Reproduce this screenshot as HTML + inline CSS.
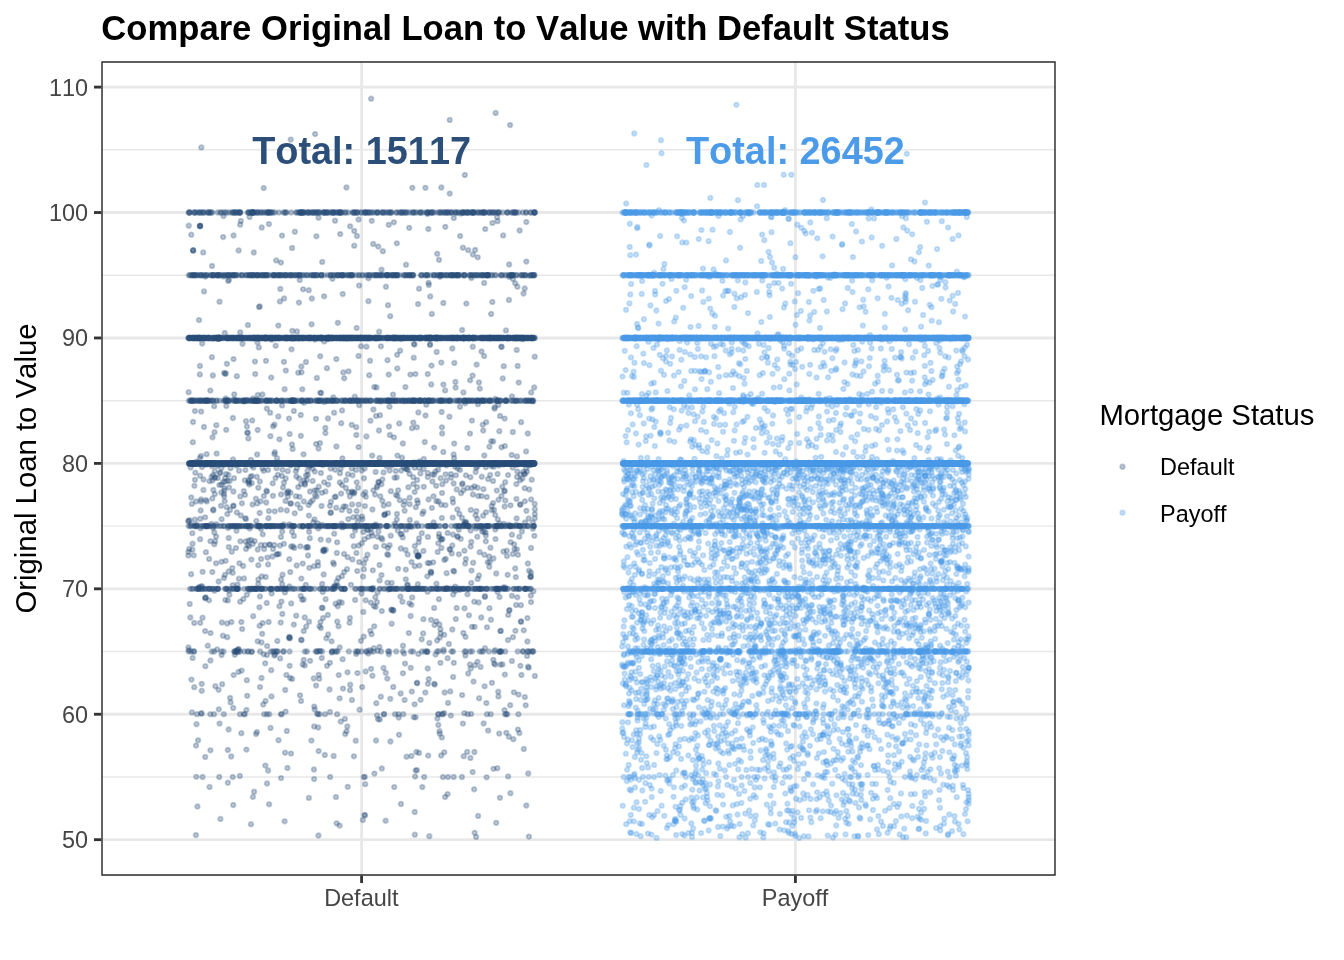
<!DOCTYPE html>
<html><head><meta charset="utf-8"><title>Compare Original Loan to Value with Default Status</title>
<style>
html,body{margin:0;padding:0;background:#fff}
body{width:1344px;height:960px;overflow:hidden}
svg{display:block;will-change:transform}
svg text{font-family:"Liberation Sans",sans-serif;font-kerning:none}
.mD{marker-start:url(#kD);marker-mid:url(#kD);marker-end:url(#kD)}
.mP{marker-start:url(#kP);marker-mid:url(#kP);marker-end:url(#kP)}
</style></head><body>
<svg width="1344" height="960" viewBox="0 0 1344 960">
<defs>
<marker id="kD" markerWidth="10" markerHeight="10" refX="5" refY="5" markerUnits="userSpaceOnUse"><circle cx="5" cy="5" r="2.25" fill="#2B4F79" fill-opacity=".3" stroke="#2B4F79" stroke-opacity=".3" stroke-width="1.8"/></marker>
<marker id="kP" markerWidth="10" markerHeight="10" refX="5" refY="5" markerUnits="userSpaceOnUse"><circle cx="5" cy="5" r="2.25" fill="#4C9BE8" fill-opacity=".3" stroke="#4C9BE8" stroke-opacity=".3" stroke-width="1.8"/></marker>
<clipPath id="cp"><rect x="101.3" y="61.3" width="954.4000000000001" height="814.4000000000001"/></clipPath>
</defs>
<rect width="1344" height="960" fill="#fff"/>
<g clip-path="url(#cp)">
<g stroke="#E8E8E8" stroke-width="1.42">
<line x1="101.3" x2="1055.7" y1="776.97" y2="776.97"/>
<line x1="101.3" x2="1055.7" y1="651.53" y2="651.53"/>
<line x1="101.3" x2="1055.7" y1="526.11" y2="526.11"/>
<line x1="101.3" x2="1055.7" y1="400.67" y2="400.67"/>
<line x1="101.3" x2="1055.7" y1="275.25" y2="275.25"/>
<line x1="101.3" x2="1055.7" y1="149.81" y2="149.81"/>
</g><g stroke="#E8E8E8" stroke-width="2.84">
<line x1="101.3" x2="1055.7" y1="839.68" y2="839.68"/>
<line x1="101.3" x2="1055.7" y1="714.25" y2="714.25"/>
<line x1="101.3" x2="1055.7" y1="588.82" y2="588.82"/>
<line x1="101.3" x2="1055.7" y1="463.39" y2="463.39"/>
<line x1="101.3" x2="1055.7" y1="337.96" y2="337.96"/>
<line x1="101.3" x2="1055.7" y1="212.53" y2="212.53"/>
<line x1="101.3" x2="1055.7" y1="87.10" y2="87.10"/>
<line x1="361.6" x2="361.6" y1="61.3" y2="875.7"/>
<line x1="795.4" x2="795.4" y1="61.3" y2="875.7"/>
</g>
<g fill="none" stroke="none">
<path class="mD" d="M446.6,573.2 347.9,474.2 465.1,403.3 517.6,366 519.6,230.5 382.8,251.2 253.2,616.2 413.8,717.2 243.4,599 200.2,518.7 460.6,213.6 508.1,475.1 393.2,686.9 227.3,514.1 341.6,523.7 517.4,286.7 365.6,671.4 249.3,484.6 388.5,504.2 327,665.8 380.7,401.4 329.5,477.7 359.1,285.6 252.5,504.5 304.7,665.4 201.7,690.7 480.5,666.9 453,502.5 342.4,458.3 325.5,491.4 472.9,494.5 280.9,262.6 396.8,519.5 292.3,330.8 221,505.8 224.7,501.3 397.5,495.8 350,690.2 204,291.4 224.9,373.8 210.5,633.1 427.7,668.5 300.3,546.3 271.6,593.6 195.9,835.1 234,478.2 349.5,622.7 516.4,498.9 226.2,429.8 280.7,622.6 285.7,478.4 346.4,187.5 265.3,765.6 361.8,543.3 441.6,412 336.3,359.1 388.2,589.5 205.3,276.6 356.6,511 380,415.2 427.7,472.9 271.2,377.6 323,618 379.6,580.4 304.7,483.2 252.9,398.4 494.5,408.7 357.9,487.7 270.5,727.9 225.6,398.4 512.8,554 414.1,344.1 362.1,516.6 253.8,252.5 226.6,507.2 434.2,474.5 351.9,699.9 298.8,464.4 335.5,586.3 531,602.1 464.7,524 478.6,602.5 381.5,575.1 265.9,360.8 474.6,832.8 401.2,470.5 511.7,455 444.3,752.3 287.8,496.6 427.3,576.3 472.6,772.1 318.1,565.7 314.7,709.5 408.8,633.1 442.4,539 270.1,412.7 364.9,815.3 486.6,777.3 427.5,214 256.3,520.9 205.9,552.2 389.6,545.2 294.3,547.9 343.3,372.4 414.5,467.7 309,621.7 441.1,504.7 442,492.9 304.9,484.7 530.9,572.3 463.4,490.3 301.5,640.2 341.2,423.2 399.2,423.4 352.5,492.6 365.8,496.7 340.5,468.8 479.8,388.6 434.7,684.6 216.2,524.2 335.9,797.1 338.3,577.9 312.6,468.6 453.8,218.1 282.3,614 229.6,480.9 203.2,252.4 202.1,343.5 440.6,478.2 279.9,545.6 334.1,412.7 232.9,418 219.5,301.7 409.8,519.9 449.7,119.9 339.9,473.2 515.4,630.8 285.5,500.9 319.2,678.7 346.6,338.6 285.8,370.6 233,459.4 406.5,468.9 263.2,704.5 326.3,638.3 219.5,723.6 288,492.3 223.1,481.9 501.4,447.3 248.6,540.5 246.3,463.8 306.8,480 434.1,607.9 524.9,522.5 501.3,346.6 419.4,565.6 390.2,316.2 318.7,674.8 444.2,634.8 423.4,551 236.8,512.5 449.7,193.6 353.9,756.3 251.4,559.6 409.6,504.2 270.5,589.4 510.4,793.2 528.2,773.5 278.5,740.2 213.2,509.5 331.6,641.3 191.8,503.9 323.9,549.4 282.2,584.2 197.4,806.5 194.9,411.1 289.2,638.2 414.7,566.2 246.9,426.6 305.9,547.5 245,494.8 354.7,396.7 265.5,700.9 419.1,555.2 253.4,467.6 296.2,615.7 357.2,571.1 465.1,563.5 447,587.9 196,745.6 414.7,812 472.9,254.6 233.2,805 410.7,667.8 205.8,500.1 200.9,501.4 356.4,552.9 221.5,561.8 266.4,490.7 211.9,357.2 268.9,224.1 493.3,659.8 240.8,515.5 230.1,698 188.4,521.3 439.8,637.5 341.1,493.6 195.3,472.7 228.7,590.5 350.2,684.7 534.8,675.9 223.9,464.7 289.8,638.2 396.9,514 225.3,599.9 356.6,327.9 445.1,390.4 205.3,666.2 291.2,603.4 233.4,506.1 449.4,416.7 379.8,719.4 309.3,567.8 378.2,246.6 454.1,458.2 442.1,433.5 376.5,387.4 262.2,633.8 338.5,626.3 205.1,631.1 420.4,473.4 484.9,596.2 216.3,425.2 515.2,568.5 471.1,713.9 220.4,472.6 516.2,524.8 191.2,497.5 363.9,569.3 188.8,650.2 342,410.4 417.9,555.4 457.6,537 510.5,505.3 262.7,534.3 439,533.9 200.6,510.5 231.4,622.1 468.2,673.5 530.7,577 457.4,536.2 440.3,464.8 246.6,463.2 198.9,587 224.7,333 201.8,586.5 529,570.7 431.1,619.8 249.5,217 214.3,532.5 498.4,696.4 496.8,490.6 386.5,466.3 335,220.7 369.4,650.2 450.9,474.1 478,404.2 530.8,595.5 524.3,473.8 291.9,444.5 471.3,541.8 282,405.4 330.5,512.9 444.9,588.9 322.2,261.9 394.5,477.7 301.3,366.5 292.9,546.4 300.8,435.8 471.4,277.9 436.4,583.7 488,479.1 445.7,558.8 369.2,375.2 314.1,726.5 305.9,361.9 200.2,622.8 406.9,337.9 460,470 290.5,492.7 397.3,368.4 246.4,749.6 385,513.9 408.4,487.2 534.2,212.5 470.8,509.9 218.5,689.8 321.5,506 284.1,298.5 263.6,470.8 375,494.6 464.4,550.7 240.1,224.7 430.6,571.7 433.2,562.3 250.9,540 377.2,486.1 508.1,776.4 228,528.1 223.8,494 290.1,678 310.1,660.8 376,415.9 433.5,522.5 343,688.6 492.4,222.9 284.6,389.2 531,547.9 416.9,682.7 432.3,474.6 315,495.4 475.1,250 273,549 217.7,478 240.3,496.4 226,474 342.6,659.2 496.2,822.8 233.3,505.7 381.5,269.7 308.8,797.9 252.2,420.4 363.3,611.9 279.9,301.4 445.6,474.3 336.6,823.3 404.8,501.2 358.5,219.5 261.5,678 435.5,654.6 219.3,485.1 282.2,531.6 465.9,521.9 259.6,513 239,470.7 473.5,681.6 476.1,467.7 238.1,652.1 205.1,598.2 280.7,509.7 224.4,490.4 502.4,664.4 510.1,125.1 372.4,675.7 251.7,483.1 325.3,428 307.8,475 478.9,382.5 283.9,482.8 385.7,672.8 232.7,585.2 288.1,491.2 325.4,433.1 192.3,533.2 194,651.4 379.1,331.7 316,418.8 512.9,279 466,522.9 318.3,528.6 404.6,699.9 308.9,515.6 215.1,541.2 373.9,606 227.8,750 227.8,600.4 301.1,484.1 282.4,469.8 508.9,736.7 491.7,510.2 281,579.5 495.2,650.1 388.7,374.6 233.6,675.1 390.4,741.5 286.4,674.9 387.9,548 275.6,345.7 444.1,713.1 477.7,257.3 299.5,496.8 489.7,561.9 291,753.6 329.9,712 504.4,490.7 332.4,278.8 417.8,584.2 503.1,235.4 286.6,492.9 474.6,626.8 534.8,518.2 251.7,476 364.6,468.5 486.2,422.2 345.2,734.1 380.8,696.7 511.9,534.7 409.4,603.3 302.1,599.7 261.7,227.5 381.8,768.5 341.9,576.2 333.1,562.6 318.2,727.5 278.3,325.6 283.9,543.8 443.3,451.9 501.5,495.9 387.2,554.2 468.2,250.2 362.8,820 206.8,501.4 283,487.5 418.1,556.4 489.1,556.5 219.8,473.1 472.7,346.7 190.6,467.4 528.6,275.8 286.8,510.5 483.6,723.5 278.9,553.9 495.8,463.8 230.6,702.4 299.7,280.1 246.8,594.8 436.6,351.9 363.5,494.4 266.8,408.6 301.3,578.6 454.3,362.9 244.8,480.3 268.6,622 242.5,343.8 191.4,679.6 201.2,713.2 289.3,586.5 330.6,468.6 192.6,657.9 300.7,595.9 295.9,496.2 478.1,815.9 337.8,322.8 289,418.6 527.1,655.9 427.7,374.1 293.9,535.9 354.4,492.3 339.6,698.3 471.5,570.6 234.8,654.7 200,226 344.6,589.2 370.7,528.8 388,513.1 191.1,574.2 431.1,572.2 343.4,465 263.7,654.3 499.5,597.1 322.1,584 214.5,432.2 493.1,503.1 484.8,596.9 428.5,282.8 407.6,554.4 333.3,397.3 194.9,519.6 491.9,682.8 380.3,496.3 467.5,487.9 418.3,653.9 464.5,608.3 393.9,437.3 417.1,683.3 195,479.8 402.8,443.5 328.5,540.3 479.6,552.2 355.1,599.9 254.7,541.1 310,491.5 501.6,347 228.7,537.9 372.2,455.6 192.8,442.2 437.6,551.9 355.9,469.9 322.7,592.1 273.1,426.3 276.7,554.3 280.1,658.4 294.7,513.3 241.3,622.1 462.6,483.3 520.5,474.6 287.4,768 510.6,542.2 494,663.4 313.3,522.2 471.9,420.6 530.7,576 495.5,539.1 248.3,438.4 276.2,260.4 224.8,574.9 304,480.3 371.1,98.7 285.6,711.6 247.2,695.8 259.4,607.3 357.4,673.1 443.3,303 228.9,279.8 377.8,650.9 419.1,538.3 484.9,648.2 465.5,636.8 373.8,648.2 361.7,470.5 265.2,663.3 429.3,642.9 368.2,653.6 415.6,717.3 365.2,784.2 368.4,301.2 190.3,617.5 476.6,364.6 531.7,479.7 474.4,486.3 427.7,562.9 399.8,500.2 413.3,422.6 188.4,520.8 337.2,621.6 199.9,457.8 430,344.2 370.8,602.6 503.1,587.6 418.3,556.5 531.1,499.4 246.4,710 303.1,289.3 372.3,589.5 336.7,581.5 256.9,732.1 321.7,658 467.1,751.9 215.2,477.2 234.2,394.3 520.9,605.2 464.8,175 349.8,496.4 381.2,537.9 526.3,222.1 284.6,821.3 442.3,484.2 320.2,392.8 191.9,712.4 423.7,458.9 333.6,755.9 258.1,401.1 402.9,673.3 434.2,683.8 268.4,518.2 201.7,683.8 436.4,501.2 277,458.2 462.1,695.1 439.4,624.5 321.1,393 308,555.5 246.8,680.2 460.7,538.8 472,626.8 481.5,351.5 215.3,686.2 366.4,436.4 368.2,529.9 242.1,629.1 213.3,490 350.1,226.3 526.1,468.5 455.1,586.6 335.6,603.7 484.3,554.7 451,477.7 246,549 450.2,691.4 200,226 236.3,465.7 497.8,519.4 270.4,436.2 272.4,556.5 422.4,513.8 463.3,633 364.9,506.1 422.3,787.1 463.4,392.4 417.8,503 196.3,776.8 519.3,536.7 260,687.1 428.5,499.5 316.8,377.9 228.6,571.5 421.8,533.2 423.1,633.4 532.7,401.4 481,528.2 467.4,594.3 440.4,662.8 314.2,706.6 428.2,755.6 470.7,668.6 271.2,670.2 318.5,448.6 258.3,565.2 252.9,796.9 502.7,378.4 278.3,416.4 365.7,559.1 427.7,477.1 250.5,476.8 473.1,562.7 311.6,324.3 483.4,489.2 320,443.1 289.4,636.8 516.1,604.9 300.7,415 500.7,630.9 433.5,496.3 522.9,339.1 324.1,482.3 466.3,303.6 522.4,478.4 211.6,476.7 354.2,231 262.7,623.1 347.5,672.3 465.4,655.5 439.1,536.8 376,740.5 400.6,534.2 451.1,337.8 443.5,649.7 499.9,797.8 470.6,546.6 393.1,610.5 494.1,510 402.7,537.4 524.8,697.1 398.7,717.5 411.5,562.1 499.2,733.6 352.4,559.4 265.7,577 429.3,836.2 281,778.1 296.9,468.3 378.8,482.1 428.3,229 289.6,665.8 303.8,501.4 469.9,664.4 324.2,341.4 524.6,488.2 289.3,559.2 232.7,572.8 516.8,549.3 293.8,410.9 414.8,546 228.2,280.9 359.2,405.2 414.8,834.7 340.2,234.1 221.3,484.6 317.7,523.3 476.4,511.1 274.3,545 498.2,405 528.7,518.4 534.8,514.1 488.1,730.6 358.5,504.6 441.8,517.9 402.4,601.7 462.1,330 477.5,661.8 213.3,510.4 342.3,527.4 196.5,724.2 513.3,739.2 412.3,187.8 405.4,387.1 431.5,365.6 225.1,478 427.6,591.8 534.7,356.7 487,627.3 216.1,536.6 352.6,535.8 194.2,622.9 521.9,531.5 206.6,454.2 508.2,614.9 479,575.4 409.5,473.9 246,421.2 450.1,549.8 371.1,668.8 306.2,626.4 193.7,555.3 303.9,402.8 201,499.5 402,457.7 406.2,529.7 201.3,147.4 441.7,539.6 416.4,752 252.7,544 259.6,625.7 484.1,282.9 225.9,373.5 199.9,365.9 520.3,504.7 507.6,574.8 374.2,626.3 426.2,404.7 241.6,670.6 520.1,504.3 331.6,652.4 224.1,372.8 217,649.4 300,695.3 268.1,564.4 416.9,770.2 245.4,469.9 378.4,482 348.5,371.3 400.6,693.5 375.6,606.9 527.7,433.5 221.5,655 264.1,549.1 534.6,503.9 366.4,346.7 358.6,545.5 519.3,525.8 294.8,231.7 416.5,523.5 255.2,374.1 486,512.3 418.6,542.3 193.1,250.4 220.4,818.9 400.8,548.5 457.6,468.5 314.1,779.1 528.9,836.6 534.2,212.5 201,455.9 510.2,705.2 261.5,642.4 508.9,299.9 241.9,503.3 388.8,654.3 291.1,546.5 518.5,694.6 506.3,732.8 201.9,467.1 468.9,615.3 313.9,769.5 228.8,547.1 498.8,465.6 440.4,629.2 506.9,550.7 368.4,278.3 376.9,602.1 385.9,286.7 322.5,608 221.4,468.1 499.4,523.5 356.2,427.2 201.1,411.6 315.1,134.1 256.8,476.8 533.4,591.2 411.4,526.9 348.7,492.1 485.8,535.6 452.6,498.6 507.9,640.1 474.2,601.7 339.8,482.5 492.3,301.9 377,715.4 240.2,332.3 301,700.9 314.8,471.6 364,478.3 374.3,387 490.1,474.9 292.1,678.9 448,702.9 226.3,406.1 423.5,511.6 237.4,649.9 200,226 303.5,454.3 212,266 345.7,506.6 306.4,465 266.7,602.9 289.6,433.9 452.3,348.5 483.1,515.7 484.3,455.5 293.8,624.6 503.9,523.8 275.5,478.1 359.5,709.7 502.3,486.7 342.7,294.1 302.7,563.6 372.4,509.5 222.9,635.7 506.9,556.1 464.5,522.1 342.1,485 254.1,791.7 515.2,283.3 445.4,505.2 455.8,619.1 500,416 325.8,549.8 406.1,468.8 367.1,529.8 474.8,665.2 260.8,544.9 210.4,750.3 300.3,508.2 320.8,628.1 299.2,478.5 517.3,597.3 230.5,468.2 340.7,721.6 387.5,360.2 323.6,574.4 245.9,518.9 526.4,510.8 240.8,220.9 353.3,517.2 460.1,236.1 534.3,535.8 458.8,529.7 497.3,768.2 260.6,501.3 458.8,554.3 456.6,608 267,783.5 419,288.7 248.8,546.2 358.5,447.1 499.3,652 223.6,276.4 437.1,640.5 377.5,536.8 443.4,384.6 356.3,435 205.4,597.7 208.9,600.3 316.1,444 485.6,532.6 257.7,394.9 203.9,427 334.7,497 391.7,465.4 259.7,306.4 274.7,511.3 247.2,432.7 324.1,551.3 229.4,594.7 532.8,522.6 485.8,541.3 530.9,464.9 205.2,756.9 389.6,470.5 504.8,674.6 524.8,501.3 302.7,664.4 382.3,539.4 441.3,362.6 355.1,530.6 490.4,547.7 389.5,406.7 521.4,675 362.1,687.1 233.5,235.5 439.7,733.7 509.3,276.9 344.2,378.3 441.3,187.5 453.6,483.5 324.1,296.3 364.5,539.2 353.9,493.6 194.2,687.2 189.7,603.9 465.9,475.3 233.2,707.9 203.4,489.9 201.5,586.4 376.3,703.2 451.7,553.4 367.4,554.7 238.6,649.4 385.6,820.7 504.5,491.3 414.6,704.3 346,480.1 262.5,468.4 224.1,496.4 334.2,533.7 353.8,546.2 320.2,356.3 485.2,229.1 445.1,797 188.4,551.9 228.4,475 388.1,651.3 295.8,471.3 454.1,571.5 274.4,453.9 455.3,590.9 251.6,465.7 280.9,536.9 285.1,752.7 214.2,406.2 362.3,519.3 201.5,713.7 335.2,469.8 211.4,524 212.4,480.5 360.9,346.2 279.4,439.3 298.2,487.1 365.6,600.3 393,394.6 431.2,384.4 382.4,500.8 318.5,217.7 203.5,479.5 438.3,724.9 399,734.8 508.6,524.7 336.2,507.7 233.4,491.5 431.8,313.9 188.4,647.5 493,480.9 438.3,501.4 282.5,574.7 322.7,465.1 315.1,339.6 212.3,572.1 261.6,576.5 213,527.9 444.6,692.5 436.2,485.8 452.3,629.5 410.6,616 484.1,356.1 470.4,757.9 503.7,366.2 320.7,539.6 424.7,442 309.8,538.2 489.3,566.8 193.1,250.4 526.3,805.5 244,578.4 383.5,472.4 526.3,261.6 491.4,466.2 388.9,426.5 417.8,555.6 470.6,530.5 314,566.2 245.2,518.2 519.4,733.1 281,494.5 339.7,647.5 336.4,446.5 210.4,541.2 327.9,418.5 432.4,481.5 329.9,662.8 277.3,640.9 413.9,462.3 336.8,552.9 260.9,528.9 388.7,224.8 470.1,380.3 226.9,363.8 324.1,402 246.7,399.9 350.9,584.8 223.5,216.1 497.1,217.2 274.8,452.2 453.2,594.4 235.9,548.1 505.2,482.2 344.8,718.9 527.4,641.5 344.1,572.1 440.7,539 322.1,525 434.5,625 398.2,490.3 281,400.9 517.6,464.2 407.8,585.2 192.5,543.7 477.3,536.7 381.8,611.1 395.9,495 312.6,500.3 524.7,288.5 290.2,572.1 398.1,568.8 238.2,649.2 393.8,222.3 412.2,597.4 199.8,374.4 344,553.9 396.7,477.4 494.7,407.2 306,475.3 363.7,636.6 248.5,480.2 257.6,430 271.5,339.7 257.6,641.3 447.6,533 454.2,443.6 356.9,236 497.6,592.1 374.4,773.6 289.3,637.3 503.2,464.6 409.6,497.7 313.7,678.4 303.6,599.4 314.4,519.3 243.8,401.6 418,304.1 441.1,755.5 523.8,748.9 355.3,527.4 394.9,523.6 378.4,531.4 461,493.2 438.9,599.2 437.4,718.5 257.1,454.5 212.5,437.3 391.6,623.7 213.1,475.2 267.1,646.1 341.7,602.7 324.8,755 292.1,248 205.8,464.7 281.4,601.6 474.4,752 325.6,599.2 209.1,558.9 349.5,511 243.8,491.1 511.9,660.9 370.3,630.8 450.8,715.6 482.7,424.7 312.6,480.9 290.6,503.4 390.7,535.7 455.9,475.3 356.2,654 400.4,596.6 292.6,449 258.3,487.7 223.9,577.9 266.9,491.6 365.3,492.2 247.9,325.1 214.3,544.3 447.6,658.2 269.1,804.3 205.6,597.4 527,471.7 267.5,464.3 498.5,499.7 518.7,382.6 379.5,565 516.4,484.1 216.6,453.6 534.2,387.4 504.6,506.6 318.4,835.5 241.3,733.2 496.2,573.5 245.5,541.4 349.9,618 227.5,480.7 376.7,463.9 320.5,622.1 336.8,586.6 516.6,518.5 509.1,610.4 272.7,483.3 526.1,451.4 534.2,212.5 214.6,478 212.8,375.5 274.4,424.6 493.4,558.5 249.5,590.1 415.8,507.2 453.1,676.9 430,345.1 437.2,253.8 521.1,621.7 438.8,651.2 456.7,489.4 296.4,476.6 512.9,637.2 221.6,519.2 316.6,496.4 474.1,789.3 337.7,606.3 258.3,583.8 477.6,578.9 401.7,533.9 339.3,602 351.7,468.4 375.3,597.2 283.9,361.8 305.8,584.8 504.8,587.3 495.2,664.6 431.9,507.9 269.5,544.7 459.9,406.7 236.8,376.2 479.1,698.2 218.2,339.1 327.8,615 523.4,471.8 321.8,607.7 418.3,412.4 449.5,549.1 388.2,555.1 405.8,579.3 247.8,432.8 405.8,569.6 463.7,756.2 355.7,740.7 471.9,488.1 309.1,531.8 337.6,585.7 334.8,585.6 499.3,431.2 441.4,547.9 517.3,471.6 188.6,392.2 193.1,250.4 403.6,504.9 272.9,495.8 516.9,456.4 413.7,357.7 520.8,621.5 417.1,487.2 259.8,481.6 308.6,505 261,558.9 209.5,481.2 218.6,581.5 318.6,751.1 397.1,354.8 472.6,375.6 411.4,604.8 495.6,112.9 493.8,466.7 329.9,505.8 232.3,568.1 390.8,491.2 359.7,465.5 303.7,631 363.3,532 373.4,409.5 483.2,430.6 356.7,482.3 415.1,776.5 403.9,467.4 308.7,290.2 266.9,655 230,509.9 528,666.7 400.9,804 371.5,634.2 419.3,467.9 373.4,490.3 302.3,389.3 268,470.1 250.9,824.2 191.2,234.7 417.2,500.3 397.8,530.6 317.8,561.9 436.3,621.3 500.4,630.9 257.2,503.4 224.9,481.7 311.2,464.8 290.6,465.4 200.1,475.7 236.5,530.8 475.6,472 409.2,227.8 430.2,296.4 223.1,237.1 198.1,740.3 268.9,511.1 384.1,515.1 482.1,526.7 404,653.6 196,501.5 471.2,582.9 233.5,359.1 481.5,496.1 248.8,481.5 330.8,512.4 439.8,276.8 423.4,619.2 304.7,617.4 484.1,531.6 417.1,480.1 489.4,446.7 427.9,683.8 224.2,488.1 316.8,490.6 360.9,640.8 202.6,571.8 527.8,563.5 400.6,339 205.1,517.3 498.2,691.7 258.3,579.4 412.6,464.5 318.7,486.7 363.1,576.6 407.1,584.7 464.3,524.3 523.5,293.5 470.4,477.2 200,226 462.9,723.6 457.3,509.4 509.5,610.1 476,528.6 225.6,560.8 322.9,550.9 452.9,534.5 291.5,349.3 375.8,546.9 495.3,398.8 320.9,473 438.3,543.3 337.1,542.3 368.3,536.9 425.4,187.8 529.2,489.4 530.4,576.9 202.5,617.7 481.2,617.5 258.5,275.3 269.7,544.6 240.4,541.3 382.6,463.6 327.5,339 361.5,593.6 452.7,517.6 523.7,630.3 380.9,346.3 438.1,469.7 281.9,476 267.4,557.6 378.9,430.5 347.3,726.5 387.4,582.7 439,259.8 266.2,502.5 285.2,690 485.8,467.2 493.2,441.4 297.4,504.3 517.9,729.6 221.3,492.5 238.9,578.7 249.6,528.6 528.9,465.5 341.8,509.9 441.8,737.4 310.4,502.2 310.9,464.9 406,264.7 298.9,302.6 464.3,713.2 412,428.2 477.6,466.6 317.4,713.7 406.5,756.7 207.7,645.7 484.6,686.3 405,663.6 391.3,609.8 428.7,679.1 459.4,514 227.2,637.2 371.5,532.9 475.5,515.3 375.6,471.9 271.4,696.4 515.8,577.1 393.3,610.5 214.4,590.7 200.5,528.3 363.9,563.5 489.4,608.2 455.6,387.6 212.3,498.4 500.4,664.6 477.4,519 477.6,487.7 227.2,623.4 427.4,652.1 319.8,651.2 348.3,519.1 335.7,496.7 221.9,622.5 199,587.7 268.1,770.5 309.5,466.5 329.5,689.5 434.1,447.6 410.4,374.6 376.8,487.4 378.1,719.2 379.5,457.9 284.9,592.4 319.5,626.3 447.6,794.1 440.6,633.3 416,551.7 255.9,498.7 491.6,505.9 534.8,509.2 517,476.9 513.9,692.3 524.9,474 382.4,479.5 314.7,490.3 527.4,618.1 227.8,782.7 455.4,382 441.9,427.3 214.8,494.1 453.8,662.8 210.3,390.6 448.8,644 521.1,422.2 263.8,496 497.5,473.9 514.1,544.3 347.6,557.2 274.2,655.5 495.2,515.1 251.6,652.1 222.1,684.2 289.3,524.4 248.5,482.8 419.3,461.3 445.3,226.8 381.4,484.3 256,734.1 435.4,471.4 358.5,355.9 228.6,729.5 319.8,650.9 357.7,522 405.5,550 277.4,554.3 258.8,347.4 419,752.9 301.2,639.7 239.4,563.3 308,547.4 352.5,475.3 497.5,221.2 429.5,563.2 218.8,709.3 505.3,500.6 237.5,584.6 405,401.2 333.9,564.3 296.9,331.5 259.9,596.4 352,491.6 407.9,469.9 439.5,731.2 212.1,338.8 323.6,550.2 486.7,497 411.4,755.9 354.2,245.7 339.6,825.6 504.5,710.1 231.2,756.5 453.3,570.8 321.9,492.8 397.5,455.6 229,487.5 277.9,474.8 316.4,236.3 263.7,188.1 238.6,250.4 210.4,660.5 364.5,815 446.1,480.5 520.2,480.2 257.5,342.6 504.6,418.6 503.4,551.5 231.7,551.7 250.9,459.8 196.5,461.6 413.3,484.1 265,544.9 395.7,471 481.7,476.7 239.8,776 199,320.1 345.8,487.9 191.6,524.5 491.2,441.2 514.8,401.1 243.1,566 490.9,619.7 373.2,588 493.5,768.8 200.1,539.2 512.7,467.6 504.8,446.1 516.3,464.7 233.7,399.3 301.5,372.3 343.6,506.5 394.2,787.1 417.6,556.1 352,504.4 286.8,731 298.2,372.7 525.7,705.3 414.3,344.5 307.5,470.7 216.1,563.3 347,569.2 326.9,368.2 455.1,466.7 384.1,545.8 509.1,264.5 192.4,549.7 346.5,731.3 188.7,225.7 512.8,432 453.6,454.4 351.7,424.8 338.7,675.1 328.1,634.5 383.5,667.9 416.8,427.3 189.6,520.1 280.3,288.9 259,306.9 290.7,139.6 415.4,374.1 275.1,654.5 336.1,525.9 391.7,609.7 487.7,562.2 444.3,559.9 328.2,484.6 240.1,601.7 375.5,524.5 514.5,549.2 482.3,531.7 214.8,471.2 276.5,468.2 287.7,471.2 377.5,592.4 425.5,415.5 516.7,349.9 370,360.7 282,235.6 491.1,313.9 384.8,514.8 247.6,544.9 310.3,464.7 196.7,524.7 511.9,595.8 302.4,526.5 478.2,496 531.2,392.4 370.4,420.7 372.4,535.7 292,531.8 372.8,570.3 373.2,243.9 471.7,464 446.3,465.4 511.9,396.4 188.4,555.4 189.2,548.9 330.9,501.7 311.4,740.6 495.3,529.6 517.9,554.8 262.4,394.5 290.7,503.6 402.9,645.7 390.3,698.8 388,305.2 400.1,350.7 387.3,678.6 470,433.6 415.6,770.3 371.7,220.8 193,422 505.9,330.4 212,466.2 396.8,243.3 383.7,505.5 452.3,545.4 279.4,606.2 532.8,528.7 459.5,589.8 425.3,692.6 296.7,565.5 423.6,468.9 520.4,665.8 311.8,298.5 391.6,582.9 217.2,465.9 528.7,667.7 257.7,549.5 357.5,517.1 431.1,573.2 467.3,448 420.6,699.8 406.8,464.5 303.7,660 238.5,671.9 427.8,536.9 404.6,510.7 428.8,284.9 465.8,559 476.1,836.9 333.8,587 347.7,786.8 421.7,639.3 486.4,703.1 423.7,486.8 209.5,786.9 411.8,691.6 302.4,212.7 389.8,435 254.9,361.6 194.4,485.8 379.4,647 462,517.9 307.2,547 462,484.6 462.9,247.7 413.2,477.2 283.6,524.4 359.2,562.1 414.6,492.1 316.1,685.6"/>
<line x1="189.4" x2="533.8" y1="463.4" y2="463.4" stroke="#2B4F79" stroke-width="6.5" stroke-linecap="round" stroke-opacity=".92"/>
<path class="mD" d="M202.5,777H219.2H232.7H330.1H363.7H364.8H424.1H442.9H448H453.7H461.9"/>
<path class="mD" d="M196.9,714.2H210.3H214H223.8H239.9H243.8H244.8H264.2H266.9H269.2H280.9H281.6H317.8H319.5H325H337.1H383.9H383.9H395H398.5H403.2H438.2H438.5H442.2H442.7H467.7H486.9H490.7H505.1H506.2H507.3H518.4"/>
<path class="mD" d="M188.7,651.5H191.3H193.8H211.7H214.1H221.3H223.5H234.2H234.7H235.4H236H236.3H237.6H240.1H244.2H247.5H248.4H251.8H260.1H270.7H272.8H274H275.6H277H277.6H283.1H283.7H289.5H304.8H306.9H315.6H317H317.1H322.1H332.1H332.1H334.8H336.3H337.4H348.8H355.7H357.5H358H361.5H366H366.9H370.8H373.5H381.1H389.3H396.2H402.8H410.8H413H421.9H424.9H426.7H427.1H436.9H443.6H451.5H453H464.6H465.8H470H472.1H479.6H481.6H483.2H488.8H494.2H499.6H500.1H500.5H501.6H505.2H517.7H522.9H523H527.4H528H529.5H532.2H532.6H533.3"/>
<path class="mD" d="M190.1,588.8H191.7H193.2H196.4H196.7H198H198.4H198.7H199.4H200.4H201.7H202.2H203H205.2H205.2H207.3H209H209.3H209.4H211.6H212.5H213.3H215.4H217.1H217.6H218.1H218.2H224.9H225.8H226.8H226.9H230.1H231.8H233.2H233.6H236.1H236.8H236.9H236.9H237.1H237.5H237.6H238.7H244.3H247.8H248.1H248.4H249.9H250.8H251.4H251.9H252.2H253.3H254.8H254.9H255H255.3H255.5H256.4H256.8H257.9H258.2H260.4H261.4H261.4H261.8H262H262.3H265.2H265.3H269.4H270.2H271.3H271.3H272.4H275.3H277.1H277.1H277.6H278.6H280.1H281.1H281.5H283.6H283.9H284.9H285.1H285.5H286.6H287.6H289.6H292.3H293.6H294.9H298.3H301.1H302.3H303.2H303.6H303.8H304.9H306.1H309.3H309.4H310.4H311.4H314.6H319.6H320.3H322.3H323.9H324.1H327.1H327.4H331H332.3H332.7H334.1H334.6H341.3H341.5H341.7H344.1H344.4H344.9H355H356.2H359.8H360.4H361.9H362.1H363.5H365.6H368H370.2H370.4H372.1H372.4H372.5H379.6H379.8H383.4H384.8H388.2H389.5H389.9H390.2H390.3H392.7H392.7H394.6H395.3H396.6H396.8H397.9H400.6H402.3H403H405.5H407.1H407.9H407.9H408H408.2H408.9H409.4H410.4H411.3H412.3H413.3H414.3H415H415.4H416.1H416.2H418.3H418.3H418.3H419H420.2H421.9H422H422.9H423.9H425.3H425.9H430.3H430.3H432.2H432.5H434.7H436.5H436.7H436.8H438.9H438.9H440H442.4H443.3H444.2H446H446H446.6H446.9H447.4H450H450.1H450.2H453H453.6H453.6H454.2H456.5H458.1H458.4H459.4H460.1H461.9H462.8H463.4H463.8H465.3H467.7H468H468.2H468.8H472H473.3H475.3H475.3H475.5H477.3H478.7H479.3H479.6H479.8H480.1H481.8H481.9H482.2H485.5H486H487H487.3H490.8H493H494.6H496.1H496.2H496.2H496.9H496.9H498.1H498.2H498.5H499.6H500.1H502.6H503H504.8H505.1H505.2H507.1H508H513.3H513.8H516.1H517.1H518.9H519.1H520H524.4H525H525.1H525.3H525.5H526.8H528.4H530H531"/>
<path class="mD" d="M188.6,526.1H190.1H191H193.9H194.7H195.7H195.9H196.5H197.3H200.6H201.7H203.1H205H205.4H205.8H206H206.1H207H207.2H207.5H208.3H209H210.8H213.1H213.8H214.7H217.4H219.7H221.6H224H224H228H228.2H229H230.7H230.9H231.5H232.6H233.9H234H234H235.8H235.9H236.3H238H238H239.6H239.8H240.4H242.1H242.6H245H245.5H246H247H247.5H247.9H248.8H249.5H250.5H250.8H251.6H256.4H256.5H257.6H258.5H258.6H258.8H259.1H259.3H260.4H260.5H260.6H261.9H264.7H265.8H266H266.4H266.5H266.7H266.7H268.9H269.5H270.4H270.6H270.8H270.9H271.5H272.8H273.2H274.4H274.4H274.6H276.2H277.5H277.6H278.9H279.8H280.7H280.7H282.1H282.5H282.6H282.7H283.2H286.9H289.2H291.4H291.6H292.2H293.2H293.3H293.6H294.4H294.5H299.6H299.7H302.5H302.7H303H303.3H306.9H307.5H308H308.6H309.3H309.4H310.5H310.8H313.9H315.7H316H318.2H319H320.2H321.1H322.6H325.1H325.7H326.9H326.9H327.7H329H329.1H329.5H331.7H332.4H333H333.1H333.4H333.5H334H335.3H335.5H335.6H336.4H339.3H339.6H341.2H341.8H343.2H343.5H344.4H344.5H345.7H347.1H347.8H349.7H350.5H351.9H352.6H354H354.5H355.1H355.2H355.4H356H357.9H358.5H359.5H360.6H362.1H362.2H364.1H364.4H365.2H366H366.2H366.7H366.9H369H369.4H370.2H372.2H372.9H373.4H373.7H374.8H375.1H376.3H376.4H376.8H379H380.2H380.7H386H386.1H386.4H387.1H387.5H388H393.1H395.7H395.9H399.7H400.8H401.2H401.7H403.1H405H407H408.1H408.9H409.6H410.1H411.4H414.7H417.8H418H421.9H426.6H427.9H428.4H428.5H429.8H431H431.1H432.6H433.3H434.5H434.5H434.9H435.1H436.1H438.6H440.3H445H445.1H445.5H451.3H455H456H456.8H458.6H459H459.1H460.1H462.9H462.9H463.4H464.8H466.9H466.9H468H468.1H468.2H469.2H469.4H473.7H474.5H476.3H477H477.3H479.5H480.3H480.9H481.5H481.9H484.7H485.4H486.3H486.7H487.4H487.6H488.1H488.6H489.3H490.5H494.4H494.4H495.6H496.2H496.4H497H497H497.3H498.3H499.3H500.8H500.9H502H502.1H504.3H505H506.1H508.2H509.5H509.9H510H510.5H510.5H511.9H512.8H513.9H516.1H516.6H519H519.8H520.1H520.1H521.3H524H524.5H526.7H527.9H528.2H533.2H533.7H533.7H533.9"/>
<path class="mD" d="M189.4,463.4H189.7H190.2H190.6H190.8H191.3H191.9H192H192.1H192.4H192.5H192.6H192.9H193.3H193.4H193.6H193.6H193.6H193.6H193.7H194.2H194.3H194.3H194.6H195.1H195.1H195.4H195.6H195.9H197.3H198.2H198.4H198.7H199.9H200.1H200.3H200.4H201H201.2H201.5H201.8H201.8H202.9H204.6H204.8H204.8H205.1H205.3H205.5H205.9H206.5H206.6H207H207H207.1H207.2H207.5H207.5H208.7H209.7H210.1H210.1H210.3H210.3H210.4H210.4H210.5H210.7H210.8H211H211.1H211.2H211.3H212.2H212.3H212.4H212.6H213.4H214H214.1H214.2H214.4H214.5H214.6H214.8H215.1H215.8H215.9H215.9H216.5H216.8H217.5H218.7H218.7H219.3H219.9H220H220.1H220.1H220.1H221.1H221.3H221.4H222.1H222.2H222.3H222.5H222.7H222.9H223.4H223.6H224.1H224.3H224.4H224.6H225H225.6H225.9H226H226.1H227H227.1H227.2H228H228.4H228.5H228.6H228.7H228.7H228.9H229.1H229.4H229.8H230.1H230.2H230.4H230.9H231.2H231.8H231.8H231.8H232.4H232.6H233H233.2H233.3H233.3H234.1H234.1H234.7H235.1H235.6H236.3H236.8H236.9H237H237.1H237.5H237.5H237.8H238.1H238.1H238.3H238.6H238.8H239.2H239.5H240H240.3H240.5H240.5H240.8H240.9H240.9H241.2H241.2H241.3H241.3H241.7H241.7H241.8H242.8H243.1H243.1H243.2H243.6H244.4H244.5H244.6H245.5H245.7H245.8H246.1H246.1H246.3H246.3H246.4H246.5H246.6H247.1H247.6H247.8H248H248.2H248.9H249.3H249.8H250.2H250.3H252H252.1H252.6H252.7H252.9H252.9H253.2H253.4H253.9H253.9H254H254.1H254.8H254.9H254.9H255H255.6H255.6H255.9H256.6H256.7H256.9H257.7H257.7H258.1H258.1H258.2H258.3H258.4H258.4H258.8H259H259.1H259.3H259.4H259.7H259.7H259.9H260H260.1H260.1H260.2H261H261H261.2H261.6H261.9H262.4H263.7H264.1H264.2H264.4H264.6H265H265.3H265.5H265.5H265.9H265.9H266.1H266.5H266.8H267H267H267.2H267.2H267.5H267.6H267.8H267.8H268.9H269.4H269.8H269.9H270.8H271.1H271.3H271.6H271.7H272H272.4H273.4H273.7H274H274.3H274.7H275.1H275.1H275.2H275.7H276H276.5H277H277.1H278H278H278.2H278.7H279H279.5H279.6H280.2H280.4H280.5H280.7H281H281H281.2H282.2H282.7H283H283.7H284H285.2H285.3H285.7H286.2H286.5H287H287.5H288H288.1H288.2H289.1H289.7H289.9H290H290.1H290.2H290.3H290.4H291.1H291.4H291.9H292H292H292H292.1H292.5H292.8H293H293.5H294.1H295.4H295.8H295.8H296H296.5H297.2H297.3H297.5H297.5H297.8H297.8H297.8H297.9H298.2H299.4H299.8H300H300H300H300.3H300.4H300.4H300.7H300.7H301.3H301.4H301.7H302.4H302.7H303.1H303.6H303.8H303.9H303.9H304.4H304.7H305.9H306H306.4H306.7H307.5H307.6H307.6H307.7H307.9H308.3H308.6H308.9H308.9H309.7H309.8H309.8H310.1H310.5H311.3H312.2H312.3H312.5H313H313.2H313.8H314.3H314.3H314.7H315.7H316.1H317.3H317.5H318.2H318.8H318.9H319.3H319.3H319.5H319.6H319.8H320.1H320.3H320.3H320.6H321H321.1H321.2H321.5H321.7H321.7H322.2H322.3H322.6H323.3H323.7H324.8H325.7H325.7H325.9H326H326.5H326.8H326.8H327H327.3H328.4H329.4H330.3H330.7H330.8H330.9H332.3H333.1H333.5H334.3H334.6H334.9H335H335.7H335.7H336H336.2H336.2H336.6H337.2H337.4H337.5H337.5H337.7H338H339.3H339.4H339.4H340.6H340.7H341H341.1H341.2H341.2H341.5H341.6H342.4H342.5H342.9H343H343.2H343.5H344.6H345.5H345.6H345.8H345.9H346.2H346.6H346.6H347.6H347.7H347.7H347.7H348H348.3H348.4H348.4H348.9H349.3H349.8H350.1H350.1H350.4H350.6H350.9H350.9H351.1H351.6H352.6H352.6H352.7H353H353.3H353.9H354.4H355.2H355.4H355.6H355.6H356.1H356.2H356.5H356.9H357H357.4H357.6H358H359H359.4H360.2H360.2H360.8H360.8H361.1H361.3H361.6H361.6H361.9H362.2H362.3H362.5H362.5H364H364H364.2H364.8H365.2H365.6H366.1H366.3H366.5H367.8H367.9H368.5H368.6H368.8H368.9H369.6H369.6H369.7H370.1H370.2H370.4H370.8H370.9H371.2H371.6H371.6H371.7H371.8H372.1H372.3H372.5H372.6H373.4H373.5H373.5H373.7H373.8H373.8H373.9H374.3H374.7H374.8H375.9H376.1H376.3H376.3H376.3H376.4H376.5H376.6H376.8H377.1H377.2H377.7H378.1H378.5H378.6H378.6H378.6H379H379.2H379.4H379.8H379.8H380.7H380.8H381.3H381.6H381.7H381.9H381.9H381.9H382.5H383.2H383.6H384.8H384.8H385.5H385.8H385.8H385.9H386.2H386.3H387H387.2H387.4H387.6H388H388.3H388.3H388.8H389.4H389.7H389.9H390.3H390.8H390.8H391.1H391.2H391.3H391.5H391.9H392H392.3H392.7H392.7H393.1H393.2H393.2H393.6H393.9H394.4H394.9H395.1H395.1H395.6H396.1H396.7H396.8H397.2H397.2H398H398.1H398.2H398.2H399.6H400.2H400.7H401.2H401.2H401.4H401.8H402H402.3H402.3H402.3H402.5H403.1H403.5H405.2H405.2H406.1H406.3H406.5H406.8H407H407.3H407.3H407.4H407.9H408.1H408.5H408.5H409.1H409.1H409.1H409.3H409.5H409.8H410.1H412H412.4H412.6H412.7H413H413.4H413.4H413.4H413.7H414.1H414.3H414.7H414.9H414.9H415.1H415.4H415.4H415.4H415.9H416.2H416.2H416.2H416.4H416.5H416.8H417.3H417.9H418.2H418.7H418.7H419.2H419.6H419.9H420H420H420.2H420.2H420.6H421.5H421.5H421.6H421.8H422.2H422.6H422.8H423.3H423.6H424.5H424.7H425.2H425.3H425.6H425.9H426H426.4H426.4H427H427.1H427.2H427.5H427.8H428.1H428.1H428.2H428.6H428.8H429.1H430.1H430.5H430.6H431.2H431.2H431.7H431.8H432.1H432.4H433.2H433.4H433.5H434.3H434.5H434.5H434.7H434.9H434.9H435.1H435.2H435.3H435.6H435.8H436H436.2H436.3H437H437.2H437.5H438H438.5H438.8H440H440.1H440.2H441.6H442.6H442.6H442.9H443H443.1H443.3H443.3H443.7H444.4H444.8H445.1H445.1H445.8H446H446H446.5H446.8H447.1H447.8H447.9H448H448H448.1H448.3H449.2H449.5H449.7H450.1H450.2H450.5H450.8H451.8H452.2H453.1H453.3H453.8H454H454H454.2H454.4H454.9H454.9H454.9H456.5H456.9H457.3H457.8H458.2H458.4H459.1H459.4H460.3H460.4H460.9H461.7H461.8H461.8H462.2H463.2H463.3H463.3H463.6H464H464.2H464.4H464.5H464.7H465.2H465.5H466.6H466.6H467.8H467.9H468.1H468.6H468.7H468.8H469H469.8H470H470.2H470.9H471.3H471.5H472H472.4H472.4H473.4H473.4H473.6H475.9H475.9H476.1H477.3H477.5H477.8H478.6H479H479.4H479.4H479.7H479.8H480.5H480.8H481.1H481.8H481.9H482H482.7H482.9H483.2H483.2H483.3H483.3H483.5H483.5H483.9H484.1H484.5H484.6H485.8H486H486H486.9H487.4H488.8H489.4H489.5H489.7H489.8H489.9H490.3H490.5H490.9H491.5H492.5H492.7H492.8H493.1H493.6H493.8H493.9H494H494.2H494.2H494.6H494.6H495H495H495.4H495.8H496.6H496.7H496.7H497H497.1H497.4H498.1H498.6H498.8H499H499.6H499.6H499.7H500.2H501.4H501.5H502.1H502.7H502.9H503.2H503.9H504H504.9H505.2H505.4H505.5H505.7H505.9H506.2H506.2H506.4H506.5H506.5H506.9H507.8H508.9H508.9H509.4H509.4H509.6H509.7H509.9H510H511H511H511.1H511.3H511.6H511.7H512H512.1H512.8H513H513.2H513.3H513.4H513.6H514H514.6H514.8H514.8H515.2H515.2H515.7H516H516.4H516.6H517.7H517.9H518H518H518.3H518.4H518.6H519.6H519.6H519.8H521.5H521.6H522.2H522.6H523.2H523.3H523.3H523.9H524.2H524.3H524.5H524.6H524.8H525H525.1H525.1H525.2H525.4H526.2H526.3H526.6H527H527.8H528.5H528.9H529.6H530H530.2H530.2H530.3H530.3H530.3H530.8H531H531H531.1H531.4H531.4H532.3H532.5H532.5H532.6H532.9H533H533H533.2H533.3H533.3H533.8H534H534.2H534.4H534.7"/>
<path class="mD" d="M188.8,400.7H190.1H190.8H191.2H191.3H191.7H192.8H192.9H193.8H194.2H195.2H196.8H197.3H198.9H199H200.1H200.2H201.4H201.8H202.2H204.3H204.8H204.9H205H205.8H206.3H207.1H207.3H207.7H207.8H208.4H209.4H211.2H211.6H213H213.4H216.5H216.6H219.6H223.5H224.8H225.6H225.6H225.9H226.4H227.8H228.1H228.5H228.7H229.3H233.1H234.4H235H235H236H236.7H237.1H237.5H238.9H240.3H240.5H242.9H243.3H243.5H243.7H244.3H244.5H245.9H246.2H246.9H248.3H249.6H250.9H251.2H252.2H253.5H253.7H254.4H254.5H254.6H254.9H255.4H255.9H256.9H257H257.1H257.1H258.5H258.6H260.2H261.3H262H264.9H266.1H266.3H266.4H266.7H267.5H269H269.6H269.8H270.9H272.1H272.3H275.8H276.3H276.4H276.6H276.8H277.6H280.6H280.9H282.7H283H284.8H287.3H287.7H289.5H290.7H290.8H291.5H291.9H292H292.3H292.5H292.5H292.5H292.7H293.7H293.8H294.1H294.4H295.1H295.5H297.5H298.9H301.2H301.7H302H302.2H302.3H304.2H306.5H306.6H307.8H307.8H308.5H310.6H310.8H310.8H314H316H316.3H317.8H317.8H318.5H319H319.4H319.9H321H321.5H322.3H324.8H325.3H325.9H327.4H328.2H328.2H328.5H331.2H331.6H331.8H332.6H333.3H333.6H333.8H336.3H336.4H337.3H337.6H341.2H341.7H342.5H344.2H344.5H345.3H345.7H346.2H349.3H349.4H349.7H349.7H350.3H352H352.4H353.1H353.2H354.5H356.5H356.7H356.8H357.6H358.3H359.3H359.5H361.3H362H362.8H364.7H365.4H365.5H367.2H367.4H369.6H370.1H371H371.1H375.2H376.5H376.6H377.6H378.1H379.8H380.2H381.7H382.1H384.3H385.1H385.5H387.4H387.6H387.6H388.1H388.3H388.7H389.2H389.9H391H391.1H391.2H392.7H393.2H394.8H395.2H395.3H395.4H396.6H398.3H398.5H399.4H401.4H402.1H402.2H403.3H404.3H405.6H406.1H408.3H408.4H408.7H409.4H411.4H411.5H411.6H412.4H413H413.1H413.5H414.4H414.5H414.6H414.8H416.3H417.3H418.7H419.3H419.5H419.9H420.1H420.7H420.7H421.8H424H424.4H424.7H424.8H425.1H427.6H427.8H428.2H428.5H429H429.1H429.9H430.5H432H432.6H432.7H433.3H435.5H438H438.5H439.7H440.3H441.1H441.2H441.7H441.8H443H444H445.7H446.1H448.3H448.4H449.6H449.8H449.9H451H454H456H457.5H458.1H459.3H460H460.5H463.6H463.9H464.3H464.6H465.1H466.3H466.6H467.9H468.8H469.2H469.5H471.3H471.8H473H473.2H474.9H476.4H476.6H477.8H477.9H478H478.6H480.5H481.2H482.1H482.6H482.8H483.1H483.1H484.7H485.6H486.2H488.8H489.1H489.5H490.4H490.5H490.9H493.9H496.6H496.6H496.9H497.4H498H499.6H499.8H500.2H501H505.2H505.2H505.6H505.8H506.6H506.7H510.6H512H513.3H515.9H516H516.8H518.7H520.2H521.4H524.6H524.6H525.8H526.6H527.5H528.7H529.4H529.6H531.9H532.2H532.5H533.3"/>
<path class="mD" d="M188.4,338H188.6H188.8H189.2H189.3H189.7H189.9H190.5H191.3H191.6H192.5H192.6H192.9H193H193.3H193.7H194.1H194.5H194.7H194.7H195.2H196.1H196.4H196.7H196.8H197.3H197.5H197.8H198H198.3H198.4H199H199.1H199.2H199.3H199.7H199.7H199.8H200H200.5H200.9H201.1H202.5H202.7H202.8H202.9H203.6H203.9H204H204.5H204.6H204.9H205.9H206H206.2H207.7H207.8H208.1H208.4H208.6H209H209H209.5H209.7H210.8H213H213.1H213.2H213.4H214H214.5H214.7H215.6H215.9H216.3H216.5H216.5H216.6H216.8H217.3H217.9H217.9H218H218.1H218.3H218.4H218.5H218.5H218.8H218.8H218.9H219H219.3H219.4H219.6H219.9H219.9H219.9H220.3H220.4H221.6H222H222.6H223H225.5H225.6H226.6H226.9H227H227.4H227.6H227.7H228.1H228.3H228.4H228.8H230H230.1H230.5H231.3H231.5H231.6H232H232.9H233H233.2H233.3H233.5H233.7H235H235.1H236.4H236.7H236.9H237H237.1H237.2H237.4H238.5H238.8H238.8H238.9H239H239H239H239.7H240.6H240.8H241.1H241.1H241.2H241.2H241.2H241.5H242H242.3H242.3H242.3H242.5H242.7H243.5H243.6H244.7H245.2H245.7H245.7H246.3H247.7H247.9H248.4H248.5H249.8H250H250H250.5H250.7H251H252.3H252.6H252.9H253.3H253.4H253.4H253.8H254H254H254.3H254.4H254.5H255.4H255.8H256.1H256.1H256.3H257H257.7H257.8H257.9H258H258.2H258.2H258.3H258.6H259.2H259.7H260H260.3H261.1H261.9H262H262.3H262.4H262.6H263.8H263.9H264.2H264.3H264.6H264.9H265H265.1H265.4H265.5H265.5H265.6H265.7H265.7H265.7H266.4H266.5H266.6H266.8H267H267.4H267.6H267.9H268.9H269.1H269.4H269.7H270.2H270.3H270.5H270.7H271.2H271.5H271.8H272H272.4H272.5H272.5H272.8H273.1H273.4H274.9H275.2H275.2H275.3H275.4H275.5H276H276.2H277.4H277.7H278.2H278.3H278.4H278.8H279H279.2H279.2H279.3H280.1H280.5H281H282H282.2H283.6H284.6H284.7H284.9H285H285.1H285.5H285.6H286H286.3H286.6H287.2H287.3H287.3H287.3H287.6H288.2H288.3H289H289.9H290.4H290.6H290.8H290.9H291.2H291.6H291.7H291.9H292H292.2H292.3H292.4H292.8H293.2H293.3H293.3H293.5H293.6H293.7H293.9H294.2H294.8H294.9H295.1H295.3H295.8H296.4H296.8H296.9H297.2H297.9H298.5H298.6H298.6H298.8H298.8H298.9H298.9H299.4H299.4H299.5H300.6H301H301.5H301.7H301.9H302.2H302.3H302.9H303.1H303.2H303.3H303.8H304.6H304.7H305.3H306H307.2H307.5H307.5H307.7H308.1H308.8H308.9H309H309.4H309.7H309.9H310.1H310.2H310.5H311.2H311.2H311.4H312H313.7H313.8H313.8H314.1H314.3H314.3H314.4H315H316H316.7H317.2H317.6H317.9H317.9H319H319.8H320H320.1H320.2H320.3H320.4H320.9H321.1H321.3H321.3H321.7H321.7H321.9H322.1H322.2H323.2H323.2H324.7H325.4H325.8H326.4H326.8H326.8H327.4H327.4H327.6H327.7H328.2H328.3H328.7H328.7H328.8H328.8H328.9H329H329.1H329.6H329.7H330H330.7H330.8H331.2H331.4H331.7H331.8H332.1H332.2H332.4H332.5H332.9H333.4H333.6H333.9H334.1H335.3H335.8H336H336.1H336.8H337.1H337.4H338.3H338.5H338.9H339.3H339.7H339.9H340H340.2H340.4H341.1H341.2H341.4H341.9H342.6H342.7H343.1H343.2H343.5H343.5H344H344.2H344.3H344.3H344.7H345.6H345.9H346H346.6H346.8H346.8H347H348H348.1H348.2H348.5H348.9H349H349.4H349.5H349.9H350.2H350.6H351.3H351.3H351.4H351.8H351.8H352H352.7H352.9H353H353H353.9H354.3H354.6H354.7H355.2H355.2H356.3H356.6H356.9H356.9H357.3H357.4H357.5H358.1H358.2H358.9H359.8H359.8H360.3H360.3H360.4H360.5H360.5H360.7H360.8H361.5H361.8H362.2H362.6H363.4H363.9H364H364.1H364.4H365.1H365.5H366H366.1H366.6H366.7H366.8H366.9H367.7H368.1H368.2H368.9H369H369.4H369.5H369.5H369.7H369.8H371H371.2H371.3H373H373H374.3H374.8H375.2H375.3H375.5H375.7H375.8H376.3H376.4H376.8H377H377.2H377.5H377.7H377.8H378.4H379.3H379.5H380H380.1H381H381.6H383.1H383.6H384H385.6H386.6H386.8H386.9H387.2H387.3H387.3H387.5H388.1H389.7H389.7H389.8H390.2H390.4H391.9H392.4H392.7H392.9H392.9H393.1H393.8H393.9H394.1H394.3H394.3H394.4H394.5H395.2H395.5H395.7H395.8H395.8H396.2H396.6H397.1H397.2H397.6H398.4H398.7H399.3H399.9H400.4H400.8H401H401.8H402.5H402.6H403.1H403.2H403.5H403.8H404.4H404.8H404.8H406.3H406.4H407.6H407.9H408.1H408.3H410.2H410.2H410.5H410.7H411H411.4H412.6H413H413.2H413.6H413.7H414.2H415.1H415.1H415.2H416.5H416.9H418.3H418.6H418.7H419.2H419.6H419.7H419.7H420.3H420.4H420.6H420.8H420.8H421.6H422.3H422.3H424.8H425.1H425.1H425.4H425.7H426.2H426.3H426.5H426.8H427.1H427.4H428.2H428.3H428.3H428.4H428.5H428.9H429.4H429.5H429.6H429.7H429.7H429.8H429.8H429.8H430H430H430.2H431H431.3H431.3H431.4H431.5H431.7H431.8H433H433.6H434.7H434.7H434.7H434.9H435.8H435.8H436.1H436.1H436.1H436.2H436.6H437H437H437.2H437.2H437.5H437.5H437.5H437.8H438H438.5H438.9H439.7H440.2H440.3H440.7H440.9H441.4H442.2H442.4H442.9H444.3H444.3H445H445.8H446.7H446.8H446.9H448H448.1H448.5H449.6H449.9H450.3H451.1H451.6H451.6H452H452.3H452.4H452.6H453.2H453.2H453.4H454H454.3H454.5H455H455.8H455.8H456.5H456.7H457.1H457.2H457.3H457.3H457.4H457.5H458.5H459.1H459.8H460.5H460.5H460.7H461.5H462.4H462.9H463H463.2H463.2H463.3H463.5H463.5H463.8H463.8H463.9H464H464.2H464.4H464.5H464.7H465.6H466.3H466.5H467.3H467.6H467.7H467.9H468.1H468.8H469.1H469.1H469.2H469.4H469.9H470H470.1H472.1H472.3H472.5H472.5H472.6H472.7H473.2H473.3H473.7H473.8H474.1H474.5H474.7H475.7H475.8H476H477.3H479.3H480.1H480.3H480.5H481.4H481.6H481.7H482.3H482.6H482.7H483.1H483.7H483.8H484.4H484.7H484.8H485.5H486.6H486.8H486.9H487.2H487.8H488.1H488.2H488.6H489.4H489.4H489.6H489.7H489.7H490.3H490.4H490.4H490.5H490.7H491.2H491.7H492.3H492.5H493.2H493.2H493.3H493.6H494.3H495H495.1H495.3H495.6H496.3H496.4H496.9H497.2H497.4H497.7H497.8H498.3H498.7H499.1H499.3H499.6H500H500.3H500.6H500.6H501.3H501.5H502.5H502.9H503.3H503.6H503.6H503.9H504.6H506.2H506.6H506.8H506.8H507.4H507.5H507.5H507.6H507.9H508.1H508.4H508.5H508.6H508.9H509.9H510.2H510.3H510.7H510.9H512.7H512.9H513H513.1H513.8H514.1H514.6H514.9H515H515.1H515.3H515.4H515.6H515.6H516H516.1H516.4H517H517.1H517.2H517.4H517.5H517.8H518.2H518.6H518.7H518.9H519H519H519.6H520.3H520.4H521H521.2H521.2H521.3H521.3H521.6H521.7H522.3H522.5H523.2H523.5H523.5H523.5H523.5H523.6H524.4H524.8H525.2H526.2H526.4H527.2H527.6H527.9H527.9H527.9H528.4H528.9H530.4H531H531.2H531.3H531.4H531.6H532.1H532.3H532.6H532.8H533.5H533.8H534.3H534.7"/>
<path class="mD" d="M188.8,275.2H189.8H191H192.2H192.4H193.6H193.9H194.1H195.3H195.8H196.6H197.8H199.6H200.5H201.1H201.2H203.6H203.6H205.9H206.5H206.6H210H211.1H211.5H212.8H213H213.5H213.6H214H217.1H217.2H217.4H217.8H218.1H218.3H219.7H220.2H221.5H223.3H224.5H224.6H226.6H227.9H228.1H228.5H229.2H229.7H231.6H232.5H233.1H233.2H233.4H234.5H235.7H235.8H236.6H238.8H241.7H242H242H245.9H246.4H246.8H248.9H249.7H249.7H250.2H251.1H252.7H252.9H253.2H253.3H254.3H256.3H256.4H257.5H257.6H257.7H260.9H261.1H262H262.4H263.3H264H265.6H265.7H266H266.3H267.1H268.1H270H272.8H273.4H273.8H273.8H274.1H275.7H276.7H278H278.9H278.9H279.3H280.6H281.2H281.8H283H284.7H285.3H285.3H286.2H286.6H289H289.9H290.6H290.8H291.4H292.8H294.4H294.6H296.2H296.8H298.3H298.9H299.4H299.8H299.9H302.4H302.8H305.2H306.8H307.5H310.4H311.2H312.6H313.5H313.5H314.3H315.6H316.8H317.1H317.2H321H321.2H321.3H321.4H324H327.8H330.1H330.5H331.1H333.2H333.8H335.5H337.4H337.4H338.2H338.3H340.9H341.3H342.1H342.4H342.6H342.6H344H346.3H347.3H348.5H349H350.5H351.1H351.5H351.6H352H352.8H356.1H358.5H359.5H361.9H363.2H366.2H367.4H368.9H369.1H370.5H372.8H373.3H375.3H375.6H376.1H376.7H377.7H379.6H380H380.3H381.9H381.9H383.3H386.2H386.5H386.5H387H387.4H387.7H389.1H390.3H392H392.2H393.1H393.2H393.8H395.2H395.9H396.7H396.8H397.3H397.6H399.5H403.7H403.9H405.4H406.1H406.5H408.6H408.8H409.4H410.1H410.7H412.4H412.5H412.9H413.3H420.8H421.5H421.8H424.8H426.1H426.6H427.3H427.5H430.8H433.8H434.1H434.1H436.8H437.8H438.9H440.6H440.6H440.7H440.9H441.8H444.1H444.4H446.7H446.8H447.2H449.7H450.3H451.2H451.4H451.9H452.2H453.1H453.5H455.1H455.2H456.2H457.2H457.7H457.8H458.2H458.3H458.8H461.6H464H464.1H464.6H464.6H469.3H469.5H471H471.3H472.1H473.9H474.1H476H476.8H477.2H478.3H480.4H480.9H482.1H482.6H482.7H483.8H484.9H486.5H486.9H487.3H487.5H487.9H488H488H488.1H491.5H491.9H494.6H496H500.5H501.7H501.8H504.9H506.3H509.1H509.2H510H511.4H511.5H511.7H512H512.6H513H513.6H516.2H516.4H520.3H521.6H522.2H522.9H524.9H525.2H525.4H530.5H530.8H530.8H532.8H533.5H533.7H533.7H534.5"/>
<path class="mD" d="M188.7,212.5H189.1H189.4H189.9H193.9H194.3H194.9H196.1H198.3H199.3H200.1H200.9H202.7H203.4H203.9H206.8H208H209H209.2H210.3H211.3H212H217.5H220.1H221.3H223.4H225H226.7H229.1H231.8H232.8H233.2H234.4H235H235.5H236.7H237.3H239H239.5H239.8H240H240.3H247.6H248.6H248.7H249.5H251.6H251.8H252H252.2H252.2H252.7H253.2H253.2H253.2H254.4H255.2H257.3H257.4H258H260.3H260.9H262.4H263.8H265.2H267.1H267.2H267.8H268.6H268.7H269.3H270.2H271H271.8H272.9H274.8H278.9H283.4H284.9H285.4H286.5H291.1H296H296.8H298.7H299.4H299.8H300.5H300.8H300.8H301.1H302.7H302.8H303.1H303.3H305.1H307H307.8H308.5H308.9H309.9H312H312.2H312.9H313.6H315H315.3H316H317H318.1H318.7H318.8H320.2H323H323.7H324.1H324.5H325.1H326.5H326.7H327.6H328.3H330.2H331.6H332.7H333.2H333.2H333.4H335H336.7H336.8H338.7H339H339.8H339.9H340.2H340.7H341.3H342.6H345.1H345.7H348.3H352.7H352.9H354.1H354.6H355.1H356.9H357.3H357.5H361H361.6H364.3H365.1H365.1H365.6H366.4H368.3H368.4H369.4H371.1H372.2H373.8H376.5H376.9H377.6H377.9H381.2H382.6H383.1H383.3H385.5H386.7H388.7H389.1H390.6H391H391.5H396.2H396.6H399.1H400.3H401.7H401.9H402.4H404.2H405.2H406H407H409.4H412.2H413.3H413.4H414.9H416.6H419.6H420.1H420.9H422.5H425.8H427.1H427.4H428.5H428.6H431.4H431.6H431.9H432.4H434.2H437.4H439.4H439.9H440.7H442.3H443.6H444.5H445.7H446.3H447.2H448H448.7H450.9H451.3H451.6H455.2H455.2H456H457.8H458.5H461.8H462H462.4H463.3H463.9H464.7H466.2H467.2H467.3H468H468.4H470.7H471.4H472.3H472.5H473.4H473.5H473.8H474.1H477.2H477.8H479.2H480.3H482.1H482.2H483.4H483.5H484.4H484.8H485.2H488.7H489.1H489.4H491.2H492.7H493.1H494.3H495.4H497.6H497.9H498.7H499.1H502.7H506.9H507.4H507.9H511.5H512.9H512.9H514.7H515H515.5H516.2H518.8H522.9H525.9H526.1H530.4H530.9H534.7H534.8"/>
<path class="mP" d="M941.7,560.5 709.9,806.3 640.8,458 788.7,504.5 963,530.3 644.7,560.2 746.3,479.2 732.8,512.2 778.9,565.6 741.2,601.3 839.7,738.9 923.8,631.3 950.2,339.2 824.5,366 956,490.2 665.5,512.2 751.8,496.3 634.1,563.5 715.8,582.7 695.6,610.5 762.6,523.3 813.3,635.2 628,653.8 695.2,444.8 887.6,472.4 739.1,470.4 712.5,229.7 869.6,657.5 786.3,605.6 864.9,524.9 744.1,750 932.6,379.9 725.3,290.9 654.1,704 851.3,572.1 680.8,685.1 789.4,685.7 844.5,680.9 720.7,741.2 765.5,684.3 689.8,537.9 673.5,824.2 685.3,615.8 783.1,268.9 791.9,605.6 755.5,646.3 923.7,487.2 668.9,465.1 680.7,426.6 663.2,581.3 887.7,409.2 672.8,708.9 960.3,729.3 744.3,517 760.1,657.5 732.9,748.5 874.9,642.5 654.9,608.1 741,297.2 745,508.2 754.8,820.4 813.5,645.6 931.3,467.5 748.7,662.7 825.6,492 834.8,563.6 910.9,517.7 706.6,496.6 631.6,485.5 925,423 711,479.3 745.9,672.5 659.8,511.4 771.2,716.9 945.4,282.2 960.7,723.1 789.4,390.4 898.4,497.7 865.5,497.2 774.2,267.7 640.3,674.1 919.1,590 842.5,309.2 770.8,731.8 896.6,421.6 912.6,618.8 958.2,600 952.4,729.9 626.9,743.6 877.5,605.8 643.9,478.1 771.6,692.5 860,537.4 835.8,484.6 654.1,638.1 873.9,467.9 642.3,474.2 798.8,640 858,696.7 763.3,692.5 738.8,464.7 638.1,554.4 744.3,525.2 909.3,678.9 906.2,487.4 843.2,625 776.5,470.2 682.2,213.9 883.3,483.1 636,254.6 724.3,739.8 929,705.4 808.1,446.3 702.9,474.8 719.2,603 862.8,325.6 637.5,717.6 948.2,568.9 929.7,629.4 647.7,698.8 798.1,293.2 821.2,456.8 856.9,593 876.2,407 786.9,474.6 704,628.5 749.8,517.9 787.5,597 848,618.8 708.3,610.2 755.2,571.2 726,260.4 692.5,473.9 750.4,751.4 799.6,800.2 884.4,723.4 655.5,677.9 640.8,542.4 832.6,480.4 622.3,728.5 877.6,298.3 883.4,544.2 803,749.5 965,431.4 646.6,690.7 679.5,658.8 939.3,768.3 891.8,483.9 865.2,535.2 916.1,445 868.7,404.3 809,462.9 661.6,805.7 807.4,699.1 738.9,653.3 717.3,554.2 659.2,736.4 649.1,418.6 899.6,834.4 968.6,470.8 924.9,384.2 887.8,682.1 781.8,440.6 748.9,504.5 856,474.2 853.4,679.6 886,536.7 655.2,524 778.4,444.7 742.1,341.7 753.4,438.9 819.6,680.1 656.6,520.1 661.8,607.6 924.4,701.9 643,481.1 769.9,257 849.7,644.5 956,673 868.6,581 861.8,603.6 919,603.2 885.4,366.1 895.4,486 790.8,592.4 841.9,244.7 685.3,469.9 887.3,465.3 655,291 745.7,344.8 930.6,641.3 786.1,610.8 940.3,610.2 963.5,747.8 748.2,645.6 897.7,300.1 900.9,580.1 642.1,768 739.9,497.6 754.7,637.5 754,603.2 741.2,567 706.8,505.9 879.6,531.2 883,558.5 833,501.8 778.7,475.5 825,681.1 805.5,582.3 755.6,627.5 867,466.8 945.2,606.1 820.7,367.1 945.2,356.3 710.7,818.2 728.9,711 833.8,660.6 713.3,564.6 798.9,605.1 694.6,609.4 754.7,496.9 696.8,797.4 786.6,769.4 867.2,662.9 825.1,556 699.6,371.2 629.2,536.2 663.9,683 711.7,478.4 771.3,745.4 885.8,615.3 873.7,661.3 960.4,655.9 849.4,740.6 877,829.4 665.5,570.1 939.3,476.9 796.9,666 639.6,526.5 804,508.2 799.5,726.5 763.3,837.4 709.5,818.7 641.8,393.9 701.5,379.1 934.2,600.6 690.1,441.6 837.9,700.6 890,672.7 891.7,594.2 930.6,563.5 862.3,784.3 882,700.5 632.3,627.3 651.1,687.1 717.8,742.5 846.2,489.8 965.1,631.6 918.8,692.1 717.8,786.4 691.9,633 832.6,236.6 902.1,743.4 895.6,522.2 786.3,623 675.5,806.8 922,477.3 930,579.8 870,545.3 940.7,474.9 903.2,478.9 968.3,639.3 768.5,251.9 893.9,755.2 709.3,745 900.3,619.6 775.6,710.7 649.8,784.9 873.3,652.1 719.8,768.7 852.4,751.4 757,206.3 836.9,664 700.4,525.4 962.3,466.1 632,740.4 625.8,753.7 716.5,598.6 861.8,682.1 716.3,811.1 866.6,510.4 956.9,766.4 717.1,677.9 891.7,607.9 721.8,635.9 840.9,423.5 939.9,553.2 687.2,645.1 668.1,573 708.1,661.7 623.5,460.9 967.2,517.9 638.8,660.4 901.9,590 859.8,507.1 808.2,712.7 700.4,502.6 942.9,490.2 726.8,652.9 766.9,551.9 858,646.6 856.6,535.2 736.9,468.8 784.6,511.4 846.2,588.9 728.1,328.6 756.8,291.9 959.7,701.2 658.6,697.9 838.2,567.1 937.2,459.1 843.5,804.9 698.9,541.5 958.2,590.5 719.4,623.3 761.2,624.2 910.9,391.1 854.7,683.7 656,629.9 724.9,484.6 861.6,623.9 789.1,343.3 931,568.9 945.2,494.5 735.1,592.1 669.6,546.1 738.2,680.1 945,434.6 749.9,735.6 673.1,752.3 867.6,709.5 623.9,507.3 663.5,704 719,411.5 920.2,523 803.7,763.4 646.5,464.8 905.7,293.1 769.7,583.8 785.4,698.6 772.8,523.1 812.1,445.2 901.9,542.4 962.8,529.8 625.3,684.7 821.7,622.1 749.1,464 943.6,477.1 770.4,672.5 912,778.1 942.4,648.7 894.2,612.6 778.5,282.9 909.4,623.3 761.8,551.3 736.5,617 759.5,570.4 626.1,203.4 827,440.4 911.3,475.1 690.8,667 706.4,521.5 655,641.1 902.6,497.3 675,508.9 912.4,805.9 654.2,583.6 918,582.2 707.3,658.3 733.5,465.9 834.4,513.1 711.2,511.1 629.8,223.7 712.7,665.6 684.8,623.3 854.7,495.5 962.7,666.9 661,497.4 709.3,710.5 652.6,665.9 827,411.6 935,735.6 643.8,508.8 856.5,608.5 774.5,582.6 654.4,594.2 819.7,797.4 634.8,757 696.1,477 647.4,469 870.1,335.1 635.1,513.3 648.5,393 766.1,749 761.7,469.7 667,698.6 934.6,631 749.5,610.2 789.8,522.8 699.1,447.8 947.3,469.9 889.2,516 967.6,821.3 864.7,525.3 670.4,589.9 626,309.8 627.9,646.5 842.2,490.8 653.9,382.7 827.7,277.5 692.3,446.7 672.6,655.6 948.9,526 756.2,678.5 875.1,770 697.1,618.3 757,710.5 697.7,559.5 691.2,296.1 928.5,693.5 812.3,470.3 721.8,568.8 868.5,430 705,371 856.3,645.5 863.9,730.6 744.4,343.3 914.5,261.5 948.5,677.7 754.4,468.7 686.7,679.3 712.3,634.8 854.3,350.9 764.3,240.2 707.1,675.3 764.8,426 743.6,396.6 779.7,466.8 709.9,716.7 843.8,611.6 812.3,585.5 753.2,513.3 773.7,787 930.5,362.8 730.2,485.9 710.6,740.6 806.7,717 955,771.6 897,374.8 779.8,813.9 706,357.3 925,619.6 842.1,669 796.8,590.6 759.9,547 787,469.7 785.9,555.9 699.1,471.4 683.9,557.4 916.5,506.2 857.4,562.5 907.2,479.7 713.8,416.8 793.6,468.7 817.1,739.6 912.5,691.8 765.9,611.7 850.8,613.1 623.6,626.5 675.9,499 792,355.6 738.7,760 706.8,482 658.6,459.1 920.9,497.6 631.5,690.4 861.3,361.4 918.9,808.8 966.4,642.8 746.4,533.4 703.8,650.9 899.6,541.4 659.6,775.1 790.5,409 681.3,359.7 765.5,474.9 855,789.4 751.7,474.6 783.3,653.3 808.5,542.3 897.7,466.4 633.8,821.3 708.8,762.2 789.3,767.2 758.3,493.1 633.6,496.3 639.4,599.5 910.9,542.8 720.5,751.6 622.2,508.9 829.3,733.6 748.9,731.6 683.1,681.8 735.5,536.4 914.5,465.3 642.3,790.5 773.4,753.8 889,723.9 723.5,489.1 718.3,763.4 741.4,802.9 799.7,630.6 879.1,572.3 908.2,524.7 748.9,589.8 859.2,421.9 778.8,466.4 905,698.6 802.1,495.7 882.1,493.6 694.5,458.8 941.5,589.5 780.6,697.7 964.1,718.7 781.9,676.4 896.7,471.8 817.1,466.4 815.7,486 659,513.3 881.7,618.9 712,603.3 702.3,411.4 964.6,466 717.4,443.4 774.1,473.8 697.3,809.6 774.6,365 787.9,521.1 858.4,710.3 706.8,793 912.1,380.7 818.5,597 693.8,440.2 887.6,470.4 835.1,711 842,604.5 792.1,489.3 930.5,581.7 834.1,591.4 865.4,804.4 707.6,468 822.8,343.3 748.1,701.1 743.6,660.3 773.6,515.6 797.9,473.4 797.9,589.4 731.7,644.9 718.5,216.1 641.1,522.2 919.6,603.4 778.3,599.3 778.5,334.7 931,698.1 932,525.3 759.6,375.2 729.8,232 628.5,706.2 844.4,382.1 716.1,775 670.2,423 707.2,634.9 870.5,461.3 965.3,489.1 815.7,717.7 939.5,340.5 739.2,504.7 625.6,370.1 759.9,548.8 954.2,755.7 934.7,478.6 736.5,583.6 638.6,444.6 680.4,551.4 938.3,539.8 725.5,484.8 912.7,527 813.3,290.8 960.7,745.7 932.4,716.3 858.1,634 658.3,491.4 766.4,557.5 824.1,732.5 892,684.7 626,476 896.1,739.8 925,482 705.9,717.5 725.3,467.6 798.7,532.3 751.6,617.8 791.3,697.8 647.9,833.6 958.5,600 909.8,521.8 717.4,794.8 822.7,811.3 822.3,734.8 716.4,550.3 673,466.3 761,622.7 863.6,599.3 659.7,354.8 901.6,702.5 705.4,499.9 946.6,533 850.7,415.3 794,650.4 935.7,606.6 699.1,465.4 761.2,640.3 814.4,597.1 863.8,429 830.8,763.5 823.3,607.2 761.3,494.4 786.8,663.6 690.2,521.7 642,617 724,562 650.6,435.7 871.6,237.4 964.3,568.8 951.9,513.2 816.7,555.6 846.5,407.7 808.1,548.6 714.9,545.4 760.6,750.5 652.1,486.6 965.3,570.9 680.5,634.5 735.8,530.7 906.7,153.8 876,623.1 768.9,286 685.7,799.4 829.4,550.7 830.3,589.3 915.3,664.5 814.7,475.9 768.8,517.8 675.5,821.1 868.4,484.9 958.6,700 715.1,572.3 681.5,694.6 879.5,723.1 962.9,784.8 792.3,708.2 920.8,648.7 644.9,595.2 774.9,553.6 715.7,748.5 640.1,508.2 700.5,721.5 868.7,672.7 847.4,559.4 838.4,638.8 920,391.3 631.8,533.2 689.2,597.5 943.7,594.6 759.1,497.8 756.6,471.4 648.9,607.7 842.3,706.2 760.7,428.1 917.6,816.8 959.4,829.5 855.5,802.9 744.5,383.7 880.5,532.3 787.4,803.7 835.9,451.9 726.2,470.3 883.8,706.8 804.6,584.5 739.8,470.6 712.4,524.5 859.4,693.3 941.5,615.6 866,446.7 772.3,674.8 719.5,469.3 754.3,491.2 644.7,621.2 785.3,793.6 927.2,706.6 660.4,612.5 667.4,542.6 720.6,343.9 797.3,224.7 750.3,578.8 934.7,603.3 830,602 790.5,787.7 893.1,701.3 669.9,757.2 684.9,351.9 733.2,606.9 698.8,472.6 861.9,701.7 651.1,515.5 645.9,713.6 754,576.1 770.3,509.5 880.7,523.4 810.2,429.1 789.5,691.8 706.7,471.6 743,492 803.2,508.8 834.4,813.5 932.3,482.1 839.9,664.6 657.3,744 651.6,215.6 925.7,584.5 956.4,573.9 844.5,801.8 742.8,630.6 660.5,650 779.8,387 842.1,464.8 640.6,603.9 788,414.3 822.9,200 731.4,825.7 812.2,684.3 653.4,470.2 638.8,742.5 687,511.2 929.1,489.5 637.1,404.7 676.2,770.5 888.9,370 942.1,528 918.7,667.8 720,522.9 770.6,547.4 940.9,562.1 901.6,470.3 702.5,654.7 804.1,501.8 735.9,452.8 669.3,783.6 954.5,626.9 756.4,577.6 949.8,464.1 723.7,689.9 676.8,582.5 889.8,692.6 632.6,424.4 923.7,699.7 665.9,749.7 726.3,664.7 918.9,552.4 851.4,604.5 802.5,497.3 654.9,593.6 958.3,646 945.5,287.5 823.8,670 935.1,638.9 745.2,813.6 942.8,580.3 919.7,529.5 714.3,675.9 835.8,760.2 903.8,474.4 737.7,615.6 893.7,480.5 777.7,334.4 820.5,346.8 642.2,493.1 746.8,371 673.9,558.8 896.6,508.3 946.9,444.1 794.2,660.4 897.8,622.9 632.9,484.5 745.5,481.9 823.9,556 630.7,814.9 846.2,692.9 918.8,519 886.8,662 923.9,567.8 768.3,637.4 920.9,558.6 764.6,452.8 938.9,322.2 923.2,767.3 830.5,475.2 872.9,810 909.4,531.6 945.2,550.6 669.2,724.2 955.8,681.1 829.5,611.6 807.6,481.7 925.7,645 956.3,610 636.4,542 673.8,409.3 689.8,510 683.2,307.8 742.1,493.7 918.3,629.3 915.2,712.5 955.3,598.3 930.5,657 968.6,800.2 950.1,547.5 915,423.2 885.5,480.5 677.8,568.3 705.1,502.4 771.5,503.1 758.4,693.4 645.2,801.8 765.4,755.5 894.5,769.8 630.3,294.4 751.3,573 836.2,825.5 955.1,547.3 792.6,478.8 877.2,511.9 847.7,288 934.7,554.4 786,822.2 753.2,825.4 805.5,660.5 715.3,273.6 648.5,494.9 671.6,483.5 691.2,371 870.7,621.1 732.8,680.9 808.5,774.6 959.2,490.9 773,415.5 947.5,401.8 635.2,678.7 957.2,566.1 718.8,472.9 917.7,433.1 861.5,789 809.9,745.8 808.8,302 851.1,467.6 750.2,798.8 705.2,783.1 848.4,480.5 803.6,513.7 850.7,581.2 872.3,469.6 749.9,508.1 945.7,550.3 947,406.9 866.9,500.4 713.3,691.6 723.1,729.4 839.2,532.4 703.3,301.9 712.6,515.4 924.3,355.2 758.3,536.8 662.2,598.6 647.3,457.7 769.2,639 887.4,503.6 736.7,804.1 653.8,671.3 768.9,607.2 823.1,493.2 687.8,618.1 858.4,531.7 939.4,673.3 636.9,734 678,571.3 751.1,615.5 936.8,466.9 711,343.7 951.7,651.4 936.3,611.1 864.1,464.8 682.2,834.1 870.7,601.1 685.9,631.2 931.8,532.9 936.4,343.2 929.8,609.5 831.6,633.5 894.7,417.3 960.8,499.3 827.4,795.4 916,547.3 659,583.1 788,731 738.9,363.2 962.5,536.4 697.3,745.7 909.4,627.5 776.7,487.3 644.3,631.1 684.9,785.6 651.7,797.1 660.9,140.2 749.6,663.3 772.9,543.6 942.4,683.1 845.3,620.5 843.4,464.2 702.7,779.3 652.1,466.5 718.3,617.4 965.8,496.9 850.3,549.7 666.4,759.2 781.5,646.5 809.7,508 894.6,674.1 954.8,821.5 765.4,482.7 939.1,800.2 958.6,823.9 783.7,673.8 950.5,460.5 883.2,678.6 699.5,790.5 865.6,311.8 865.5,465.2 894.2,668.6 910.9,604.9 725.7,504.2 747.8,593.3 940.3,397.5 897.2,587.2 914.9,301.7 829.9,670.8 756.3,672.3 842.7,471.8 812,580.3 902.4,633.8 665.7,529.9 847.7,520.3 720,660.3 670.9,567.4 841.9,529.3 920.5,576.2 719.5,593.5 958.6,582.9 888.8,745 871.6,348.4 781.5,540 948.9,727.7 825.6,650.5 920.4,626.7 693.1,828.4 822.9,794.1 671.7,488 716.9,617.8 745.1,677.9 650.8,737.4 879.9,590.8 685.1,462.6 647.1,648.4 782,476.7 800.5,602.7 743.3,350.5 634.9,574.8 639.7,532.4 735.2,624.9 859.5,817.5 683.4,611.5 967,344.7 646.4,395.6 637.5,720.6 729.8,638.2 752.7,468.1 785.3,688.8 707.3,713 811.1,479 759.8,770 652.4,517.6 925.8,833.5 954,592.4 677.8,753.5 637.3,470.7 849.4,466.2 725.2,487.4 712.4,612 780.4,686.6 867.8,745.2 751.7,530 762.3,488.9 640.2,494.5 793.6,527 659.4,484.8 893.6,631.5 845.6,610.4 701.3,528.9 643.2,624.4 852,768.7 736.7,298.3 662.6,492 956.4,473.4 663.2,498.1 634.2,133.5 852,700.1 772.5,630.9 829.3,526.6 658.3,463.5 779,766.7 751,580.1 931.5,469.5 835.2,769.8 820.3,548.3 757.3,184.9 851.6,500.2 887.5,660.4 847.7,729.3 872.4,499.7 863.2,299.7 846.1,615.7 678.6,654.1 744.1,496.8 855.8,566.1 665.9,631.2 751.9,561.8 663.1,637.4 652.6,503.6 939.3,588.8 893.8,803.9 872.7,490.2 829.2,742.2 886.7,554.7 673.9,375.6 775.5,665.3 844.1,638.6 836.8,538 710.2,308.6 802.7,471 868.1,598.9 829.1,551 853.9,467.3 663,500.6 860.3,747.5 764.7,471.3 690.2,724.6 935.4,505.9 698.3,662.2 806.9,439.2 819.9,328 774.4,598.5 811.9,232.7 966.3,469.5 806.4,716.7 921.4,769.9 627.7,739.5 774,660.9 831.3,623 660.9,477.4 688.5,413.1 949.9,562.1 801.3,227.8 769.4,824.7 827.3,467.7 698.2,694 826.3,479.3 897.4,806.9 892.1,581.3 893,505.5 967.1,626.2 844.3,616.5 638.2,692.3 848.2,549.6 810.1,276.1 953.7,701.4 741.3,510.6 728.6,613.1 742.3,705.1 649.2,815 849.9,472 900.4,357 713.5,507.1 930.6,534.3 845.6,504.9 837.2,633.8 682.6,662.6 955.8,510.4 701.8,588.6 838.5,647.6 911.1,517.1 658.4,339.5 872.7,578 920.8,632 702.1,290.5 962.2,458 655.7,421.6 923.4,691.8 953,702.1 966.8,661.7 871.2,687.5 752.2,668.3 731.7,786.5 780.1,340.4 901.3,816.5 773.8,527.4 900.5,672.8 638.9,738.7 639.7,823.4 795,833.8 847.3,567.5 911,259.3 651.2,659.2 930.9,646.3 693.9,808.2 820,560.1 699.7,781.9 856.4,640.5 767.9,711.8 770.7,482.3 886,687.8 941.4,473 726.1,621.5 715.6,810.1 873.7,493.9 956.1,586.9 819,663.4 627.1,769.7 824,610.1 857.4,616.4 761.8,358.1 877.2,626.9 637.3,226.9 893.2,542.9 942.8,675.2 956.7,797.2 701.1,833.1 833.9,495.1 637.2,525.5 711.7,701.7 825.1,563.7 956.3,350.6 764.4,535.8 842.7,600.3 623.8,561.5 707.3,389.2 654,815.1 958.3,370.9 772.9,558.4 651.6,644.5 649.4,571.3 661.2,482.5 659.6,470.8 942.4,375.6 831.9,470.6 691.9,723.6 902.8,527 758,466.4 743.1,402 873.1,477.4 851.4,472.1 920.2,247.1 624.2,481.6 742.3,834.1 635.4,648.3 727.6,511.3 833.2,607.3 833.1,643 662.8,576.2 674.2,475.2 790.6,472.7 819.1,681.9 769.8,317.1 735.5,703.9 906.9,683.9 871.8,445.9 667.8,702.3 626.9,479 628.5,572.6 836.9,675 748.7,213.8 924.2,473 850.7,550.8 817.3,478.3 823,707.7 693.3,480.8 646.2,521.6 953.2,633 816.6,799.1 841.2,465 774.9,616.6 831.4,494.2 918,543.3 788.5,218.6 909.9,509.1 914,372.4 762.9,760.1 953.4,759 941.7,376.5 850.5,478 946.9,584.6 961.2,522.3 652.2,541 641.3,688.6 738.5,746.2 922.4,655.4 841.7,799.5 786.1,409.6 650.2,546.7 940.1,601 841.6,711.6 626.1,824.2 653.3,740 742.6,544.2 958.2,455.8 632.8,479.1 698.7,239.1 712.6,516.3 754.7,787.4 759.9,787.3 920.4,280.1 928.5,394.6 840.5,432 913.1,514.7 838.7,477.7 797.7,529.5 740,451.9 863,667.7 767.9,754.8 813.1,611.8 906.6,662.3 784.1,830.3 912.8,685.7 745.7,510 753.3,680.4 955.3,616 820,735.3 629.5,515.3 708.2,471.1 864.1,659.3 787.5,714.4 968.1,790.1 851.8,622.3 771.2,606.7 771.3,501.3 714,773.7 833.6,566.5 768.8,468.9 900.4,504.1 779.3,484 659.6,686.1 968.6,667.9 677.8,702 681.7,700.7 820.9,508.4 825.8,504.5 919.1,828.6 667.6,758.9 795.5,635.8 968.6,602.6 849.7,678.8 731.5,530.7 810.6,487.3 925.7,468.9 791.6,746 718,603.9 760.8,472.7 932.5,573.7 661.7,469.3 705,732.5 902.4,497.1 823.9,752.1 756.4,472.6 801.3,543 904.3,625.3 795.5,703.2 683.7,476.9 792.6,511.9 701,372.1 864.3,536.2 808.9,507.7 781.6,720.4 668.9,479.2 630.9,357.4 791.5,791.3 868.9,366.3 698.5,325.9 851.4,660.4 828.8,420.7 834.2,492.6 622.2,511 843.8,480 724.7,770.5 717.6,593.9 752,768.9 669.2,648.6 824.9,684.5 764.6,572.6 901.1,352.1 766.8,442.6 958.2,662.1 670.9,595 854.7,510.3 955.7,450.4 848.2,607.5 792.3,825.8 928.7,460 772.7,578.7 947.6,716.7 870.9,416.1 634.5,522.2 773.9,479.9 776.9,438.5 953.9,639.5 812,649.4 626.8,781.1 720.3,835.9 865.5,638 761.6,652.8 785.6,656.9 878.4,577.9 806.3,525.5 881.9,495.5 724.7,535.3 783.3,538.1 863.8,588.1 678.1,489.4 919.5,818.7 666.3,509.1 806.7,468.8 843.9,466 701.9,599.9 724.1,413.2 852.6,657 785.9,582.8 816.1,447.2 765,648.3 872.7,478.2 925,475.6 672.2,701.9 967,761.6 939.9,667.7 910,467.4 887.9,772.3 663.2,528.8 699.6,562.5 788.2,582.8 665.4,775.6 642.2,499.9 736.4,104.8 852.2,629 862.3,747.8 785.4,640.2 740.3,526.1 671.8,639.5 764.1,494.8 640.5,619.6 704.4,708.6 756.2,516.8 901.7,490 949.5,689.8 895.7,523.3 748.9,579.9 646.2,615.2 788.5,810.4 846.2,745.1 641.7,574.1 703,797.4 728.9,753.3 958.4,379.6 860.6,611.2 827.4,657.4 723,753.3 775.7,451.5 871.8,650.2 684.4,835.5 824.5,778 697.1,527 819.8,463.8 947.3,563 911.2,532 689,592.2 814.2,311.9 955.3,551.7 699.6,580 751.1,596.3 924.1,490.2 858.9,775.3 918.6,471.7 863.5,587.6 948.2,506.4 791.5,834.1 657.9,579.5 924.7,377.3 766.3,750.8 915.4,475.5 816.8,758.1 679.5,486.3 816.5,377.5 784.9,725.8 806.1,660.9 651,552.8 644,639.5 917.9,467.5 755,521.5 817.7,775.3 704.4,570 860.8,524.2 942.6,372.2 709.1,593.6 656.4,545.7 822.8,560 963.3,485.3 875.8,418.2 887.5,563.5 788.2,830.9 816.9,809.9 717.5,531.3 836.5,795.3 814.2,565.7 886.8,654.3 680.3,469.4 844.1,499 956.4,718.4 743,395.2 857.8,836.1 786.4,488.7 877.7,375.7 843.1,596.5 665.4,705.4 947.8,612.7 734.3,749.1 750.4,634.3 728.1,750.9 890,531.8 770.4,338.8 779.5,829.5 660.5,434.3 636.5,802.2 855.3,687.7 936.2,744.3 820.1,288.5 846.5,822.7 668.3,672.1 878,764.9 964.8,481.5 728.3,553.2 704.5,591.7 891.7,679.7 704.8,370.8 930.1,690.1 932.5,757.8 628.6,777 815.7,811.6 707.6,700.1 837.8,729.6 656.8,675.7 879.1,430.4 734.2,526.3 678.9,810.3 770.4,516.8 921,326.7 937.1,249.1 935.8,618.8 856,738.5 957.7,418.1 718.8,622.1 801.1,817.9 895,718.3 754.3,597.5 676.3,290.8 966.5,741.3 679.1,547 723,431.7 931.6,657.7 840.3,494.6 631.1,283.9 866,535.5 744.1,420.8 954.7,744.4 962.1,349.9 939.9,481.7 910.3,625.8 799.3,508.8 656.1,689.6 709.5,277 851.4,437.4 854.2,532.4 844.2,483.3 704.6,678.5 681.3,524.8 904.2,604.4 810.1,465.9 850.6,674.9 822.6,256.3 907,815.6 810.4,611.4 961.6,677.6 735,477 675.1,557.9 823.4,735 897,450.6 733.5,644.2 717.3,670.4 854.2,552.2 792.2,660.2 823,656.4 783.6,720.8 746.5,520.9 833.9,532.8 953.5,531.9 827.5,404.4 899.6,592.6 880.1,539.1 788.8,353.3 686.4,425.5 960,364.1 735.1,641.2 924.5,401 792,542.8 659.6,481 669.1,641.2 912.1,591.1 894.4,517.4 658.2,636 676.2,725.5 633.6,536.4 832.7,527.8 651,601 679,506.6 796.6,478.7 947.4,785.3 858.2,666.6 764.5,551.3 887.5,832.8 968.6,570.3 893.5,703.1 870.4,620.5 955.9,712.3 948.9,386.7 711.8,681.3 929.7,304.8 702.3,451.1 949.8,300.6 874.6,737.2 800.8,656.8 921.7,637.8 891.5,692 911,724.2 832.2,558.1 680.2,504.7 880.8,348.5 687.8,612.3 793.3,497.9 945.8,736.5 953.1,311.5 813.2,560.3 840.9,665.7 911.1,466.1 793.8,506.3 814.4,535.5 812.1,464.4 822.7,486.9 949.4,507.3 780,454.6 729.3,764.9 816.6,634.2 702.2,769.6 965.7,385.5 629,604.9 827.7,835.6 668.1,698.4 711,517.4 794.6,529.6 968.4,680.6 650.4,677.1 914.3,458.1 663.6,537.9 890.6,692.1 782.7,342.2 709.3,587.8 964.7,347.6 910,771.4 686,511.1 739.4,837.3 763.2,531.7 869.5,493.4 745.3,359.1 907.4,521.6 721,486.7 856.9,586.8 935.2,430.9 629.3,480.1 783.2,547.7 783.2,535.7 680.6,658.7 964.7,422.5 672.3,476.6 920.7,557.9 882.1,391 854.5,836.3 678.6,536.3 770.1,613.7 916.7,641.1 963,672.1 908.1,557.3 760.9,562.7 628.4,478.6 646.4,679.1 809.5,399.4 867.2,489.9 746.3,769.9 947,737.6 811.2,408.2 744.3,506.1 732.3,743.4 795.1,626.4 830.7,511.6 898.2,631.4 803.9,836.2 693.2,715.4 807.6,753.2 666.6,599.1 851.2,472.4 636.2,730.2 823.3,362.8 952.2,618.6 887.5,645.4 726.4,600.1 727.9,721.9 939.1,597.9 878,464.5 958.5,235.4 801.5,525.1 632.5,518.3 790,691.8 941.6,626 870.2,819.4 913.3,632.4 950,595.3 634.4,362.7 731.5,352.6 795,368.9 905.4,611.8 765.1,665.5 951.3,652.3 934.3,780.4 858.5,658.8 771.3,502.1 761.3,623.4 727.2,604.4 809,810.3 738.2,769.4 966.8,217 842.9,792.9 666.8,350.5 735.2,763.8 959,544.7 671.5,532.4 796.6,608.6 676.8,627.7 947.9,835 904.2,675.7 653.5,713.4 672.7,464.6 809.7,573.7 753.4,659.7 893.6,649.5 804.1,703.5 915.5,617.8 698.5,547.9 743.9,681.1 879.7,545.6 671.9,356.5 675.7,645.8 823.4,723.2 688.4,833 677,512.1 792.5,663.2 866.8,520.6 764.5,477.8 968.6,794 703.3,785 812.8,734.2 741.7,785.5 679.8,660.1 850.6,634.6 849.2,594.2 955.9,775.7 674.1,615.4 711,718 812.3,594.2 624,705.3 722.5,708.2 859.2,405.1 681.7,787.6 725.1,704.8 724.1,515.8 927.9,646.7 777.1,528.5 690.9,491.3 915.3,779.3 691,527.4 958,292.9 734,634.2 653.3,480.1 817.6,650.4 893.6,463.5 824.2,670.4 907.8,707.4 881.5,475.5 837,404.8 812.1,637 916.8,774.9 798.5,478.6 968.6,568.2 680,459.4 867.6,774.9 968.6,745.4 691.8,486.1 647.3,533 786.1,666.8 817.5,649.2 954.6,482 865.4,524.4 938.4,516.9 747,510.5 852.1,280.5 692.9,533.9 804.4,230.8 702.9,759.8 727.4,784.8 768.5,652 904.6,514.5 741.6,738.5 838.1,776.1 796.7,384.5 629.5,687.7 694.4,678.5 667.2,654.7 851,671.4 807.8,555.8 913.4,610.1 796,461.5 680.5,814.8 789.3,564.7 703.4,764.5 861.6,607.2 957.3,538.3 796.8,315 662.6,518.4 912.2,234.3 956.9,373.2 840.5,508.8 845.3,544.9 673.4,489.8 741.3,595.6 954.2,656.7 649.2,521.2 810.2,515 816.1,622.6 825.8,664.2 872.1,391.6 622.7,666.2 627.4,392.8 968.6,636.5 729.8,354.3 896.9,601 751.1,480.9 718.6,501.1 832.2,783.7 640.6,700 684.3,486.7 767.8,766.7 624.7,350.8 765,536.3 855.9,360.4 818.9,617.1 756,509.1 716.3,468.2 764,184.9 903,837.2 928.7,613.8 747,494.6 795,465.5 833.4,760.5 884.6,360.8 628.8,595.8 872,457 629.8,633.4 698.9,534.5 893.7,489.4 725.6,595 665.2,677.1 783.7,174.7 835.8,370 871.2,691.5 753.3,587.2 894.2,625.9 968,359.5 670.8,664.4 881.1,465.1 746.9,469 727.1,455.2 844.6,773.9 860.8,795 631.8,578.9 682.9,585.7 713.5,269.5 742.3,583.3 867.9,625.3 957.1,770.1 843.2,758.2 918.8,493.1 928.7,668.9 820,470.5 924.7,792.1 648.4,341.9 752.9,640.4 681.2,725.9 903.2,718 818.8,416.5 878.9,595.9 864.8,726.8 857.9,757.7 695.2,370.8 719.7,725.4 750.7,757.9 666,361.6 769.1,624 731,590.9 687.4,481.9 651.4,588.7 752.6,717 914.7,572.4 711.2,705.9 893.1,506.6 924.9,697.7 788.9,684.2 762.1,515.1 891.2,673 780.7,680.8 896.1,484.6 749.2,810.5 841.7,686.7 665.8,489.3 905.6,294.7 637,622.7 731,374.9 637.1,743.6 670.7,684.8 938.9,501.9 851.5,491.2 831.1,657.7 741.8,563.2 853.4,451.9 918.7,829.2 938.2,521.5 636.6,346.2 965.1,564.7 751.9,402.6 630.9,547.5 789.8,608.1 859.7,505.4 789.2,566.7 713.6,743.9 641.1,523.7 753.7,795.2 829.3,629.4 658.6,669.4 736.2,473 820.2,565.8 925.6,716.1 689.6,484.4 936.3,338 884.8,327.4 833.4,419.8 647.2,595.5 806.9,407.4 892,606.7 732.1,550.5 745.9,626.4 812,563 681,386.3 718.3,590.5 747.2,715.4 813,722.4 915.3,600.3 674.3,441.8 719.1,376.7 812.5,539.9 722.1,690.9 940.9,737.3 836.3,554.3 826.7,218.3 750,552.2 881.7,493.3 854.3,670.2 668.3,780.1 776.5,520.4 769.6,295.3 689.2,740.3 950,670.9 729.7,471.6 724.3,576.9 696.5,672.4 743.5,646.3 685.2,642.1 961.1,508.8 949.3,752.3 716.4,651.8 729.5,479.4 754.1,498.8 956.3,500.2 893.8,782.9 674.9,608.3 962.2,736.3 719.8,614.9 872.2,699.4 951.1,506.9 755.4,631.3 962.4,603.4 697.8,349 733.9,509.3 674.8,821 711.5,557.9 685.4,516.3 821.3,479.4 749.6,469.7 743.2,548.7 637.8,710.9 954.1,492.7 637.6,638.3 905.3,339.2 882.7,706 716.4,488.8 828,627.3 792.4,485.9 877.5,481.5 669.7,407.3 795.4,836.1 902.2,465.5 829.5,589.2 820.2,685.9 794.1,688.2 799.2,837.9 711.6,440.1 931.1,754.7 914.8,793.9 647.8,508.9 625.6,597.5 689.4,493.1 836.5,348.9 705.8,681.9 826.5,761 920.9,482.3 880.3,487.6 766.8,432.3 754.4,678.7 959.2,550.2 723.1,804.6 936.2,578.2 879.9,490 631.1,833 838.7,467.9 768,761.4 923.9,549.9 853.4,618.5 664.4,519.6 750.1,731.5 929,485.7 737.9,600.5 899.3,622.2 716.8,717.5 637.2,228.2 910.1,430 859,807.4 771.4,535 733.5,536.8 898.9,722.9 691,439.3 723.4,550.3 703.8,421.9 779.2,725.8 672.8,699.5 819,525.5 644.9,505 895.9,821.1 785.5,596.4 768,676.2 846.3,634.7 885.5,627 684.6,818.5 907.1,488.6 899.4,510.7 849.2,541.6 825.4,621.3 676.9,532.1 787,810.4 749.6,535.2 961.2,625.6 643.3,492 735.3,730.7 675.1,622.9 861.6,488.7 902.3,532.7 697.1,698.1 939.8,515.1 878,497.8 780.8,654.6 670.2,482.9 631.5,677.9 883.2,675.2 861,479.4 743.9,528.7 884.8,313.8 885.1,810.7 957.4,390.1 682,624.2 818.4,423.2 734,568.1 623.8,655.2 896,746.4 729.5,552.5 826.1,761.5 939.9,757.1 838.8,522 811.1,538.5 888.3,762.1 931.5,307.2 799,635.1 874,218.4 939.6,607 675.2,683 713.4,662.9 687.4,647.6 718.5,704.5 933.6,661.2 792.6,596.9 841,578.3 883.6,628.4 682.6,579.3 658.1,552.2 914.8,623.6 713.4,621.9 886.8,670.2 711.2,478.2 678.7,372.1 633.9,377 625.9,514 708,730.3 875.6,567.4 664.3,815.8 802.1,549.3 794.1,760.9 796.3,635.7 960.6,717.4 635.9,433.5 643.5,560.3 692.6,779.1 761.7,423.3 766.1,631.7 798.6,687 651.4,834.6 864.5,464.6 928.8,488 765.4,557 872.8,798.8 833.5,748.8 737,711.7 791.6,814.2 651.9,509.9 684.1,772.4 804.6,499.8 805,674.9 906.3,598.5 899.3,637.4 750.6,543.1 968.6,731.4 666.8,755.6 715.5,555.3 784.3,379.2 872.2,280.3 901.9,566.8 846.5,587.5 906.8,589.6 766.2,465.8 747.5,667.1 735.6,711.8 952,831.2 683.3,526.9 671.6,654.8 777.6,714.3 777.6,368.6 802.2,366.8 823.5,500.6 845.9,547.4 888.4,508.2 730,482.1 849.1,504.1 891.4,297.8 845.1,470.1 843.7,600.8 740.3,364.3 859.9,493.8 761.4,490 701.4,783 727.7,449.9 849,564.4 891,657.2 925,202.6 749.4,495.9 825,551.2 639.9,593.8 903.6,483.7 843.9,688.9 725.1,424.7 801.9,747.8 761.5,666.8 882.9,506 840.8,465.5 963.4,788.1 895.1,357.7 837.8,467.5 952.6,238.9 643.7,423.5 709.3,503.8 789.8,484.9 861.3,784.1 826.4,791.5 883.4,486.4 884.8,468.5 631.4,525.9 825.3,684.7 627.6,664.3 867.5,525.6 778,672 708.6,241.2 809,560.6 764.6,590.5 777.7,608 856.2,504.9 727.9,516.5 865.5,495.6 773.7,639.2 658,625.4 699.1,498.5 831,540.4 788.7,219.1 915.7,509.9 740.9,213.1 907.3,469.4 956.8,401.5 786.4,516.8 785.9,565.6 933.8,526.3 955.9,499.5 687.6,565.1 679.1,638.3 902.1,649.2 695.1,612.3 646.4,699.8 793.2,611.3 652.3,817.2 749,639.5 867.3,591.8 906.1,623.2 736.6,424.4 763.3,719.8 947,516.3 925.9,507.5 714.8,326.8 629.7,247 868.2,835.1 651.5,643.4 900.7,485.2 873.9,540.9 747.1,620.3 698,735.4 704.4,371.8 734.5,492.8 658.5,323.6 708.5,579.4 828.9,645.5 891.1,641.2 947.1,412.5 920.8,719.7 898.8,543.6 622.2,514.2 655.5,708.8 865.8,805.9 807.5,582.9 964.5,576.3 803.1,477.6 700.5,514.6 692.8,645 840.2,690.2 651.5,522.4 655.7,536.3 883.4,599.5 846.2,686.9 896.1,566.2 647.8,620.6 660.6,670.6 729.7,542.1 882.2,643.9 817.8,663.9 952.2,479.3 717.7,635.8 855.8,363.2 771.8,472.5 823.6,469.8 805.3,629.7 771,728 788.7,832.9 785.8,705.3 638.9,667.8 672.2,701.1 785.3,303.5 755.7,797.4 738.3,716.7 747.5,454.6 867.3,393.8 862.5,688.7 622.7,683.6 818.4,495.4 952.5,695.1 713.9,423.9 804,623.7 630.9,413.3 795.5,324.8 804.3,644.3 755.1,476.8 809.3,373.9 683.3,521.7 830.1,524.2 630.7,477 691.5,797.6 660.9,370.7 797.2,434 938,729.5 867.4,478.7 679.3,680.4 959.4,736.6 818.7,632.6 641.5,753.1 717.3,611.5 794.3,822.5 688.3,537.1 951,550.5 739.6,498.7 716.5,744.3 852.5,784.3 653.8,600.8 772,262.6 721.9,633.4 799.2,586.6 706.2,431.8 901.7,761.8 627.9,722.3 680,608.9 891.9,661.3 633.3,584.9 785.1,634.9 847.4,555.4 671.4,494 769.2,594.5 883.7,370.6 933.1,487.7 759.8,419.5 941.8,713.1 650.4,476.2 775.3,659.9 844.3,605.5 784.1,348.7 663.4,687.3 904.7,297.4 750.5,816 926.6,604.9 877.1,564.1 749.4,520.5 748.7,482.8 907.3,230.7 803.9,779.2 858.7,523.6 647.3,681.4 711.6,548.8 741.2,475.6 830.5,601.4 668.1,432.7 650.2,708.7 805.2,707.5 627.1,488.4 691.8,527.7 743.6,590.9 958.8,515.4 703.1,555.3 845.5,834.4 914.5,485.9 833.5,473.3 701,356.3 670.4,690.5 675.8,577.8 783.8,714.1 773.5,803.4 805.6,233.6 702.6,480.6 836.2,429.9 698.2,578.7 818.7,289 894.1,503.9 861.8,607.1 907.7,505.8 632.9,616.8 635.4,566.8 767.8,362.7 690.2,718.5 727.3,290.9 684.1,658.4 929.4,554.9 661.5,153.2 865.3,486.7 925.1,796.3 860.2,413.6 848.7,823.8 927.9,593.6 731.7,342.4 946,598.3 699.6,492.1 816.1,711.4 825.8,482.2 789.2,822.4 767.6,411.2 671.5,512.9 639.8,415.2 746,610.8 795.9,361.9 807.8,755 670.9,418 862.7,590.2 673.9,787.3 940.2,280.1 639.2,748.3 764.1,531.7 795.9,653.1 629.9,502 687.1,505.5 908.7,578.6 625.5,495.1 700,465.8 682.7,773.4 664,555.7 810.1,364.8 787.9,592.3 723.8,610.7 744.7,577.3 840.5,544 815.7,553.1 651.3,383.7 952.3,534.4 663.7,709.8 855,762.6 622.2,513.6 877.2,667.2 636.9,324 646.5,695.3 631.6,606 894.4,516.3 756.5,682.6 810.8,637.8 944.4,618 890.3,826.1 802.2,736.5 958.7,642 874,766.2 856.6,375.6 823,498.8 699.1,757.8 628.7,765 849.2,740.9 835,650.4 745.4,637.3 686.2,499.7 808.4,512.4 826.6,572.5 806.1,539.9 959.9,537.4 783.9,580.4 737.2,675.2 733,654.7 816,276.7 926.2,663.6 685.8,474.1 820.6,739.1 738.7,500.1 950.4,521.3 921.3,660.1 860,751.8 890.9,493.4 649.9,642 775.1,656.7 723.1,344.8 792.1,596.3 634,775.5 803.8,484.4 891.4,511.8 699.3,758.6 819.5,543.7 814.2,470.6 755.7,482.3 875.7,474.6 921.2,819.8 634.4,479.3 736.1,651.9 714.4,356.2 718,827 672.6,533.4 856.6,794.2 889.2,666.3 633.8,807.7 698.8,707.3 780.3,675.9 866.5,480 672.9,727.3 900.4,431.1 805.8,579.6 747.4,503.6 715.4,492.1 938.4,573.9 635,778 666.5,602 808,618.5 760.1,636.9 799.2,417 744.4,791.1 734.3,694.3 847.5,509.2 831.5,503.1 867.8,469.8 860.5,375.9 948.1,676.3 884.3,275.1 695,421.3 924,724.1 719.7,610.5 926.6,479.8 950.1,485.8 963.5,511 862,474.8 862.1,395.3 900.6,356.9 844.9,780.4 659.3,475.7 665.8,568.3 684.1,405.3 778.4,602 624.2,469.5 952.5,406.2 667.4,531.6 919.2,628.1 886.5,277.8 735.9,573.3 838.4,549.7 633.6,371.7 897.5,531.1 735.4,506.8 967.1,757.2 899,601.7 629.8,470 929.2,431.8 799.2,492.5 679.5,463.9 925.5,622.6 890.7,600.4 629.8,505.7 782.4,618.3 635.8,707.6 669,299.1 665.7,718.6 777.5,489.6 790.4,243.2 844.2,707.3 699,526.7 743.4,530.2 727.3,566.3 683.6,491 647.1,683.5 739.6,627 737.1,660.2 860.3,818.7 701.3,507.3 683.9,591.4 782.3,649.9 781.9,538.4 713.3,469.1 633.4,662.6 661.5,540.7 941.4,490.8 716.8,467.9 693.2,806 958.6,447.8 744.7,399.8 636.5,657.1 862,494.4 805.2,598.9 830.7,567.7 720.8,658.8 628.8,587.8 941.3,298.8 813.1,470.4 632.1,492.2 818.7,753.5 798.2,504.6 900.9,793.4 962.6,351.5 852,522.1 849.5,588.6 905.4,536.3 715,541.1 737.3,609.4 658.8,519.2 856,231.5 836.3,653.4 968.6,532 881.9,425.1 817.3,668.5 760.3,832.3 875.3,529.7 805.4,692.1 704.8,788.9 631,790.6 957.8,568.4 928.3,675.6 793.5,724.8 889.1,496.2 853.2,467.5 922,650 803.5,666.7 797.9,625.2 704.4,691.7 914.8,524.6 913.6,554.2 636.7,552.1 762.1,234.6 704.9,477.9 832.5,674.1 966.5,520.1 680.3,806.1 874.5,598.2 701.4,230.1 837.2,574.6 784.4,633.8 939.9,622.5 801.5,523.7 788.7,464 749.2,491.4 810.9,729.3 779.4,653.8 814.3,680.3 641.5,590.9 724.7,550.6 764.4,465.2 728.6,613.1 807.5,794.9 667.9,583.4 675.4,819 959.3,660.5 691.9,832.8 751,650.8 658.7,629.2 916.9,277.9 863.3,491.1 660.6,432.8 681.8,218.1 836.9,663 764.8,768.6 917.5,536.9 652.4,419.4 867.9,575.2 825,635.8 726,495.2 741.9,479.8 804.7,732.5 835.7,350.8 700.5,614.9 643.3,353.7 704.5,821 878.3,549.2 885.8,609.7 766,549.2 727.2,735.5 957.3,567.9 728.5,628.7 671.4,278.9 763.6,344.9 686.4,700.9 624.2,592.1 666.9,828.1 770.9,217.1 966.8,765.3 778.4,528.3 783.1,608.8 907.1,625.5 692.5,468.6 740.4,509.2 737.2,515.7 657.4,589.7 783.8,473.2 880.5,502.2 635.8,692.9 866.2,472.4 898.4,650.8 637.6,749.6 660.8,607 894.2,643.7 824.7,608.7 754.7,645.5 811.2,657.5 714.9,577.4 640.3,730 826.8,657.5 727.7,606.9 920.6,496.5 622.6,732.8 624.6,567.6 646.6,485.6 824.8,576.6 801.6,528.7 808.1,592.1 716.1,608.9 885.6,515.5 725.7,499.5 784.6,657.1 654.8,700.5 923.3,517.5 948.8,497.2 950.9,710.4 657.7,582.3 644.3,472.6 717.2,476.5 695.3,773.7 634.3,774 692,837 794.9,701.7 645.4,726.9 785.3,661.9 828.6,559.8 879.1,645.2 866.7,717.4 708.8,583.9 727.4,577.3 759.9,590.5 681.2,459.8 963,503.7 691.8,407.4 701.8,659.7 828.8,555.5 690.3,520.7 946.1,418.6 772.2,645.1 810.3,222.4 832.8,440.6 675.3,718.4 905,542.6 959.8,568.1 672.2,660.6 681.8,662 938.8,606.7 883.9,679.8 733.9,779.9 855,513.8 902.4,450.5 857.6,552 750.2,463.9 884.6,557.1 968.6,468.9 842.8,454.6 904.6,618 715,622.8 801.1,348.4 662.5,283.8 717.7,688.9 877.8,381.7 800.5,578.2 833.4,529.7 796.7,464.8 782.5,782.9 823.4,513.5 914.2,576.9 819.9,674.3 906.8,632.7 904.8,392.4 830.2,613.5 749.8,714.2 706.1,615.8 955.3,690.1 930.5,467.3 836.1,669.4 713.2,674.1 834.3,724.5 751.7,403.4 678.5,674.4 687,407.4 684.8,576.6 827.8,727.6 670.3,730 689,630.3 633.7,530.1 724.4,497.1 798.5,475 681.6,410.5 952,738.9 798.1,538.6 910.9,523.1 810.1,315.5 720,659 649.3,245.6 651.4,409.4 775.1,622.9 885.1,610.6 632,663.3 791.3,623.3 828.1,811.3 636.8,470.4 651.6,788.6 905.1,329.5 695.4,482 679.9,554.5 741.9,685.8 667.3,497.6 884.7,504.3 872.1,659.8 650.8,648.9 661.3,684.5 768.1,700.9 748.1,777.1 954.6,764.8 833.5,730.2 760.8,635.3 718.1,747.1 642.1,573.6 668.1,735 840.3,671.6 723.3,595.5 652,680.6 898.4,467.6 915.2,627.9 881,749.1 863.8,587.9 624.1,479 720.3,493.2 773.6,725.7 839.6,502.7 763.4,687.5 663.7,644.9 904.9,733.9 778.6,507.9 640.6,836.2 797.6,812.4 683.8,657 958.5,422.4 729.9,549.1 944.3,818.6 940.6,481.8 904.4,510 663.6,603.2 869.5,570.5 664.4,474.8 930.4,619.8 911.5,467 769.9,756.7 807.8,467.1 759.8,539.1 882.3,502.5 697.7,759.8 630.8,779.6 830.3,278 755.9,427.9 702.3,712.6 839.1,493.7 868.6,218.4 823.1,551.7 670.2,363.8 936.6,581.5 655.7,392.4 690.6,616.8 943.4,740.2 677.1,471.6 656.5,753.1 811.4,659.6 694.2,507.1 763.9,482.1 749.5,537.6 676.5,605.9 832,631.3 696,765.5 952.2,758.7 920.5,664.1 769.6,437.4 877.5,490.9 888.9,481.6 968,697.6 720.8,582.2 887.4,496.7 896.6,531.8 662.7,633.6 891.7,348.9 956.4,395 818.1,649.9 790.4,364.4 920.7,472 966.3,464.2 751.3,673.8 882.8,555.6 868.5,528.9 728.1,743.5 796.6,607.8 816.7,517.4 775.6,465.5 778.1,599.5 738.2,349.6 827,584.6 701,430.1 731.6,348.8 869.9,658.6 627.8,662.7 699.2,618.1 714.6,487.2 808.8,519.6 783.6,567.7 697.9,583.5 634.6,519 794.3,577.1 954.4,435.3 790.3,628.6 677.3,633 920.8,339.8 851.1,498.8 820.9,587.6 917.1,498.7 806.6,678.4 837.7,751.9 665.3,608.7 761.3,321.9 840.3,470.2 899.7,536.8 695,389.3 906.3,413.7 924.8,345.9 868.9,576.3 843.4,590.6 759.3,694.4 819.2,491.5 639.9,734.3 703.4,639.9 903.4,743 952.8,469.9 918,757 882,522.5 682.9,644.1 657.7,480.5 854.4,411.4 932.1,539.9 716.9,666.3 688.7,687.4 723.3,693.6 903.3,656.2 692.3,517.9 748,313.1 625.6,436.1 780.9,734.9 729.2,403.6 675.3,666 708.8,639.7 645.8,441.1 709.2,818.2 728.4,826.2 727.1,828.5 681.9,711.1 800.7,607.9 868.3,289.3 713.1,474.8 845.9,447.2 836.3,616.7 820.7,434.9 841.3,481.2 925.8,475.5 832.3,435.5 901.6,358.4 913.8,491.5 747,522.7 964.1,493.9 931.9,671.8 812.2,619.3 667.4,391.1 720,464.2 673.8,479.6 938.2,469.6 653.5,620.2 635.4,671.7 926.5,685.9 718.2,367.1 956.7,531.6 735.3,467.3 871.6,514.8 944.4,550.3 855.1,566 904.2,828.7 779.1,593 708.2,543.6 768.9,678.2 968.6,734.5 832.4,507.8 753.9,673.2 684.7,738.8 944,669.8 780.4,763.3 802.7,566.7 954.3,647.9 716.1,688.1 800.1,467.6 669.4,440.4 630.8,506.1 766.8,634.6 843.1,620.9 788.9,599.9 779.4,480 855.4,649.1 760.1,476.2 654.3,427.1 623.5,565.7 887,559.2 699.4,470.1 694.2,700.2 798.1,595.6 761.8,433.2 697.7,416.6 876.3,468 853.1,649 715,315.7 626,686.2 863.4,488.3 666.9,473.4 924.8,365.9 763.4,504.1 880.6,611.9 851.1,505.2 683.9,220.5 799.8,600.6 823.1,529.5 967.2,583.9 679.4,686 878.9,464.6 966,753.1 658.5,471.2 638.2,409.2 737.8,200.2 649.4,365.2 888.7,449.7 894.1,826.1 632,652.8 863.6,558 929.5,382.6 780.1,688.9 929.7,679.9 888.5,286.6 898.8,380.3 931.3,545.9 696.1,654.6 748.2,477.3 848.4,529.8 947.2,694.6 878.8,834.2 809.8,616.6 949.6,659.6 638.1,328.2 694.1,531.8 760.3,496.5 658.2,665.3 912.9,501.7 923.8,762.4 708.6,527.1 690.3,658 796.3,498.3 641.8,682.1 908,544 824.8,613.5 646.8,541.9 719.7,424.9 915.4,625.4 901.6,607 926.1,821 866.8,745.7 705.6,533 897.4,705.4 751.6,656 842.9,732.1 676,537.9 918.7,652.4 648,767.4 632.3,591.9 920.8,607.3 658.1,571.1 817,577 743.7,469.3 859.2,393.9 871.3,551.5 863.7,640.2 690.1,550.9 722.4,280.8 943.7,509.7 627.4,511.2 818.2,349.9 936.3,554.1 623.1,642.1 825.1,771.9 719.8,548.4 684.9,664.1 761,552.1 865.8,648.6 693.4,497.6 964.2,657.9 838,570.9 925.9,671.1 813.1,467.8 816.4,703.5 672.9,775.1 910,664.2 624.8,679.4 861,687 922.7,655.4 812.8,492 870.9,658 707.5,491.8 659.5,653.9 793.7,635.9 731.9,580.9 904.8,474.6 651.1,623.6 664.6,544.6 912.3,486.6 897.8,632.2 908.5,503.1 755.8,511.1 695.8,749.6 642.5,682.3 907.2,562.4 815.7,547.7 923.1,314.9 752.8,609.2 736.6,514.3 624,736.9 742.9,216.2 889.5,545 788.1,469.3 806.9,490.1 733.8,826.3 715.6,496.1 825,529.8 784.7,463.4 698.2,531.9 851.1,541.8 643,622.6 744.9,294.9 936.1,533.8 723.8,465.9 757.9,398 624.4,534.4 937.4,284.6 887.4,734.7 768.3,498.1 856.9,567.5 649.3,489.7 657.4,704.1 629.7,679.9 754.1,520.6 759.3,739.9 678.9,598.8 965.9,639.3 758.9,656.5 740.1,247.8 930.2,631.6 929.1,447.5 779,515 941.1,277.2 842.5,474.9 822.8,734.7 941,561.9 718.1,736.5 907.4,511.3 840.4,813 635.4,476 868.3,710.1 681,654.5 942.3,751 707.7,447.3 759.4,475.7 709.6,649.9 847.8,668 753.6,648.1 862.8,500.7 935.9,559 966.3,675.1 629,701 662,476.5 925.4,753.5 644.4,525.5 663.7,745.7 934.5,568.7 909.1,344.2 848.1,465.3 839.9,425.9 797.5,596.4 732.7,805.4 881.8,695.3 692.6,699.5 938.8,539.6 806.6,545.8 815.3,711.3 877.8,655.4 720.9,621.5 642.1,281.1 629.6,789.4 934.8,683.2 704.1,820.6 769.1,726.7 943.3,784.7 752,673.4 883.4,495.2 779.1,701.6 947.7,771.6 739.2,376.2 722.2,734.1 660.9,688.5 814.2,350 876.4,500.4 835.3,616.6 910.3,695.7 701.8,669.1 710,567 794.7,637.1 689.8,639.5 875,383.7 905.3,279.3 790.3,361.7 740.6,610.4 718.3,647.3 628.8,596.3 768.6,348.2 677.4,597.6 627.9,500.1 766.9,681 897.6,490.9 882.8,639 747.2,619.2 767.2,533.3 675.1,748.1 896,470.3 849.4,398.9 633.1,663.6 958,623.6 881.4,462.6 797.9,769.1 831.8,468.5 896.7,600.4 967.8,670.6 718.3,648.9 757.1,612.8 723.7,508.3 821.5,594.6 809.4,562.3 738.6,635.9 797.7,350.5 729.4,617.8 640.8,543 833.3,478.6 906.2,713.1 802.8,741.8 649.7,563.1 658.8,531 766.9,357.1 843.9,691.9 642.4,628.6 725.7,350.5 762.8,373.1 657.5,811.1 798.8,763.9 844.2,624.4 928.7,265.6 903.6,453 889.5,719.9 639.7,469.5 689.2,395.4 654.1,479.4 802.8,590.1 845.1,479.9 893.3,409.3 747.8,472.5 918.7,476.5 832.9,837.6 742.9,676.3 892.8,694 771.5,232.2 624.4,620.3 882.7,498 911.8,503.4 807.7,613.6 887.6,790 769.2,291.9 919.5,584 847.8,815.9 758.9,343.7 893.4,501.4 736.5,739.8 930.4,769.3 948.9,613.1 784,659.2 953.3,585 924.9,758.4 727.6,464.4 743.5,465.2 698.5,466.3 855,575.7 789.4,421.4 839,340 931.8,673 776.2,695.8 870.2,464.8 948,603.2 773.5,670 843,499.9 810.4,687.7 825.6,559.2 869.8,524.1 701.7,483.3 654.8,446.1 730.1,821.3 774.7,467.9 953,789.9 876.6,552.7 777,494.8 720.9,588.2 903,600.6 861.5,662.1 690.1,354.4 817.4,479 925.9,508.6 943.2,605.6 783.9,472.3 865.4,525.4 961.2,569.2 703.3,406.4 782.2,288.6 782.4,437 775.7,537.5 848.6,547.4 681.1,758.9 885.6,559.4 853.5,704.2 635.9,610.3 774.5,401.7 944.4,555 685.2,527.8 648.5,607.1 672.2,590.2 949.9,652.1 956.5,518 675.1,566.8 800.1,520.3 842.2,778.4 837.2,590.6 776.8,493.2 831.4,617.9 720.6,659.4 717,463.6 692.3,789.7 709.3,669.3 928.7,528.1 862.4,617.7 792.7,501.2 904.1,509.8 654.4,653.4 871.3,209.5 949.1,476.1 838.2,585 682.6,479.2 964.5,620 686.3,475.9 906,299.1 642.8,549.8 701.7,623.2 901.2,570.9 919.2,744.4 830.7,349.3 721.7,458.6 955.2,303.9 735.8,788.5 693.3,555.9 654.1,764.9 674.4,514.6 643.9,319.2 850.1,536.1 841.3,468.8 754.5,554.7 823.6,299.9 832.1,406.4 905.7,546.4 755.8,636.4 720.1,591.5 721.3,543 776.1,554.5 708.6,596.4 819.7,506 667,490.4 947.9,608.2 668.5,525.6 860.6,642.9 764.5,778.5 898,589.3 944.1,522 832.8,656.1 708.8,744.9 706.1,773.2 750.3,782.9 830.2,689.4 892,521 939.7,486.6 811.9,604.9 708.7,298.7 662.7,510.8 877.1,595.7 643.7,466.5 706.3,788.3 923.8,501.7 804.6,480.8 857.3,456.8 639,779.8 811.7,638.9 916.4,469.1 917,750.2 712,628.9 929,476.3 876,784.1 792.6,810.8 700.4,653.6 720.6,530.4 692.3,602.6 959.2,446.5 724.3,614.2 920.1,596.2 625.4,504.7 631.9,611.1 942,534 790.5,443 830.6,812 823.4,762.4 734.6,430.4 819.8,611.1 710.8,381.8 771.8,619.8 671.5,478 679.5,580 838.5,527.2 630.4,676.1 747.7,546 932.8,503.4 757.2,769.6 873.2,618.2 959.1,676.2 941.2,498.7 965.9,708.7 709.1,372.3 745.8,495.7 776,501.3 757.3,492.6 635,787.5 722.4,668.3 854.8,505.7 772.6,373.8 746.3,683.1 948.9,706.8 842.2,244.2 846.3,810.9 715.2,534.2 642.6,486.8 950.4,552.3 746.3,568.5 794.1,725.8 856,522.1 757.9,581.8 961.1,386.8 916.8,607.2 852,558.7 819,469.3 754.1,581.6 673.8,523.6 937.4,398.3 958.8,568.3 804.2,798.5 775.5,543.6 700.8,482 790.5,746.9 761.2,260.9 941.2,477.2 737.1,548.1 944.1,429.4 677.8,718.1 719.9,714.2 757.9,618.7 873.2,706.1 888.1,755.3 772.7,443.8 826.8,465.3 643.5,644.9 717.5,572.6 888.8,469.8 698.3,775.5 845.5,414.6 855.2,441.3 641.9,612.3 761.3,505.1 740.6,219.4 854.9,771.9 774.9,536.9 876.1,429 824.1,613.7 770.8,813.3 632.6,747.1 910.1,756.8 635.9,654.1 779.2,561 678.5,602.5 676.7,671 741,470.4 803.5,750 710.5,499.6 645.6,520.6 669.8,628.2 872,732 908.3,526.6 748.7,346.2 964.7,470.3 734,440.8 686.4,242.6 762.6,531 810.3,471.8 655.2,515.3 904.7,532.5 835.9,413 963.4,834.2 736.5,556.5 743.4,702 795.4,257.2 930.5,662.5 906.3,466.1 946.9,417.7 935,626.4 734.3,306.9 706.4,585.7 826.2,519.8 896.2,688.6 952.7,295.7 739.3,507 966.3,728.8 959.5,493.3 740,598.5 878.5,683.3 777.8,547.6 882,705.4 965.2,607.3 938,476.9 966.1,763.4 823.2,775.8 699.2,611.8 918.5,517.7 883.4,580.4 920,578.2 832.7,561.9 840.2,488.5 915.7,551.8 686.1,279.7 781.4,666 696.1,771 772.3,423.8 756.3,533.4 876.9,548.6 825.1,619.3 751.1,510.7 695,552.8 701.8,755.9 862.6,501.8 905,693.3 894.4,599.9 787.9,710.6 734.5,293.7 821.7,478.5 802.7,683.3 735.1,483.4 743.9,679.1 836.9,473 775.8,527.6 926.7,527.5 708.2,735.7 789.7,613.6 649.4,480.7 825.9,398.8 949.8,477 802.1,560.6 785.2,459.2 694.8,356.9 645.7,723.7 777.2,359.4 853.2,618.4 778.1,734.3 717.2,693.4 883.7,601.1 739.3,672.1 780.8,604.9 631.5,672.2 834.3,600.1 731.9,517.5 657.7,647 792.4,533.6 726.2,816.8 809.4,320.5 664.1,626.3 660.4,739.8 656.4,534.4 857.6,756.6 878.3,769.5 791.1,283.8 784.6,622.9 765.4,739.9 707.7,713.1 636,491.8 834.2,638.1 885.1,696.7 850.6,544.6 733.7,637.1 724.7,481.3 867.4,515.2 912.2,818.2 892.7,726.3 650.7,527.3 964.8,517.3 902,216.2 901.4,481.7 881,821.6 865.6,590.9 734.7,406.7 716.1,523.9 764.4,675.3 840.1,479.8 683.5,474.1 648.8,575.9 679.6,350 671.2,499.5 822.8,719.3 712.3,313.4 690.9,530.2 865.5,621 682.3,802.6 656.6,539.1 810.4,817.6 741.9,605.6 795.9,798.7 659.4,580.3 929.8,723.3 733.2,371.5 956.8,271.7 705.5,466.6 740.5,684.4 826.2,469.8 824.6,351.8 688.3,755.5 672.4,496.1 739.6,824 950.5,581 629.8,591.9 730.8,502.5 868.2,684.5 794.3,501.4 694.1,739 938.2,510.7 926,647.8 630.2,832.5 848.2,728.8 850.8,718.1 774.2,283 644.5,511.2 700.2,477.3 809.5,678 723,519.9 955.6,521.3 705.4,513.6 661.4,675.5 751.6,581.3 750.7,394 663.5,603.5 653.9,726.6 843.3,388.9 887.4,692.1 626.2,518.7 856.1,679.4 928.8,603.1 765.8,562.9 733,388.1 852.8,760.6 903.4,227.4 676.1,560.2 624.3,666.6 835,631.5 888.5,721 905.5,301.9 870.2,674.4 892.2,736.7 850.8,742.3 892.6,523.5 768.6,771.2 841.8,677.1 647.9,464.7 823.4,677.5 713.8,346.9 737.5,814.5 865.3,451.3 962.2,543.1 660.2,432.5 789.3,373.7 917.9,513.3 803,587.4 877,798.1 850.7,766.9 831.2,719.2 799.7,486.6 956.5,672.8 625.5,471.6 661.6,515.9 832.4,358.2 687.4,564.8 925.5,696.1 709.3,494.3 811,605.7 781.6,630.3 657.6,469.8 897.7,514.3 913.1,706.1 745.3,282.4 729,530.7 939.8,488.3 919.1,479.8 940.4,826 829,580.5 798.4,464 840.6,515.7 854.5,613.2 879.1,740.4 642,694.3 777.9,549.5 806.7,669.6 890.2,567.4 777.4,550.5 626.5,505.4 652,509 650.4,305.4 783.6,651.6 961.8,647.1 959.8,480 818.6,393.8 925.2,475.6 852.2,788.3 784.1,591.3 843.5,717.2 924.5,592.5 902.6,707.6 920.3,709.4 928.4,530.8 926.5,510.2 882,650.4 762.2,280.5 689.9,494.3 650.5,727.4 871.6,497.5 710.3,197.9 860.4,784.3 888,502.1 667,661.2 816.4,689.4 622.2,664.6 784.8,581.4 680.6,529.9 962.4,597.6 765.2,603.6 677.2,518.2 762.1,509.7 731.4,559 854,713.6 660.1,235.9 856.8,659 827.6,484 902.3,672.4 968.6,468.9 743.9,509.2 855.6,487.8 775.2,823.6 841.8,743.6 927,542.5 876.3,480 632.4,465.6 763.1,427.7 968.6,474.5 691.3,775 623.7,515.7 912.9,583.8 666.2,494.9 702,495.2 964.9,814.1 708.1,685.6 654.7,485.6 839.4,510.9 655,558.9 687.1,498.7 783.5,769.7 646.8,763.1 918.9,252.3 921.1,812.6 749.4,600 756.3,625.6 680.6,666.3 916.4,527.4 641.9,823.9 782.1,713.1 649.4,244.6 664.7,666.4 899.3,475.3 968.6,803.7 799.8,746.4 684.7,772.9 667.1,780.4 709.9,483.5 706.9,797.1 635.6,594.9 828.7,434.9 940.8,459.2 964.5,356.3 749.1,702.2 796.5,785.9 868,555.9 922.4,468.7 731.7,733.6 804.8,487.6 671.4,510.6 724.4,673.5 929.1,615.2 937.7,464.1 729.7,512.6 815.6,457.7 666,301.1 922.5,663.2 876.5,625.8 733.9,520.1 846.8,796 851.9,483.4 931.4,472.6 659,637.9 824.5,505.6 763.7,722.9 775.1,401.5 891,706.6 968.6,556.6 756,779.8 790.3,758.3 655,474.6 838.1,756.8 679.1,528.4 778.5,660 753.9,548.6 897.7,491.1 795.8,691.6 939.4,789.9 878.8,553.2 695.8,783.2 641.8,612.3 798.9,648.9 927.3,573.6 828.1,377.3 783.2,642.4 959.1,413.8 803,619.9 948.1,682.2 802.4,600.8 948.5,357.4 868.5,717.4 960,497.5 872.3,614.1 899.5,564.4 691.3,823.5 648.2,594.4 791.1,467 862.1,341.7 887.1,421.5 651.9,640 672.1,591.4 633.7,734.5 718,490.7 713.7,493 668.4,825 960.4,569.7 623,494.1 726.4,524.8 645.4,783.2 762.2,479.6 807.7,476.9 873.3,667 753.7,447.4 931,644.4 772,489.5 676,722.7 889.4,341.3 877.4,536.3 746.6,515.7 744.1,487 624.3,527.7 744.3,442.7 634.2,473.8 664,374.8 911.6,590.2 748.9,572 637,682.4 954.5,562.8 766.9,570 960.5,639.3 968.2,571.8 741.4,690.7 706.1,338.1 890.4,781.7 674.1,321.4 637,752.6 633.2,633.5 798.1,718.4 679.6,341 810.5,799 819.3,529.1 931.5,518.4 827.2,772.2 808.9,499.4 850.6,550.8 736.8,484.8 658.6,716.9 940.2,830.4 787.2,749.7 895.5,535.7 861.5,677.9 865.7,529.2 695.5,781.9 786.1,743.5 883.3,482.6 912.7,759.4 943.2,696.8 694.1,639.1 793.1,756.2 733.9,474.1 945.4,571.2 692.9,595.9 941.4,602.2 728.7,290.9 882.1,245.8 756.3,705.2 879.1,534.7 685.3,513.7 828.7,800.5 794.1,818.7 828.6,600.3 795.3,477.5 869.5,749.2 960.9,743.3 861,765.2 929.9,411.3 813.1,339.4 961.1,361.3 845.2,818.8 783.5,562 714.2,731.1 852.6,793.6 628,474.3 890.6,391 677.6,622.5 763.1,480.6 839.1,590.8 774,772.4 916,735.2 905.8,218.2 628.8,404.6 769.9,623.9 675.8,317.6 906.3,837.2 700.7,479.1 679.1,663.2 677.5,467.7 732.6,623.5 770.8,741.4 897.8,380.4 728.9,588 747.8,833.2 766.7,804.6 639,809 695.3,609.9 629.4,500.6 626.6,442.3 622.3,722.2 745.6,837.7 859.8,468.3 705.5,803.2 623.2,634.1 710.4,467.9 920.1,448.1 703,268.6 694.9,562.5 668.3,508.4 780.6,675.7 890.1,529 804.4,530.7 866.5,680.3 774.8,630.7 859.6,307.3 693.7,627 912.2,531 684.2,706.7 643.7,718.6 684.6,287.2 765.7,540.7 710,784.4 940.3,352.8 750.3,510.6 767,619.4 936.1,828.1 910.4,580.5 812.9,502.4 736.4,671.7 891.9,520.3 626.1,684.1 854.7,365.5 726.5,557 898.1,652.7 928.1,351 916.6,688.4 834.4,274.3 857.9,349.9 855.8,651.1 898.9,767 668.4,496.6 722.8,826.6 844.2,536.5 905.5,581.4 678.8,632.8 851.8,666.4 783.4,715.4 927.5,772 890.2,798.2 798.9,524.5 915.2,659.1 623.9,654.1 747.8,396.9 862,743.5 768.4,469.6 905.7,523.6 931.3,727 829.9,398.1 671.3,611.7 889.1,556.7 708.6,830.5 919.9,569.3 650.4,517.2 907.9,610.5 931.7,320.7 815.4,526.7 759.8,562.2 951.2,498.2 958.7,524.8 636.8,464 831.2,370.8 778,637.5 775.3,780.8 638.8,613.3 719.5,516.1 927.6,437.3 945.5,472.4 786.4,615.5 947.4,501.2 915.4,351.7 654,272.7 806.3,606.5 743.7,377.9 768.2,628.8 737.9,723.2 948.7,464.8 835.4,834.7 809.1,608.8 965,316.6 627.4,557.2 909.9,594.6 909.9,650.7 854.4,595.2 747.2,585.9 849.7,551.3 630.2,582.5 654.3,574.3 626.3,546.6 725.9,648.1 725.8,726.2 966.1,809.1 895.6,496.1 932.1,691 691.4,612.5 893.5,617.8 946.9,577.4 764.7,604.3 683.8,703.9 968.3,690.9 641,522.4 809.1,462.6 802.7,639.4 925.6,463.9 657.2,675.2 943.8,487.8 702.2,491.1 670.9,676.6 702,564.8 883.6,723.9 735.4,374.2 920.5,669 953.9,486.4 799.6,514.8 842.4,548.7 753.4,592.4 664.2,476.1 721.3,650.6 912.3,635.3 816.6,438.7 933.7,465.6 962.2,472.1 897.5,738.2 855.1,602.4 871.6,475.4 963.9,277 750.7,626.7 626.2,637.7 746.9,563.2 784.1,345.9 953,543.6 773.7,387.6 906.5,550.2 742.6,662.2 741.9,563.9 744.9,582.3 888.6,573.1 646.1,520.4 677.1,236.3 887.3,439.8 629.4,303.4 876.9,459.1 869.3,520.4 835.9,810.9 928.7,511.4 677.7,478.9 916.6,489.1 663.5,467.2 933.1,489.2 838.6,817.8 908.1,310.2 644.5,587.2 739.4,552.1 930.1,792.3 916.4,409.1 861.3,800 871.2,792.8 875.3,795.8 648.4,517.2 675.6,744.1 732.5,558.8 910,550 654.3,498.3 824.7,584 952.5,528.4 799.2,442.9 956.8,496.3 830,614.5 763.3,559 848.3,751.6 959.5,607.3 959.6,429 702.7,661.6 929.5,534.9 661.7,544.1 828.9,495.2 776.8,573.9 733.6,627.3 742.4,422.1 872.3,783.8 776.9,273.6 730.3,673.1 625.1,514 782.1,527.3 689.5,504.8 693.7,801.6 808.5,836.4 729.7,617.2 714.7,559.2 861.9,241.6 889.5,807.9 936.2,544.7 747.4,416.8 718.5,781.3 942.7,611.4 833.9,473.9 873.6,765.8 923,599.5 739,707.8 664.4,264 814.7,552.4 945.7,660.9 660.7,791 695.5,476.9 917.9,556.9 858.3,464 916.4,691.8 674.4,484.6 732.1,470.2 707.1,452.1 656.3,310.5 858,644.5 870.4,649.6 949.2,814.5 633.4,538.3 682.2,242.4 883.5,499 633.7,628.8 764.9,653.5 847.1,582.3 956,491.5 795.1,468.1 732.3,747.1 819.3,606.8 680.3,566.6 771.4,478.2 750.6,637.6 648,535.8 869.1,610.4 645.4,604.6 908.9,516.6 764,515.4 899.9,533.8 669.4,733.9 622.2,646.5 698.7,534 774.6,527.7 635.3,639.8 726.4,700 911,418.5 789,499 664.2,558.7 953.9,705.8 865.8,538.3 966.2,591.5 954.5,816.1 896.7,716.6 720.6,613.3 721.9,534.1 725.9,375.2 841.2,760.6 826.8,311.5 771.9,744.3 962.4,704 865.4,657.8 687.2,342.6 811.3,822.2 626.4,490.4 643.9,363.1 843.1,519.5 932,584.2 936.2,429.5 851.2,746.1 924.5,476.1 792.6,364.8 922.2,288 749.4,604.7 883.2,770.7 688.7,478.7 739.4,747 639,571.3 844.8,513.8 907.9,714.7 870.1,342.7 649.8,602.1 756.2,474.6 706.2,478.1 852.9,257.1 820.6,818.2 700.9,592 679.5,472.1 649.9,537 629.9,702.4 914.8,498 840.8,555.7 842,487.1 776.3,731.8 847.7,709.6 779,670.3 893.9,489.7 679,746.4 911.7,481.3 851.8,224.1 714.4,668.6 676.1,835 837.6,659.1 646,436.5 968.6,667.8 869.7,536.2 728.5,665.7 899.5,544.7 757.8,535.7 788.4,716.1 730.9,712.8 964.2,277 918.7,644.3 768,824.2 697.7,596.2 847.7,544 823.6,559.8 641.5,615.7 872.3,553.3 691.3,593.8 872.9,477.7 685,685.8 742.2,509.4 709,522.3 834.6,465.4 635.5,544.7 775.8,537.6 685.1,539.2 664.6,613 822.8,536.7 915.8,502 643.5,555.9 762.6,465.3 910.8,732.3 720.6,659 817.2,792.3 813.1,784.3 932.4,476.2 795.6,615.8 948.1,227.6 855.3,539.8 663.6,582 769.7,561.1 849.5,670.2 774,558.3 891.2,619.1 932.4,285.9 660,653.3 803.2,793.5 823.7,704.4 803.8,572.2 777,664.4 794.8,547.4 863.7,306.5 771.9,579.9 870.7,484.9 769.4,497.2 884,687.1 824.2,465.3 690.7,538.9 791.2,174.7 692.7,465.4 662.8,358.2 842.8,595.6 833.6,691 794.1,786.3 897.4,439.3 789.8,569 659.7,545.9 928.4,471.5 773.6,758.4 858.2,836.4 848.8,784.1 622.5,376.6 899.9,524.7 851.1,520 788.3,447.9 837.3,685 675,819.8 832.2,521.1 749.9,525.2 940,807.7 629,693.4 846.9,471 625.7,666.5 741.5,616.5 847,466.2 762.1,525.6 660.1,617.8 965.4,514.3 797.5,482.4 718.3,511.6 641,759.7 965.6,337.4 705.8,603.9 680,809.7 776.4,614.7 891.4,600.9 759.7,557.3 813.1,641.9 661.5,527 813.4,719.7 679.1,671 803.9,522.8 637.7,648.4 668,339.3 743.4,538.8 875.6,672.2 923.1,659 688.3,674.2 856,725.1 940.6,662.2 906.4,372.6 629.7,821.2 742.1,483.9 689.9,493.8 952.1,501.4 961.2,468.6 624.2,534.2 746.3,526.2 907,705.2 926.7,728.4 690.5,327.1 762,393.7 764.5,408.1 926,649.2 710.2,818.4 725.7,732.8 861.9,523 714.4,466.3 675.3,689.1 719.1,477.4 723.1,295.6 735.5,606.6 844.5,362.5 926.4,381.7 684.2,466.2 798.7,754.3 823.5,472.9 652.3,408.1 833.1,696.7 772.5,699.5 651.2,493.9 655.8,585.7 755.2,647.4 665.6,535.2 823.1,580.2 968.6,797.5 673.5,796.8 946.3,628.8 817.3,238.3 782.8,679.8 910.9,373 818.6,473.7 665.9,356.1 714.7,545.1 899.1,803.8 867.1,513.3 707.1,465.8 886,683.3 626.6,467.2 737.8,280.4 954.8,769.9 742.2,497.8 901.8,303.7 757.7,563.2 867.7,730.1 896.3,238.9 880.5,561.1 630.2,255.2 724.3,616.6 908.6,588.7 932.5,539.8 855.1,696.1 941.1,561.6 702.1,585.8 898.7,664.1 635.8,635.2 783.2,694.5 771.5,518.1 716.5,456.1 854,654.7 902.3,743.4 840.1,642.8 631.7,616.7 750.1,517.6 745.3,437.9 940.1,645.7 906.2,700.1 942.5,494.3 720.6,409.6 892.9,461.1 755,523.9 926.9,221.8 882.7,470.9 867.6,735.8 764,600.2 624.6,673.6 906,739.4 622.2,532.4 889.6,545.6 836.2,579 816.1,564 646.8,693.4 863.5,371.5 676.2,821.6 829.6,532.5 704.1,579.6 866.1,630.9 912.9,530 848.1,703.5 941.1,531.7 876.3,508 916.8,480.5 741.1,706.9 726.4,499.7 844.1,595.6 877.6,632.3 902.7,505.5 748.8,678.1 926.4,745.3 948.4,614.4 922.5,483.1 912.7,357.8 813.8,632.2 961.2,605.5 950.8,506.8 910.6,739.6 852.4,374.5 658.9,210.1 861.6,544.1 698.5,532.9 812.4,479.1 861.2,618.1 650.2,652.8 827.7,725.9 761.7,568 629.5,544.4 946.2,555.6 731.8,577.4 878.8,719.7 791.2,618.2 678.5,614.3 818.2,676.9 943.7,575.7 946.6,600.9 772.5,467.4 648.2,515.4 855.4,584 907.8,425.3 644.3,529 968.6,740.2 730.3,470.7 911.2,593.1 684.2,560.9 918.1,472.6 729.4,553.2 770.5,808.6 679.9,739.7 930,778 709.2,478.7 899.1,751.5 722.3,795.4 827.7,527 648.6,487.9 968.4,531.3 641.1,620.4 944.5,368.7 945.7,524 870.5,508.9 739.1,506.1 730.8,504.5 805.3,687 725.2,688.1 940.2,461.1 887.6,629.1 856.9,515.8 807.7,693.4 781,655.5 623.7,392.7 676.6,617.8 845.5,485.3 953.8,504.7 831.1,805.6 952.7,538.3 832.1,465.8 629.6,704.1 711.5,553.3 850,702.1 798.5,468.7 918.3,414 732.2,499.3 653,709.3 841.6,469.9 900.7,716.1 872.3,516 820.5,428.3 656.5,837.9 861.2,502.4 765.9,477.5 845,303.5 781.9,692.3 910.8,794.2 797.4,679.1 904.5,583.5 740.1,502.6 889.5,486.6 902.9,407.3 849.8,801.4 753.2,743 959.1,527.2 771.5,217.1 733.3,412.2 918.4,697.9 913.7,484.6 922.3,463.8 800.8,311 879.4,663.8 895.3,577.9 805.8,604.4 667.9,541 961.9,765.6 891.7,726.1 888.6,412.7 913.4,583.4 699,445.2 807.3,773.6 721.9,531 692.7,760 928.9,614.2 679.7,540.6 741,761.7 940.8,593.2 943.9,655.4 767,357.2 771.1,625.5 808.9,442.1 693.6,414.3 838,645.8 798.7,524.8 698.6,693.3 968.6,667.3 755.6,512.1 695.1,724.4 968.6,478.8 782.1,486.3 639.9,514.4 697.3,342.9 691,605.8 746.4,553.8 735.3,530.8 635.4,589.8 711.9,483 791.8,408.9 918.2,593 799.5,524.7 644.2,704 739.6,502 855.1,556.9 788,554 847.5,384 827.9,737.1 861.7,596.9 636.4,834 752.7,727.3 853.3,344.9 843.9,470.1 669.1,557.4 942.2,546.8 743.2,745.9 798.4,596.1 692,802.3 707.5,800.6 653.4,348 799.4,470.5 656.9,344.5 729.4,816 859.3,716.1 663.3,268.9 947.6,643.1 634.3,486.2 765.3,569 691.4,738.2 889.1,518.2 740.9,548.1 883.8,551.3 944,823.4 631.3,470.2 952.8,785.7 893.8,653.6 665.9,504.9 892.1,265.4 932.7,598.1 666.9,470.5 880.9,479.6 966.7,520.9 629.9,567 668.9,477.4 641.7,656.1 803.8,475.3 836.2,368.4 840.8,663.2 911.8,599.9 624.1,666.8 958.5,601.5 720.1,577.5 943.4,467.7 626.5,490.7 928.9,468.4 763.6,833.3 758.9,529.4 739.7,695.3 644.9,538.5 924.6,495.9 645.3,699.9 931.4,370.9 894.9,764 800.2,525.6 664.1,558.1 638.9,569.7 690.3,578.4 884.9,549.5 887.4,682.7 883.6,366.2 875.4,444.7 641.7,293.9 799.5,472.4 715.9,418.4 941.8,221.2 759.3,501.4 900.7,536.9 691.9,589.2 898.9,764.8 753.3,477.5 686.4,503.3 780.1,623.7 683.6,638.3 773.2,493.3 855.8,675.5 949.1,787.1 790.6,790.4 794.7,301.5 966.4,471.8 882.9,825.9 780.5,545.8 792,684.6 719.1,393.2 651.2,640 732.9,527 798.8,597.9 936.7,547.3 824.9,691.5 759.8,626.6 924.1,340.5 877.8,613.4 881.8,339.5 631,515.5 656.5,686.3 879.5,626.8 819.2,654.3 786.2,677.6 937.9,284.4 925.6,569.3 841.3,617.1 849.1,800.5 762.2,738.6 795.5,593.7 909,638.3 924.2,808.8 916.9,681.1 828.4,606 697.5,754.6 958.3,399.9 965.8,546.5 961.9,482.6 869.8,358.1 739,793.9 883.3,571.4 806.2,411.4 852.1,636.7 852.5,292.1 921.4,802.7 631.9,376 897.6,554 658,681.3 776.1,497.9 646.4,687.4 646.1,718.3 638.1,327.6 890.9,482.9 780.9,713.6 785,210.1 889.7,828.5 757.3,543 756.9,534.4 967.3,769.1 930.5,491.6 819.9,483.6 881.1,402.5 768.2,643.4 837,470.7 734.4,535.6 861.6,664.2 948,834.2 860.2,546 757.5,333.4 917.4,478.7 674.1,665.8 706.4,582.9 957.1,366.6 914.9,725.6 927,536.4 916.9,485.9 926.6,657.5 753.4,404.1 966.5,802.3 669.7,462.9 787,628.7 950.1,717.1 634,592.3 628,430.1 932.9,495.6 851.7,415.8 646.4,165.1 821.2,612.3 669.6,779 745.8,592.9 920.7,625 716.1,346.1 806.4,618.7 939.5,348.1 798.2,635.5 624.9,637.4 733.2,551.3 945.2,467.2 742,625 876.1,590.8 961.1,427.4 766.7,531.6 692.2,565.1 626.8,609.1 828.4,468.9 676.4,707.2 910.4,513.2 721.7,513.5 951,631.7 703.2,607.1 913.9,760.6 755.8,815.6 686,691 695.5,733.1 801.8,553.1 806.2,621.1 941.8,689.3 669.1,617.2 848.9,735.3 762.7,530.7 771.7,688.4 726.6,484.7 783.9,307.5 894.2,657.4 669.9,490.2 770.4,795.6 738.9,535.3 622.7,805.8 697.2,605.3 827.2,765.1 827.8,479.6 769.2,580.9 938.5,404.6 910.1,775.5 927.3,451 658.4,468.2 806.4,737 838.3,718.3 862.9,456.8 787.9,498.9 775.2,470 955.9,634.6 812.3,404.6 630.7,662.9 741.6,519.1 801.2,397.5 684.1,615.5 733.8,708.9 761.4,573.3 646.3,756.3 872.9,585.9 942.1,560.7 934.7,752.7 944.6,597.3 623.2,732.7 636,699 964.3,404.2 920.7,676.9 805.5,504.5 694.1,580.4 952.2,651.6 659.7,502.9 878.4,816.1 723.1,613.5 628.3,473.7 937.5,626 942.5,566.5 884.8,530.1 764.4,352.4 878.8,675.7 752.4,695.9 857.2,434.4 696.1,721.2 955.9,654.1 911.7,666.4 689.5,522.7 667.8,688.2 655.2,294.5 737.2,476 713.8,725.8 679.1,429.7 684.3,380.9 926.1,732.9 910.4,657.3 682.9,671 880.2,540.3 746.9,729.5 669.1,482.3 944.3,528.9 939.4,716.7 890.3,562.3 819.2,641 639.3,471.9 737.3,511.7 709.1,519.4 806.6,535.7 763.9,606.4 689.3,495.1 698.8,681.1 940.9,773.5 678.6,577 911.1,561.5 710.8,624.2 682.3,682.2 920.1,410.5 818.5,500.1 661.3,567.1 820.8,494.3 676.9,633.3 842.4,339.4 857.6,479"/>
<line x1="623.2" x2="967.6" y1="463.4" y2="463.4" stroke="#4C9BE8" stroke-width="6.5" stroke-linecap="round" stroke-opacity=".92"/>
<path class="mP" d="M623.6,777H629.9H643.1H648.7H654H685.9H693.9H726H741.5H754.2H757.7H772.3H775.5H785H789.7H821.5H849.8H851.3H857.9H889.5H904.8H910.1H923.2H925.3H949.5"/>
<path class="mP" d="M628.2,714.2H628.8H629H630.1H630.9H637.5H637.8H639.2H640.5H641.7H644.9H648H656.5H657.4H658H661.2H661.8H662.3H674.3H675.6H676.6H679.9H682.3H689.6H693.5H703.6H704.7H706.8H713.1H723.2H732.7H733.9H734.7H734.9H742.9H747.3H749.8H749.9H750H753H755.4H755.4H762.5H766.8H773.8H774.4H777.9H783H784H785.3H786.2H795.3H795.6H797H799H799.2H799.3H802.5H803.7H805.4H805.8H809.9H813.5H816.6H823.6H829.1H829.2H831.5H831.5H841.6H843.8H853.3H854.1H866.6H869.1H874.5H878.9H882.5H889.4H893.3H894H905.7H906.1H907.1H910.6H914.4H914.5H917H919.1H920.6H922.1H923.9H927H927H928.4H931.1H931.8H935.7H941.1H966.7"/>
<path class="mP" d="M628.4,651.5H630.1H630.3H632.9H633.1H633.8H637.1H637.4H638.1H640.7H641.7H642.3H643.1H644.3H644.4H645.7H646H646.6H647.3H647.7H647.8H648.6H650.4H650.9H652.5H653.5H653.5H654.7H657.3H657.4H658.7H659.2H659.7H661.7H662.2H662.9H665.1H665.2H665.6H665.6H666.1H666.6H666.7H667.3H669.5H669.5H669.9H671.1H672.2H672.5H672.6H673.5H673.9H674.9H675.6H675.9H679.2H679.4H680.1H680.7H682.2H682.8H683H683.4H684.7H685.9H685.9H686.6H687H688.6H688.7H689H690H690.9H692.3H692.7H693H693.6H695.7H700.6H701.1H702.3H702.7H702.8H703.1H703.6H704.2H704.4H705.9H708.6H709.6H709.8H710.7H711.6H715.4H715.8H717.4H720.6H721.7H721.9H723.4H725.6H727.7H727.8H728.1H728.2H730.3H730.5H730.6H733H737.1H737.8H737.9H738.1H738.4H738.5H739.4H740H749.1H749.3H750.2H750.7H752.4H753.9H755.2H755.6H756H756.5H759.5H760.5H761.8H762.4H763H764.6H765.7H765.9H767.3H769.2H771.7H772H777.5H777.9H779.6H780.4H780.7H782H783H783.6H783.7H786H788.1H789.5H790.5H790.9H794H795.9H796.6H798.9H799.4H800.7H801H803.4H803.6H807.8H809H809.6H811.6H812.5H813.2H813.6H814.4H814.7H816.4H816.9H816.9H817.7H819.5H820.1H820.9H821H822H824.1H824.7H826.6H827.5H828.7H829.7H829.8H830.1H830.2H832.1H832.1H832.3H833.3H833.5H833.7H834.7H835.1H836.4H836.9H837.2H837.2H837.3H837.4H837.5H838.7H838.9H839.7H840.7H841H845.5H847.8H854.6H854.8H855.6H859.6H860.3H860.6H862H863.1H863.6H863.9H863.9H864.9H865H866.2H866.4H867.7H868.4H868.7H868.7H869.3H870.2H871.3H872.5H873H873.4H877.4H877.8H878.6H879H880.8H881.2H881.3H882.4H883.9H884.1H885.5H886.3H887.2H887.9H888.3H893.5H893.6H894.1H894.2H897.4H898.4H900.5H900.9H901.2H903.9H904.2H904.2H904.4H906.5H907H907.1H910H910.2H911.1H912.5H913.6H917.1H917.4H918H918.9H919.4H919.4H919.5H919.5H919.6H921.3H922.4H922.6H923.7H925.3H927.1H927.2H927.2H928.1H929.1H929.8H933.5H934H934.5H934.9H935.1H935.2H936H936.4H937.4H938.7H939.7H939.9H940.7H942.9H943.6H944.1H944.2H946.1H946.2H946.2H947H952.4H952.5H954.1H954.2H957.8H958.4H959.5H960.3H962.7H963.5H964.9H965.3H966.1H966.2H967.7H968"/>
<path class="mP" d="M622.9,588.8H623.3H623.4H623.4H623.7H625.1H625.8H626.2H626.5H626.5H627H628.2H628.5H628.8H630.3H630.4H631.3H631.7H632H633.1H633.9H635.1H636.2H638H639.6H640.3H640.8H642.6H643H644.5H645.1H645.8H646.6H647.1H647.7H647.9H649.3H651.5H652.3H652.5H654.3H654.3H657.3H657.5H657.7H658.1H659.5H660.3H661.7H661.8H662.1H662.2H662.5H662.8H662.8H662.9H663.6H664.5H665.4H668.1H668.9H669.3H669.4H669.6H670.2H671.1H671.3H673.2H673.5H674.5H675.9H676H676.6H676.6H677.1H677.6H678.6H679.2H679.6H681.6H682H682.1H682.1H682.4H682.6H683.7H684.9H685.3H685.4H687.7H688H688.9H689H689.2H691.7H692H692.1H692.2H693.2H693.9H695H695.2H695.5H695.8H697.1H698H699.4H702.2H702.4H703.1H703.4H703.6H703.7H705H705.1H708.4H708.5H709.4H709.6H709.9H711.6H712.4H712.5H715.1H715.3H717H719H719.1H719.6H720.2H720.8H721.7H722.1H723H724.3H724.4H725.3H726H726.2H727.2H728.6H729.3H729.5H729.5H729.7H730H730.2H730.9H731.4H731.6H732.5H733H734.3H734.8H735.2H735.3H735.8H736.6H740H740.1H740.4H740.8H742.8H742.8H742.9H744.4H744.4H744.9H746H747.2H747.4H750.3H753.4H754.6H754.9H755H755.2H755.5H757.1H757.2H757.3H757.5H759H760.2H760.8H763.5H764.2H765.8H766.5H767.3H768.5H770H770.2H770.6H770.6H771H771.1H771.7H772H772.4H772.5H772.9H773.4H774.4H774.7H775.1H775.4H775.4H776.1H776.2H776.4H776.4H777.6H777.6H777.8H778.4H778.6H778.6H778.8H779.1H779.3H779.4H779.4H780.9H781.7H783.1H783.9H784H785H785.7H786.3H787H787.4H788.2H788.5H789.1H790.3H791.7H792H792.8H794H794.2H795.5H796H797.4H797.5H798.1H799.1H799.1H799.5H799.5H802.2H802.3H802.6H804.3H805.2H807.1H808.8H810.1H810.7H810.8H812.6H812.6H812.8H814.6H814.9H818.2H818.7H818.7H818.8H820.1H820.8H821.6H822.2H823H823.2H823.3H823.4H823.7H823.7H824.3H824.5H824.9H825.4H825.6H825.7H826H826.7H828.5H831H831.6H831.7H832.1H832.3H832.6H832.8H833.3H835.1H835.2H835.4H835.7H836.1H837.9H837.9H838H838.4H840.4H841.5H842.1H843.2H843.5H844.2H844.8H844.9H845.1H847.6H849.6H849.6H850H852.2H853.3H853.3H855.2H856.2H856.3H856.9H857.2H857.6H860.8H860.8H861.5H862.5H863H863.5H863.5H864.3H864.9H865H865.3H865.3H865.8H865.9H866.1H866.1H867.3H868.5H870H871.3H871.9H872.5H872.8H874.5H875.2H875.7H876.9H878.1H878.3H878.3H878.8H879H880.2H881.9H882.6H883H883.3H883.6H883.7H884.1H884.8H886.7H887.3H887.4H887.6H887.9H888.8H888.8H889H889H889.7H890.2H890.6H890.7H891.4H891.8H891.9H892.1H892.9H894.6H895.1H895.3H895.4H895.5H896.5H897.7H899.4H900H900.4H900.9H901.1H901.2H901.9H902.9H903H903.3H903.9H906.2H906.3H906.4H908.4H909.3H909.5H909.9H910.3H910.4H911.1H911.4H912.7H913.2H913.8H914.7H917.8H918.5H918.6H919.6H920.8H920.9H921H922.5H922.8H924.4H924.4H925.1H925.6H925.7H926.1H926.9H927.4H929H930.5H931.2H931.4H932.7H934.2H934.6H934.7H934.7H937.8H939.8H939.8H942.1H942.7H944.5H945.3H945.4H945.4H945.4H946.4H946.6H946.8H949.4H950.6H950.8H951.2H952H954.2H955.6H956.9H957.2H959.1H960.4H961.1H961.1H961.5H962.2H962.7H963.4H963.7H966.6H967.5H968.2"/>
<path class="mP" d="M622.5,526.1H622.8H622.9H623.4H624.1H624.2H624.8H625.2H625.2H625.3H625.3H625.8H626.7H627.2H627.3H627.4H628.2H629H629.1H629.6H630.1H631.2H631.5H632.2H632.5H632.7H634.2H634.4H634.8H635.2H635.2H635.4H635.9H636.5H636.7H636.7H637H637.3H638.4H640.3H640.5H641.2H641.2H641.4H641.9H642.1H643.2H643.3H644.2H645.1H645.7H645.7H645.7H645.9H646H646.4H646.5H647.9H648.3H650.1H650.1H650.7H652H652H652.6H652.7H653.1H653.2H653.9H654H654.7H654.9H655H655.7H656.6H657.1H657.2H657.4H659H659.1H659.5H659.8H660.1H660.5H660.7H661.4H662H662.6H662.8H663.2H663.3H664.5H664.9H665H666.2H666.3H666.8H667H667.2H667.3H667.7H669.7H669.9H670.1H670.6H670.8H672.2H672.3H672.3H672.7H673H673.1H673.2H674.2H675.4H676H676.5H676.5H677.4H677.8H678.2H678.9H680.5H681.1H682.4H682.9H683H683.3H683.4H684.8H685.4H685.4H685.7H686.6H686.8H686.8H686.9H687.7H687.7H687.7H688H688.3H689.6H690.1H690.8H691.5H692.2H692.3H692.5H693.1H693.2H693.6H694.5H694.7H694.9H695H696.2H696.3H696.3H696.4H696.4H696.7H697.2H697.5H697.7H698.4H698.4H698.5H699.1H700.4H700.6H701.8H702.5H702.8H703.2H703.6H705.6H707.3H707.8H709H710H710.6H710.8H710.9H711.9H712.3H712.5H712.8H713.6H715.3H715.5H715.8H715.8H716.1H717.6H718.1H718.5H720H720.6H720.7H723.8H723.8H723.9H724.2H724.7H724.9H725.9H726.2H726.6H726.8H727H727.1H727.2H727.4H728H728.1H728.8H729.5H729.5H729.8H730.4H730.8H731.1H731.4H731.6H732.2H733.6H733.8H734.2H734.3H734.3H734.4H734.7H735.7H735.7H736.1H736.7H737H737.2H737.2H737.7H739H740.8H741.1H742H742.7H743.1H743.5H744.1H745.2H745.5H745.9H746.4H746.5H746.9H747.2H748H748H749.3H750.6H751.8H751.9H752.2H753.1H754.7H754.8H755.7H755.7H756.1H756.2H758.7H759H760.7H760.8H761.8H762.1H762.6H762.6H763.4H763.7H763.7H763.9H764.2H764.3H764.4H764.8H765.1H766.7H766.7H766.9H767.6H768.3H768.5H768.7H768.7H768.8H768.9H769H769.1H769.1H769.4H769.8H769.9H771.8H772.8H773.2H774.2H774.2H774.6H775.6H776.2H778.1H780.1H780.8H782.9H783.5H783.8H784.4H784.9H784.9H785.8H786.9H787.2H787.3H787.9H788.3H788.7H789H789.2H790.8H791H791.5H791.7H792.1H792.5H792.6H793.9H794H796.6H796.9H797.4H797.7H797.7H797.7H798.2H798.6H799H799.2H799.5H799.6H800.9H801.1H801.3H802.2H802.2H802.4H802.7H802.9H803.5H803.5H803.8H804.1H804.2H804.3H805.3H805.5H805.8H806.5H806.9H807.4H808.9H809H809.8H810.2H810.6H811.7H812H812.1H812.7H812.7H814.7H815H815H815.8H815.8H816.5H816.8H816.8H817.3H817.9H818.2H820.2H820.4H820.5H820.7H821.4H822H822.1H822.7H823.4H824.3H824.5H824.6H825H826.5H826.7H827.3H827.4H827.6H827.9H828.7H829.9H830.2H830.7H832.2H832.4H833.9H834.9H834.9H835.2H836.3H836.7H837.1H838.6H838.9H839.6H839.7H840.7H840.9H841.6H842.2H842.8H843H843.4H843.6H843.9H843.9H844.1H844.1H844.5H844.7H845.3H848.1H848.4H848.8H849H849.3H849.3H849.9H850H851.2H852.3H852.8H853.3H854H854.2H854.2H854.2H854.4H854.5H854.8H855.3H855.5H855.8H855.8H856H856H856.8H857.5H857.9H858.3H859.6H859.9H860H860.5H861H863.4H863.9H864.1H864.8H865.1H866.9H866.9H867.6H868.5H869.3H870.1H870.4H870.5H870.6H870.7H870.7H870.8H871.1H871.5H872.2H872.2H872.5H872.9H873.8H874H874.6H875.5H875.6H875.7H876.4H877.1H877.2H877.9H878.7H878.9H879.3H879.7H879.8H880H880.1H880.2H880.5H880.9H881.8H882.7H883H883H883.2H883.2H883.4H883.5H883.8H884.2H885H885.2H885.2H885.2H887.2H887.7H887.7H887.8H888.1H888.4H888.8H889.1H890.9H891.3H891.7H892H892.4H892.6H892.6H893.9H894.1H895.7H896H896.1H896.9H897.4H897.7H897.8H898.4H898.7H899.6H900.1H900.1H900.4H900.7H901.2H901.8H902H902.6H903.5H903.7H903.8H904.6H905.1H905.9H906.4H906.9H907.2H907.4H907.8H908.1H910.3H910.7H911.3H911.6H912.3H912.8H913.3H913.7H913.9H914H914.6H914.9H915.2H915.8H916.1H916.2H916.6H917.9H918.6H919.4H919.7H919.7H919.8H921.1H921.4H921.8H922.5H922.9H923.3H923.5H924.1H924.3H925.8H925.9H926.6H927.1H927.1H927.3H927.5H928.2H928.6H928.7H930.1H930.9H931.7H932.7H932.7H934.2H934.3H934.3H934.7H935H935.2H935.3H935.4H936.7H936.8H937.9H938.3H939.1H940.9H941.1H941.7H941.9H942.8H943.7H944.2H944.7H945.5H946H946.9H948.9H949H949.4H949.7H950.1H950.3H951H951.4H952.7H953.2H953.3H953.9H954.3H954.7H955.5H956H956.2H956.6H957.1H957.2H957.5H958.3H958.5H959.7H960.5H961.4H961.8H961.8H962H962H962.1H962.2H962.2H962.2H962.3H962.3H962.9H963H963.3H963.6H964.6H965H965.5H965.7H965.7H968.1H968.2H968.4H968.4"/>
<path class="mP" d="M622.9,463.4H623.4H623.5H623.9H623.9H624.1H624.1H624.3H624.6H624.6H625.2H625.3H625.6H625.9H625.9H626H626H626.9H627.2H627.4H627.4H628H628.7H628.7H628.8H629H629.8H629.9H630.1H630.4H630.8H631.2H631.2H631.5H631.6H632.1H632.2H632.7H632.7H632.8H632.9H633.8H634.2H634.3H634.4H634.9H635H635.1H635.2H635.3H635.4H636.1H636.8H636.8H637.5H637.5H637.8H637.8H638H638.4H638.6H638.8H638.8H638.9H639.1H639.2H639.3H639.5H639.7H639.8H640.4H640.4H640.5H640.6H640.7H640.8H640.8H641H641H641.1H641.2H641.8H642.2H642.2H642.5H642.6H642.6H642.7H642.8H643.1H643.3H643.6H643.9H644.4H645H645.3H645.5H645.6H645.7H645.8H646H646.2H647.8H647.9H648H648.3H648.4H648.6H648.9H649H649.5H650H650.1H650.4H650.6H651.5H652H653.1H653.3H653.4H653.9H654.2H654.3H654.5H654.6H654.9H654.9H655H655.1H655.4H655.5H655.6H655.7H655.7H655.7H655.7H655.8H655.9H656H656.1H656.1H656.2H657.5H657.7H658H658.1H658.2H658.4H658.7H658.9H658.9H659H659H659.6H659.6H659.6H660H660H660.2H660.6H660.8H661.3H661.5H661.5H661.6H661.7H662.2H662.5H662.8H663H663.3H664.1H664.6H664.7H664.9H665.1H665.2H665.3H665.7H666H666H666.1H666.1H666.2H666.3H666.6H668H668.4H668.5H668.6H668.8H669.1H669.5H669.9H670.3H670.4H670.7H670.7H670.8H672H672.3H672.3H672.4H672.5H672.5H672.6H672.9H672.9H673.5H674.2H674.3H674.8H675.2H675.2H676.7H676.8H677.2H677.3H677.4H677.7H677.9H678.4H678.5H678.6H678.7H678.9H679.7H679.7H680H680H680.2H680.4H680.8H681.7H682.3H682.4H682.6H683.6H683.6H684.4H684.6H684.7H684.9H685.7H685.9H686.3H686.8H687H687.2H687.7H687.7H687.8H688H688.2H688.3H688.3H688.5H688.6H688.9H689H689.3H689.9H689.9H690.6H690.6H691H691H691H691H691.3H691.3H691.9H692H692.1H692.4H692.6H692.6H693.1H693.2H693.2H693.4H693.8H693.9H694H694.2H694.3H694.5H694.6H694.6H695.2H695.4H695.5H696.3H696.4H696.9H697.1H697.3H697.8H698.1H698.2H698.3H698.4H698.4H698.5H699H699H699.2H699.2H699.3H699.5H699.5H699.6H699.7H699.8H699.8H700.2H700.2H700.5H700.5H700.7H700.9H701H701.3H701.6H701.7H701.9H702.2H702.7H702.7H702.9H703H703.2H703.7H703.8H704.3H706H706H706.1H706.1H706.3H706.5H706.8H707.2H707.4H707.6H707.9H708H708.1H708.2H709.6H709.7H710.3H710.9H711.1H711.1H711.2H711.4H711.5H711.5H712.2H712.2H713H713.4H713.9H714.1H714.3H714.5H714.9H715.1H715.1H715.3H715.4H715.5H715.9H716.3H716.4H716.6H716.7H716.7H717.3H717.3H717.5H717.6H718.1H718.2H718.3H718.4H718.8H718.8H719.4H719.4H719.7H719.7H719.7H720.1H720.2H721H721H721.3H721.4H721.4H721.5H722H722.4H722.5H722.8H723H724.3H724.8H724.9H725.6H726.2H726.3H726.4H727H727.1H727.4H727.4H727.4H728H728.5H728.9H729H729.2H729.2H729.6H729.8H729.9H730.1H730.2H730.4H730.4H730.6H730.8H730.9H731.1H731.2H731.7H732.3H732.4H732.5H732.6H732.8H732.8H733.2H733.3H733.3H733.6H733.6H733.8H733.9H734H734H734H734H734.4H734.5H735.3H735.5H736H736.1H736.3H736.5H736.6H737H737.2H737.3H737.4H737.8H738.2H738.2H738.3H738.4H738.6H738.9H739.5H739.6H739.7H740.1H740.1H740.1H740.2H740.3H740.5H741H741.5H741.9H742.3H742.3H743.1H743.1H743.2H743.5H744.2H744.5H744.8H745H745.1H745.6H745.7H745.8H746.1H746.2H747.3H747.3H747.4H748H748.2H748.8H748.8H748.9H749.5H749.6H749.8H750.3H750.5H750.6H750.6H750.9H751H751.1H751.3H751.3H751.4H751.9H752.8H752.8H753.3H753.8H753.9H754H754.1H754.2H754.5H754.7H754.7H755.1H756.1H756.2H756.4H756.7H758.7H759H759H759.2H759.3H759.5H759.6H760.4H760.5H760.8H761H761H761H761.8H762H762H762.8H763.1H763.3H763.4H763.5H763.6H763.7H764.2H765H765.5H765.9H765.9H766.1H766.2H766.6H766.7H766.7H766.8H766.9H767H767H767.3H767.7H767.8H768H768.1H768.3H768.6H769H769.2H769.3H769.6H769.8H770.1H770.1H770.4H770.4H771.4H771.7H772.3H772.5H772.6H773.6H773.6H773.7H773.9H774.3H774.7H775H775.2H775.5H775.5H775.6H775.6H775.7H775.8H775.9H775.9H775.9H776.1H776.4H776.6H776.7H776.8H777.3H777.4H777.4H777.6H778.3H778.3H779.4H779.5H779.5H780H780H780.6H780.9H781.2H781.5H781.7H782H782H782.2H782.3H782.4H782.6H782.8H782.9H783.1H783.2H783.3H783.8H784.2H784.5H784.6H784.7H785.1H785.3H785.4H785.5H785.8H785.8H785.8H786H786.3H787H787.5H787.8H787.8H788.1H788.1H788.3H788.7H789.3H789.5H789.6H789.6H789.9H790.2H790.2H790.3H791H791.1H791.1H791.2H791.2H791.3H791.6H792.7H792.7H792.8H793.6H794.1H794.1H794.7H795.6H796H796.3H797H797.3H797.5H797.6H798.1H798.3H798.4H798.5H798.9H799.1H799.3H799.6H800.3H801.6H801.7H801.8H802.2H802.4H802.6H802.6H802.7H802.9H802.9H803H803.2H803.4H804.6H804.6H804.8H805H805.3H805.5H805.6H806.3H806.3H806.8H807H807.5H807.6H807.7H808.1H808.3H808.4H808.8H808.8H809.2H809.4H809.7H809.7H809.9H809.9H810H810.6H810.7H810.7H810.9H810.9H811.2H811.2H811.5H812.3H812.3H812.6H813H813H813.1H813.5H813.7H813.9H814.5H814.7H815.2H815.4H815.4H815.6H816.1H816.2H816.8H816.9H816.9H816.9H817.2H817.2H817.3H817.7H817.8H817.8H818H818.1H818.3H818.4H818.5H819.3H819.3H819.7H819.8H819.9H820.4H820.5H820.6H820.7H820.7H821H821.1H821.1H821.2H821.2H822.1H822.2H822.4H822.5H822.7H823.1H823.1H823.2H823.4H823.5H824H824.3H824.4H824.6H824.6H824.9H825.1H826H826.1H826.2H826.3H827.1H827.3H827.4H827.4H827.5H827.8H827.9H827.9H828H828.8H828.9H829.2H829.2H829.2H829.3H829.3H829.5H829.9H830H830.1H830.5H830.6H830.9H831.1H831.9H832.1H832.5H832.5H832.6H832.7H832.9H832.9H833H833.2H833.5H833.5H833.6H833.6H834.2H834.3H834.5H834.8H834.9H836.2H836.2H836.4H837H837.8H838H838.2H838.2H838.3H838.4H838.6H838.6H839.3H839.5H839.6H840H840H840H840H840.2H840.7H840.8H841.1H841.5H841.8H842H842H842.8H843H843.2H843.4H845.4H846.1H846.5H846.8H847.2H847.5H847.8H847.8H848H848.2H848.2H848.5H848.5H848.6H848.6H849.3H849.4H849.9H849.9H849.9H850H850.3H850.6H850.7H851.3H851.4H851.7H851.8H852.1H852.3H853.1H853.2H853.4H853.5H853.8H854.5H854.6H854.7H855.2H855.6H855.9H856.2H856.3H856.6H857.1H857.3H857.3H857.3H858.2H858.4H858.9H859.1H859.1H859.3H859.3H859.6H859.9H860H860.3H860.5H861.1H861.2H861.4H861.6H862.5H862.5H863.2H863.5H863.6H863.9H864.1H864.3H864.8H865.4H865.5H866.2H866.2H866.5H866.6H866.6H866.9H867H867H867.1H867.2H867.3H867.3H867.3H867.4H867.6H867.9H868.1H868.3H868.4H868.7H868.7H869H869.1H869.2H869.8H869.8H870H870H870H870.1H870.7H870.8H870.9H871.7H871.9H871.9H872H872.2H872.4H872.4H872.7H873.2H873.2H873.3H873.4H873.9H874.1H875.2H875.3H875.9H875.9H876.1H876.4H877.5H878H878.3H878.6H878.7H878.8H879.4H879.7H879.7H880.9H880.9H881H881H881.2H881.5H881.8H881.8H882.6H883H883.7H883.8H884.8H885.1H885.2H885.4H885.5H885.7H886H886.1H886.3H886.3H886.4H886.5H886.7H886.7H887H887.2H887.3H887.4H887.4H888.2H888.3H888.5H888.9H888.9H889H889H889.1H889.2H889.2H889.2H889.2H889.6H889.6H889.8H890.2H890.2H890.2H890.3H890.7H890.8H891.1H891.1H891.2H891.3H891.3H891.8H892.2H892.5H893H893.4H893.5H894.2H894.9H895.3H895.8H896H896H896H896.1H896.1H896.2H896.3H896.8H896.9H896.9H897.4H897.6H897.8H898.3H898.4H898.6H898.9H899H899.2H899.2H899.5H899.5H899.5H899.6H899.8H900.3H900.3H900.5H901.1H901.4H901.8H901.9H902H902.7H903.3H903.3H903.7H903.7H903.9H904H904.1H904.7H905.1H905.4H906.2H906.6H906.6H908H908.5H909.6H909.7H910.1H910.4H910.8H911.1H911.1H911.2H911.3H911.6H912.1H912.1H912.2H912.4H913.2H913.2H913.5H913.8H913.8H914.2H914.4H914.6H914.6H914.7H914.7H914.8H914.8H915H915.2H915.3H915.8H915.8H915.9H916.1H916.2H916.7H916.8H917H917.7H918H918.2H919.1H919.6H919.9H920H920.7H921.2H921.4H921.6H921.7H921.8H922.3H922.6H922.6H923H923.2H923.4H923.6H923.8H924.6H924.7H924.7H925.1H925.3H925.3H925.3H925.3H925.4H925.9H926.5H926.8H926.8H927H927H927.1H927.3H927.6H928H928H928.3H928.3H928.5H928.6H928.8H929.2H929.2H929.4H929.5H929.6H929.7H930.5H930.6H930.6H930.6H930.7H930.8H931H931.1H931.3H931.4H931.5H931.8H932.3H932.6H932.9H933.6H933.6H934.8H935.1H935.3H935.8H936.1H936.5H936.5H936.6H936.9H937.5H938.3H938.3H938.4H938.4H938.7H939.5H940.1H940.5H941.1H941.2H941.3H941.5H942.1H942.1H942.2H942.4H942.4H942.7H943H943.8H943.9H944H944.2H944.5H944.7H944.9H944.9H944.9H945.4H945.6H945.8H946.1H946.1H946.1H946.4H946.4H946.8H947H947.1H947.2H947.6H947.6H947.6H947.9H947.9H948H948.6H948.8H948.8H949.2H949.6H949.7H950.1H950.3H950.4H950.7H950.8H950.9H951.3H951.5H951.5H951.5H951.6H951.7H951.8H951.9H951.9H952.2H952.5H952.6H952.9H953.5H953.6H953.9H954.1H954.8H955H955.2H955.3H955.5H955.7H955.7H955.8H956H956.7H957H957H957H957.2H957.4H957.5H958H958.2H958.2H958.3H958.4H958.4H958.6H958.9H959.3H959.9H960H960.8H960.9H960.9H961.3H961.3H961.7H962.6H962.6H962.8H962.9H963H963.2H963.6H964.2H964.9H964.9H965.1H965.4H965.4H965.6H965.7H965.7H966H966.2H966.3H966.7H966.8H966.8H967.3H967.5H968.3"/>
<path class="mP" d="M622.4,400.7H622.5H622.9H623.3H623.5H623.6H623.8H624.7H626H626H626.7H627.5H627.8H628.1H628.6H628.6H628.7H629H629.8H630.2H630.3H630.3H630.9H630.9H632.3H633.2H633.3H633.3H633.4H633.4H633.6H634H634.6H635H635.6H635.6H635.7H635.9H636.3H637H637.1H637.5H638H638.3H638.5H639.1H639.5H639.7H639.7H639.8H639.8H639.9H640.3H640.5H640.5H640.7H640.9H641.3H641.8H642H642H642.3H642.3H642.4H642.7H643.9H644.6H644.8H644.9H645H645.8H645.8H646H646.1H646.2H646.7H646.7H646.8H647H647.3H647.5H647.5H647.8H648.5H649H649.9H650.1H650.6H651H651.8H652.4H652.6H652.7H653H653.1H654H654.5H654.8H655.4H655.6H656H656H656.2H656.2H656.5H656.7H656.8H657.1H657.1H657.4H657.6H657.7H658.5H658.7H659.2H659.2H659.7H660.1H660.7H660.9H661H661.1H662.1H662.2H662.4H663.4H663.5H663.5H664.2H664.5H664.5H665.2H665.7H666.1H666.2H666.6H666.9H667.4H668.2H668.5H668.6H668.8H669H669.7H670.7H672H672.1H672.4H672.7H672.8H673H673.3H673.4H673.9H674H674.3H674.4H674.7H676H676.6H677.1H677.3H677.6H677.6H678.9H679H679.2H679.7H679.8H680.1H680.7H680.9H680.9H681.3H681.7H681.8H682H682.1H683H683H683.3H684H684.7H685.1H685.3H686.4H686.4H687.2H688H688H688.4H689.2H689.4H689.5H689.7H690.1H691.2H691.6H691.9H692.3H692.6H692.7H693.2H694.2H694.5H695.8H695.9H696.4H696.4H697H697.5H697.7H697.8H699H699.2H699.4H699.7H699.9H700.1H700.7H700.8H701.2H701.2H701.3H701.3H701.4H701.5H703.1H703.5H703.5H705H705.2H705.3H705.4H705.5H705.7H706.3H707.1H707.6H707.6H708H708H708.1H708.5H709H709H709.1H709.7H709.9H710H710.1H710.2H710.3H710.6H711H711.7H712.2H713.2H713.8H713.8H714H714.6H715.3H715.3H715.7H716.1H716.6H716.9H717.1H717.5H717.6H717.7H717.9H718.5H718.5H718.5H718.7H719.2H719.2H719.3H720H720.7H721.2H721.5H721.6H721.9H721.9H722.1H722.3H722.7H723.8H724.7H725H725.6H726.5H727H727H727.1H727.3H727.7H728H728.2H728.7H729.2H729.7H729.8H729.9H729.9H730.2H730.4H731.1H731.1H731.5H731.6H731.7H731.9H732.4H733H733.3H733.9H734.1H734.2H734.9H735.3H736.7H736.9H738.3H738.6H738.7H739H739.2H739.4H739.5H739.5H739.6H740.3H740.7H741.2H741.6H742.1H742.1H742.4H742.8H743.3H744.3H744.4H744.6H744.8H745.1H745.4H745.5H746H746.8H747.2H747.8H748.1H749.5H749.6H750.3H750.8H751.4H752.3H752.9H752.9H753H753.5H754.4H754.4H754.8H755H755H755H755.2H755.4H756H756.3H756.3H757.1H757.4H757.7H757.9H758.2H758.7H758.8H758.9H759.3H759.8H759.8H760H760.4H760.6H760.6H761H761.2H762.7H763H763.2H763.6H764.1H765.4H765.8H766.2H766.6H766.8H767.2H767.3H767.3H767.4H767.6H768.2H768.4H768.7H768.9H770H770H770.2H771H771.2H771.3H771.4H771.7H771.8H772.1H772.2H772.2H772.5H772.6H773.7H774.1H774.2H774.6H774.8H775.4H775.6H775.8H776H776.2H776.2H776.6H776.7H776.7H776.9H777.5H777.8H777.8H777.9H778.1H779H779.3H779.4H779.6H780.3H780.6H780.7H780.8H781H781H781.2H781.2H781.6H781.7H782.7H782.7H782.7H783.4H785H785.9H785.9H787.7H788.3H788.8H789.1H789.3H789.4H790.1H790.2H790.7H791.3H791.7H792.8H792.8H793.3H794.6H795.4H795.7H796H796.1H796.3H796.8H796.9H796.9H796.9H797.1H797.1H797.6H797.7H798.4H799.4H799.4H799.6H800H800.1H800.3H800.3H800.5H800.7H800.8H801.2H801.2H801.5H801.6H801.7H802.8H802.9H803.2H803.2H803.5H803.6H803.8H804.5H804.6H804.6H804.9H805H805H805.4H805.5H805.6H805.6H805.7H806H806H806.8H807.4H807.4H807.7H807.9H808.2H808.4H808.6H808.8H809.1H809.6H810.1H810.1H810.3H810.7H812.8H812.8H813H813.4H813.6H814H814.3H815.8H816.3H816.8H817.5H818.2H818.2H818.5H819.2H819.2H819.3H819.6H819.8H820.5H820.5H821H821H821.4H822.1H822.5H824.3H824.8H825H825.2H825.5H826.2H826.5H827.1H827.4H830H830.1H831.1H831.6H831.8H831.8H832.1H832.5H833.5H834H834.2H834.4H835.4H835.7H836.4H836.6H836.7H836.7H837.3H837.4H837.9H838.1H838.3H838.4H838.8H839.2H839.3H840H840.3H840.4H840.4H840.8H841.3H842H842.4H843H843.4H844.5H844.7H844.7H844.7H844.7H844.7H844.9H845.1H845.6H845.6H845.7H845.7H846.3H848H848.3H848.4H848.9H849H849H849H849.9H850H850H850.8H850.9H851H851.1H851.2H851.4H852.2H852.9H853.2H853.3H854H854.1H854.3H854.4H854.8H854.8H855.2H855.4H856H856.2H856.3H857.2H858H858.2H858.3H859.1H859.3H859.8H860.1H860.1H860.3H861.1H861.2H861.4H861.6H861.7H861.7H861.7H862.2H862.8H863.6H863.8H864H864.6H865.5H865.8H867H867H867.6H868H868.2H868.7H869.1H869.5H870.5H871.2H871.6H871.9H871.9H872.7H873.9H874.2H874.5H874.6H874.7H874.7H875.5H875.5H875.5H876.3H876.6H876.6H877.2H877.4H877.5H878.4H878.5H878.7H879H879.1H879.5H879.6H879.8H880.6H881.3H881.8H882H882.2H882.8H883.7H884.2H884.6H885.5H885.5H886.2H886.8H887H887.1H887.3H887.3H887.6H887.9H888.5H888.7H888.8H889.4H889.5H890.3H892.1H892.4H892.8H893.8H894H894H894.5H894.5H894.8H895H895.2H895.3H895.4H895.6H895.8H896H896H897.6H897.8H898H898H898.9H899H899H899.3H900.2H900.2H900.4H900.4H900.4H900.5H900.6H900.7H900.8H901.4H901.4H901.8H902.6H903H903.2H904H904H904.5H904.5H905.1H905.1H905.2H905.6H905.7H906.7H906.9H907.4H907.4H907.6H907.7H907.8H908.2H908.4H908.4H908.6H908.9H909.1H909.2H909.5H909.6H909.6H909.6H910.4H910.9H910.9H911.3H912.3H912.5H912.9H913.4H914H914.4H914.6H915.1H915.2H915.3H915.5H915.8H916.2H916.4H916.4H916.5H916.6H916.6H917.1H917.2H917.3H917.3H917.4H918.2H918.8H918.9H919.1H919.6H919.8H919.9H920.3H920.4H920.4H920.5H920.9H921.3H921.5H922H922.3H922.8H923.3H923.5H923.7H924.1H924.1H924.5H924.6H924.7H925.4H925.7H925.9H928H928H928.1H928.1H929H929H929.1H929.2H929.2H929.4H929.7H930.2H931.2H931.5H931.6H931.7H933.5H933.8H934.4H934.4H935.3H935.9H936.4H936.9H937.3H937.7H937.8H938.6H938.7H938.9H939H939H939.4H939.5H939.6H939.9H940.2H940.6H940.8H941.3H942.8H943.1H943.4H944.1H944.2H944.5H944.9H945H945.3H945.8H946.2H946.4H946.4H946.4H946.9H947H947.1H947.2H947.3H947.3H947.7H947.8H947.8H947.9H948.9H949.2H949.5H949.7H949.7H949.8H949.9H950.3H950.4H950.5H951H951.6H951.8H951.9H951.9H952.1H953.2H953.2H953.7H954.1H954.7H954.7H955.1H955.1H955.2H955.2H955.4H955.5H955.6H956.7H956.8H957.8H958.3H958.4H959.3H959.3H959.5H959.9H960.1H960.2H960.3H960.7H961.5H961.6H961.9H962H962.1H962.6H962.6H964H964.1H964.1H964.3H964.5H964.6H966.1H966.2H966.7H966.7H966.8H967H967.3H967.7H968.3"/>
<path class="mP" d="M622.3,338H623H623.4H623.9H624H624.2H624.5H625H625.2H625.3H625.8H625.8H625.9H625.9H626.1H626.5H626.6H627.5H627.6H627.7H628H628.1H628.2H628.4H628.7H629.1H629.5H629.6H629.7H630.1H630.2H630.7H631.9H632.7H632.8H633.5H633.7H633.8H633.9H634.2H634.6H634.6H634.6H634.8H635H635H635.1H635.4H635.4H635.7H635.7H635.8H635.9H636.1H636.1H636.2H636.2H636.2H636.2H637.4H637.8H638H638.8H638.9H639H639.1H639.8H640H640.2H640.2H640.9H640.9H641.6H641.7H641.8H642.8H643.2H643.5H643.7H643.8H644.6H645.1H645.2H645.3H645.8H645.8H646.1H646.5H646.9H646.9H647H647.1H647.2H647.4H647.5H648.2H648.5H648.8H649.1H649.3H649.5H649.6H649.9H650.2H650.2H650.4H650.7H651.1H651.3H651.4H651.6H651.7H651.9H652H652.1H652.6H652.7H652.8H653.2H653.5H653.7H654.1H654.2H654.2H654.3H654.3H654.4H654.8H655.1H655.5H655.6H655.8H655.9H656H657.2H657.4H657.4H657.5H657.7H657.9H658.4H658.4H658.6H658.7H658.9H658.9H659.1H659.2H659.4H659.6H659.7H659.7H659.8H659.8H659.8H660.5H660.7H660.8H660.8H661H661.1H661.1H661.4H661.5H661.6H662H662.1H662.2H662.6H662.6H663H663.1H663.2H663.3H663.4H664H664.4H664.6H664.7H664.8H665.2H665.5H665.6H665.9H666H666.2H666.3H666.3H666.4H666.9H667.2H667.2H667.3H667.3H667.6H667.6H667.8H668.2H668.5H668.7H669.4H669.5H669.6H670.2H670.2H670.6H671H671.2H671.2H671.8H671.8H671.8H671.8H671.8H672H672H672.3H672.3H672.5H673H673.1H673.2H673.2H673.4H673.5H674.1H674.2H674.8H675.4H675.6H676.1H676.3H676.5H676.6H676.7H677.1H677.8H678.1H679.4H679.9H679.9H680.5H680.9H681.3H681.4H681.8H681.8H682H682H682.3H683H683.2H683.2H683.4H683.5H683.5H683.7H683.9H684.1H684.4H684.7H684.8H684.9H685.2H685.2H685.3H685.3H685.4H685.6H686.3H686.4H686.5H686.7H686.9H687.3H687.3H687.5H687.8H687.8H688.1H688.2H688.3H688.7H688.7H689.3H689.4H689.6H689.8H690.4H690.4H690.6H690.6H690.8H690.8H691H691H691.1H691.5H691.9H692H692.3H693H693H693.1H693.2H693.6H693.9H694.1H694.1H694.2H694.4H694.4H694.5H694.7H695.5H695.7H696.1H696.3H696.5H696.5H696.7H696.9H696.9H697.1H697.3H697.3H697.5H697.9H698.3H698.4H698.7H699.1H700.3H700.5H700.5H700.8H700.9H700.9H701H701.1H701.2H701.6H702H702.1H702.3H702.4H703H703H703.3H703.4H704.4H704.6H704.7H704.9H705.3H705.8H705.8H706H706.1H706.2H706.3H706.6H707.3H707.7H707.9H708H708.6H708.8H708.8H709H709.2H709.2H709.5H710.4H710.5H711.5H712.3H712.8H713.2H713.5H713.7H714H714.8H715H715.3H715.6H716.1H716.6H717.2H717.4H717.6H717.6H717.8H718H718.4H718.5H720.4H720.7H720.7H720.8H720.9H721.1H721.4H721.6H722H722.2H722.8H723.4H723.7H723.8H724.1H724.1H724.6H724.8H725H725.2H726.2H726.5H726.9H726.9H727.2H727.3H727.9H728.1H728.6H728.7H728.9H729.1H729.5H729.7H729.8H729.9H730.5H730.5H730.9H730.9H731H731.2H731.4H731.8H731.9H732.2H732.3H733.3H733.4H733.5H733.8H734H734.3H734.4H734.4H734.5H734.6H734.6H735.1H735.6H735.7H736.1H736.3H736.4H736.8H737.1H737.4H737.5H737.8H738.2H738.6H738.8H739.3H739.3H740H740.3H740.4H740.5H740.7H741.2H741.6H741.7H741.7H741.8H742.6H742.6H742.7H743H743.1H743.2H743.2H743.9H744H744.2H744.3H744.5H744.7H744.8H745.2H745.4H746.1H746.1H746.2H746.8H746.9H747.2H747.3H747.5H747.9H748H748.6H748.6H748.6H748.8H749H749.5H749.5H750.1H750.7H750.9H751.1H751.2H752.2H752.4H752.7H752.8H753H753.5H753.8H754.7H754.8H755H755H755.1H755.6H756H756.2H756.3H756.5H756.8H757.2H757.3H758H758.1H758.1H758.4H758.5H758.9H758.9H759.1H760.1H760.2H760.4H760.5H761.3H761.5H761.7H761.9H762H762.1H762.5H763.7H763.7H764.2H764.5H764.7H764.8H764.9H765H765.2H765.4H765.8H766H766H766.1H766.2H766.4H766.8H766.8H767.3H767.3H768.2H768.3H768.4H768.5H768.7H768.7H769.3H769.4H769.6H769.9H770.2H770.7H770.8H770.9H770.9H771H771.3H771.4H771.9H771.9H772.7H773H773.3H773.4H773.6H773.9H774.1H774.1H774.1H774.3H774.4H774.6H774.9H775.2H775.7H775.9H775.9H776.2H777.2H777.3H777.5H777.7H777.7H778.2H778.3H778.6H778.6H778.8H779.3H779.5H779.6H779.8H780.1H780.1H781.4H781.7H781.8H781.9H782.2H782.3H782.4H782.5H782.6H782.9H782.9H783.2H783.2H783.6H784H784H784.1H784.7H784.7H785.1H785.2H785.3H785.3H786.4H786.5H786.5H786.6H786.8H787H787.5H787.8H788.1H788.1H788.9H789.1H789.1H789.6H789.8H789.9H790.1H790.4H790.4H790.5H790.5H790.5H790.6H791H791.1H791.2H791.9H792.4H793H794.8H795.3H795.5H795.5H795.6H795.9H796.9H796.9H797.1H797.1H797.2H798.3H798.4H798.6H798.8H799H799.2H799.3H799.5H799.6H799.7H799.9H800H800.2H800.9H801H801.1H801.1H802.1H802.4H802.9H803.4H803.8H804.1H804.5H805.6H805.7H806.5H806.6H806.7H806.9H807.1H807.3H807.3H807.4H807.5H807.6H807.6H807.7H807.8H807.9H807.9H808H808.1H808.4H808.5H808.5H808.7H809H809H809.3H809.4H809.5H809.8H809.8H809.8H810H810.4H810.5H810.6H810.6H810.9H811H811.3H812H812.4H812.8H812.8H812.9H813.3H813.5H813.7H813.7H813.8H814.4H815H815.1H815.3H815.3H815.5H816.2H816.3H817.1H817.2H817.4H817.8H818.2H818.6H818.6H818.8H818.9H819.1H819.1H819.2H819.4H819.4H819.5H819.5H819.6H820.1H820.6H820.7H821H821.2H821.3H821.3H821.5H821.7H821.8H822H822H822.5H822.9H823.1H823.3H823.3H823.3H823.8H824.8H824.8H825.1H825.5H825.9H826H826.3H826.5H826.7H826.8H826.9H827H827.1H827.8H828H828.4H828.6H828.7H828.7H828.8H829H830.1H830.3H830.8H831.5H831.7H831.7H831.8H831.8H832H832.1H832.2H832.4H832.8H832.9H833.1H833.2H833.6H834.9H834.9H835.3H835.3H835.4H835.5H835.5H836.2H836.6H836.6H836.8H836.8H837.2H837.6H838H838.1H838.2H838.3H838.8H839H839.1H839.7H839.8H840.6H841H841.2H841.5H841.7H842.1H842.4H842.4H842.4H842.6H843H843H843.2H843.2H843.4H843.6H843.7H844.1H844.2H844.4H844.8H844.9H845.3H845.3H845.4H845.5H846.7H846.8H847.1H847.3H847.4H847.6H847.7H848.1H848.2H848.3H848.3H848.3H848.4H848.4H848.6H849H849.2H849.9H850H850.1H850.2H850.3H850.8H850.8H850.9H850.9H851H851.7H851.8H853.1H853.3H853.9H854H854.3H854.7H854.8H854.8H855.4H855.7H855.8H856.1H856.4H856.6H856.7H856.7H857H857.1H857.6H857.9H857.9H857.9H858.3H858.3H858.6H859H859H859.2H859.5H859.6H860.2H860.7H860.9H861H861.2H861.2H861.6H861.6H862.2H862.3H863.4H863.6H863.7H864.2H864.3H864.3H864.4H865.4H865.5H865.5H865.7H865.8H866H866.5H866.5H866.7H866.8H866.8H867.2H867.3H867.5H867.9H868H868.1H868.3H868.4H869.1H869.5H870.1H870.1H870.3H871H871.2H871.3H871.7H872H872.4H872.5H872.6H872.8H873.1H873.4H873.6H874.5H874.8H874.8H875H875.3H875.9H876H876.5H877.4H877.4H877.9H878H878.2H878.2H878.7H879H879H879.1H879.3H879.3H879.8H880H880.1H880.1H880.4H880.4H880.5H880.6H880.7H880.7H880.8H880.9H881.2H881.4H881.5H881.5H882H882.1H882.1H882.1H882.2H883.2H883.2H883.4H883.5H883.6H884H884.4H884.6H884.8H884.9H885.3H885.6H885.8H885.9H885.9H886.6H886.7H887.2H887.2H887.2H887.2H887.4H887.5H887.5H887.5H888.1H888.3H888.5H888.5H888.6H888.7H889H889.4H890H890.1H890.1H890.8H891.1H891.3H891.3H891.7H891.8H892H892.1H892.1H892.3H892.4H892.8H892.9H893.1H893.1H893.3H893.8H894.2H894.7H895H895H895.7H895.8H895.8H895.9H896H896.2H896.4H896.6H896.7H897.1H897.1H897.4H897.7H897.8H898H899.4H899.7H900H900H900.4H900.5H900.6H900.9H901.1H901.2H901.4H901.5H902.3H902.7H903H903.5H904.1H904.4H904.6H904.7H904.9H905.3H905.6H905.6H906.3H906.4H906.7H907.3H907.4H907.9H908H908.2H908.2H908.5H908.6H908.8H909.4H909.5H909.7H910H910.2H910.5H910.6H910.7H910.7H911.1H911.3H911.4H911.7H912H912.5H912.5H912.9H913.3H913.5H913.5H914.1H914.6H914.7H914.7H914.7H915.1H915.2H915.2H916H916.7H916.7H917.1H917.4H917.4H917.8H917.9H917.9H918.4H918.7H918.7H918.8H918.9H919.3H919.7H920.1H920.2H920.2H920.4H920.6H920.7H920.7H920.7H920.9H921.4H921.5H921.9H922.2H922.6H922.7H922.8H923.3H923.5H923.8H924H924.2H924.4H924.9H924.9H924.9H925.5H925.5H925.7H925.7H925.8H925.8H925.9H926.1H926.8H927.9H928H928.1H928.7H928.7H929H929.2H929.8H929.8H930.4H930.6H931.5H931.6H931.9H932H932.4H932.5H932.8H933H933.1H933.2H933.4H933.8H933.8H934H934.2H934.5H935.5H935.6H935.6H936.1H936.2H936.4H936.4H937H937.3H937.7H937.8H937.8H937.9H938H938.2H938.3H938.5H938.9H939.1H939.3H939.3H939.4H940.1H940.5H940.6H940.7H940.8H940.8H940.8H941.5H941.6H941.7H942H942.1H942.1H942.2H942.9H943.3H943.5H943.7H943.7H944H944.1H944.1H944.7H945H945.5H945.7H946H946.1H946.2H946.4H946.8H947.1H947.3H947.7H949H949.1H949.5H949.9H950.1H950.6H950.6H951.9H951.9H952H952.1H952.6H952.8H953.1H953.1H953.1H953.2H953.5H953.9H954.4H954.6H955H955H955.3H955.4H955.5H955.6H956.3H956.5H957.1H957.1H957.2H957.3H957.8H958.9H959.6H959.9H960.1H960.1H960.3H960.4H960.7H961.5H961.7H961.7H961.9H962.2H962.3H962.5H962.5H962.8H962.9H963.5H963.6H963.8H964.1H964.4H964.4H964.6H964.8H965.2H965.2H965.3H965.7H965.9H966H966.3H966.4H966.8H967.1H967.2H967.3H967.8H967.9H968.1H968.1H968.2H968.2H968.4H968.5"/>
<path class="mP" d="M622.5,275.2H623.3H623.7H623.7H624H624.2H627.5H627.7H627.9H628H629.7H629.9H630.1H630.5H630.5H631H631.3H632.7H632.9H633.6H634.8H636H636.4H637.3H637.6H637.8H637.9H638H638.9H640H640.2H640.3H640.3H640.9H641H641.4H641.5H642.1H642.3H643.3H643.6H644.5H645.3H646H647.1H647.3H647.3H647.4H647.7H648.1H648.3H649.5H649.7H649.7H649.8H650.1H650.5H650.6H651.6H652H652.2H652.6H652.6H652.6H653.1H653.6H653.7H653.8H653.8H655.8H656.9H657.3H658.8H659.5H659.6H659.9H660H660H660.4H660.9H662H662.4H663.4H663.8H663.8H665.4H665.6H665.8H666.4H669.3H669.3H669.4H669.5H669.7H669.7H669.9H670.5H670.9H672.1H672.4H673.1H674.1H674.8H675.6H676.9H677.9H678.1H678.3H678.4H678.5H678.8H679H679.5H679.7H680.8H681H681.9H682.2H682.3H685.4H685.8H686H686.3H687.1H687.4H688.4H688.6H689.9H690.2H691.3H691.6H691.7H691.8H692.6H693.1H693.2H694.8H695.3H695.4H695.9H696H699.1H699.3H700.1H700.5H701.2H702H702.3H702.7H703H703.2H704.4H704.5H705.9H706.7H707H707.2H707.2H707.4H707.6H707.8H709.2H709.9H710.1H710.3H710.7H711H711.9H713.2H713.8H715.6H715.7H715.7H716.4H717.3H717.9H718.8H719.1H719.1H719.2H719.7H721.3H721.7H722.4H723.5H723.6H726.4H726.4H726.5H728.5H730.6H731.4H732.3H732.8H733.2H733.3H733.6H734.3H734.5H735.4H736.5H736.5H736.5H736.7H737H738.7H739.6H739.7H739.7H740.6H741.3H742.5H742.6H742.7H743.8H743.9H744.3H744.4H744.9H746H747.3H747.3H747.4H747.8H747.8H748.3H749.5H750.2H752.1H752.2H752.4H753.1H753.6H754H754.4H755.2H755.7H755.8H756.1H756.6H758H758.2H758.3H760.3H760.5H760.7H761.6H761.8H761.8H761.8H762.2H762.4H763.4H763.8H763.9H764.4H764.9H765H765.5H765.8H768H769.2H771.1H771.5H772.6H772.6H773.1H773.4H775.1H775.1H775.1H775.2H775.6H776.5H777H777.5H777.5H778.2H778.4H778.7H779.3H779.3H780.8H780.9H781.1H781.5H781.7H782.7H783H783.5H784H785.7H785.7H786H787.4H787.5H787.6H788H788.9H789H789.1H789.1H789.3H789.6H790H790.1H790.4H790.4H790.5H790.5H790.8H791.1H792.7H794.2H795.8H796.7H796.8H797.5H797.9H798.2H798.3H798.5H799H799.1H799.4H799.5H800H800.4H801.1H801.6H802.8H803.3H803.9H804H804.4H804.8H805.5H805.6H805.6H806H806.6H807H807.1H807.4H807.4H808H808.3H808.4H808.5H808.6H809.4H809.7H812.2H813.2H813.3H813.5H814.2H815.2H815.2H815.3H816.1H816.3H816.8H817.1H817.4H817.7H817.7H817.7H817.9H818.5H818.7H818.7H820H820.4H820.5H820.6H820.9H821.8H822.2H822.9H823.1H823.4H823.7H825.1H825.2H827.2H827.6H829H829.2H830H831.1H832.4H832.6H832.8H833H833.3H834H834.5H834.7H834.9H834.9H835.7H836.1H836.1H836.3H836.6H836.7H838.7H839H840.3H840.4H842.5H842.8H843.6H843.9H844H845H845.1H845.1H846.5H846.5H846.7H847H847.3H847.5H847.7H848.9H849H849H849.3H850.1H850.3H852H852.5H852.8H853.3H854.1H854.1H855.2H855.2H855.2H856.2H857.1H857.6H857.9H858H858H858.8H860.5H860.7H861H861.8H862H862.1H863.4H865H865.4H867.1H868.2H868.6H868.8H869.3H870H870.8H871H871H871.2H872.3H873H873.2H873.3H873.4H875.6H876.4H876.8H879.6H879.9H880.3H880.4H880.6H881.2H881.7H881.7H881.8H882.9H883H884H884.7H885H886H886.3H886.7H888.1H888.1H888.1H888.5H888.7H890.2H890.5H890.9H891.2H892.3H893.2H893.3H894.7H895.7H895.7H896.2H896.8H897.2H897.4H897.6H899.2H900H900H900.6H900.9H901.2H901.5H901.7H901.8H902.2H902.4H902.8H902.8H903.4H903.9H904.4H904.5H904.8H904.9H905.6H905.9H908.2H908.7H909.2H909.5H910H910H910H910.1H910.4H911.2H912.9H913.2H913.3H914.7H915H915H915.5H916.3H917.5H918H919.2H920.8H921H921.2H921.3H922.9H923.7H923.8H924H924.4H925.5H927.3H927.9H928.4H929.8H930.1H930.6H930.7H931H931.2H931.3H931.5H931.9H932.7H932.7H933.8H933.8H934.2H934.4H935.1H937.4H937.9H938.4H938.4H938.9H939.1H939.3H939.6H939.9H940.5H941.2H942.8H943.1H945.2H946.1H947.4H947.7H948.3H948.8H948.9H949.2H949.3H949.4H949.4H950.1H950.1H950.8H951.3H951.9H952.6H953.1H953.4H953.4H954.1H955.1H955.7H956.4H957.6H957.9H959H959H959.2H959.7H960.6H960.6H961.1H961.3H961.7H962.6H963.9H965.4H965.9H966H966.3H967.1H968.2H968.3"/>
<path class="mP" d="M622.5,212.5H623.5H624.7H624.8H625.1H625.4H625.5H625.7H625.9H626H626.1H626.1H627.2H628.7H628.9H629.7H630.5H630.6H630.8H631.2H631.3H633.2H633.6H634.3H634.8H635.7H636H636.1H636.2H636.2H637.7H638.8H639.2H640.8H641.1H641.2H643.4H644H644.7H644.8H644.8H648H648H649.2H650H650.1H651.9H653.4H653.5H654H654.3H656.2H656.6H657.9H660.4H661.5H662.6H664.6H665H665.7H665.8H668.9H669.2H670.4H672.5H675.5H676.3H676.3H677.3H677.7H678.1H678.7H679.4H679.7H679.7H680.8H680.9H681.3H681.9H682H682H682H683.2H684.2H685H685.2H685.4H686.5H686.8H688.4H688.5H689.7H690.1H692.8H693.3H693.6H693.7H693.8H694.2H694.2H699.4H699.8H700.3H701H701.7H701.8H702.5H703.7H703.7H705.2H705.7H705.8H706.6H706.8H707.7H708.7H709.2H710.1H710.1H710.2H711.1H711.2H711.3H711.4H711.8H712.2H712.2H713.3H714H715.9H716.3H716.5H716.6H716.7H719H719.2H719.4H719.8H720.3H720.5H721.3H722.5H723.2H724.9H725.7H725.8H725.9H726.8H729.5H730.3H730.4H730.4H730.5H730.5H731.4H731.9H732.1H734.1H734.1H735.6H736.1H739.1H739.8H740H740.5H740.7H740.8H744.6H745H746.7H747.1H747.6H747.7H748.5H749.6H749.8H750H750.7H751.4H753.8H759.5H759.6H760.1H760.1H760.8H762.8H763H763.4H764.8H765H765.7H766.2H767.4H768.9H770H770.3H770.5H771.4H771.5H771.9H772.8H773.7H774.3H774.9H775.3H776H776.3H777H777.4H777.5H778.1H778.2H780.8H781.2H781.2H782H782.3H782.4H782.7H783H783.7H783.7H783.8H784H784.2H784.3H784.3H785.6H787.5H789.1H790.1H790.7H791.9H792.3H792.5H792.8H794.2H794.5H795.1H795.5H796.2H797.2H799.4H800.3H803.8H803.9H804.2H804.6H804.7H806.2H806.5H807.5H807.8H808.8H809.7H809.8H810.8H810.9H811.3H813.7H813.8H814.4H814.6H814.6H815.5H815.7H817.4H818.5H818.6H819.2H819.5H820.9H821H821H821H822H822.9H823.7H824.4H825.6H825.6H827.8H828.1H828.2H829.1H832.3H833H833.3H833.9H835H835.5H835.9H836.2H836.5H836.8H837.2H837.3H837.5H838.1H838.2H838.3H839.4H839.4H841.9H842.7H844.6H845.3H845.6H847.1H847.3H847.7H847.8H849H849.9H850H850H850H850.1H851.3H852.6H853.4H853.8H855.8H856.6H856.9H857H858.5H858.9H860.8H861.5H861.8H864.4H864.5H865.4H866.9H867.2H867.3H868H868.2H868.6H869.3H871.2H871.3H871.4H872H872.5H873.1H875.4H876.3H876.4H876.9H876.9H877.2H877.3H877.6H878.2H878.3H878.7H879H879H879.5H881.9H881.9H883.8H884.4H884.9H885.2H885.3H885.7H886.1H886.4H886.7H887.6H887.8H888H888.2H890H890.8H892.1H892.6H892.9H893.4H895.4H896.5H897.5H899H900.1H900.1H900.2H901.2H901.6H902.6H903.1H903.6H903.7H904.9H906H906.6H907H908.1H908.5H910.3H913.3H913.5H915.5H915.8H919.6H919.8H919.8H920H920.2H920.7H920.7H921.3H921.4H921.7H921.9H922.1H924H924.3H924.6H924.7H924.7H926.6H926.8H927.9H928.8H929.4H929.5H929.9H930.8H930.8H931.2H932.2H932.9H934.2H934.7H934.8H935H935.5H935.9H936H938.3H939H941H941.2H942.1H942.4H944H944.5H946.2H946.6H946.7H947.4H947.9H949.7H950.6H951.5H952.4H952.7H953.4H954H954.1H954.2H954.6H955.2H956H956.6H956.8H957.7H958.4H958.6H958.6H959.3H959.5H960H960.4H960.4H960.5H960.9H962.1H962.6H963.9H964.3H964.5H964.7H964.8H964.8H965.1H965.2H965.3H965.6H966.4H966.7H966.7H967.1H967.4H967.4H968H968.1"/>
</g>
<text transform="translate(361.6,163.9) scale(1,1.035)" font-size="37.9" text-anchor="middle" font-weight="bold" fill="#2B4F79">Total: 15117</text>
<text transform="translate(795.4,163.9) scale(1,1.035)" font-size="37.9" text-anchor="middle" font-weight="bold" fill="#4C9BE8">Total: 26452</text>
<rect x="101.3" y="61.3" width="954.4000000000001" height="814.4000000000001" fill="none" stroke="#262626" stroke-width="2.84"/>
</g>
<g stroke="#333" stroke-width="2.84">
<line x1="93.97" x2="101.3" y1="839.68" y2="839.68"/>
<line x1="93.97" x2="101.3" y1="714.25" y2="714.25"/>
<line x1="93.97" x2="101.3" y1="588.82" y2="588.82"/>
<line x1="93.97" x2="101.3" y1="463.39" y2="463.39"/>
<line x1="93.97" x2="101.3" y1="337.96" y2="337.96"/>
<line x1="93.97" x2="101.3" y1="212.53" y2="212.53"/>
<line x1="93.97" x2="101.3" y1="87.10" y2="87.10"/>
<line x1="361.6" x2="361.6" y1="875.7" y2="883.03"/>
<line x1="795.4" x2="795.4" y1="875.7" y2="883.03"/>
</g>
<text transform="translate(88.1,848.08) scale(1,1.035)" font-size="23.47" text-anchor="end" fill="#454545">50</text>
<text transform="translate(88.1,722.65) scale(1,1.035)" font-size="23.47" text-anchor="end" fill="#454545">60</text>
<text transform="translate(88.1,597.22) scale(1,1.035)" font-size="23.47" text-anchor="end" fill="#454545">70</text>
<text transform="translate(88.1,471.79) scale(1,1.035)" font-size="23.47" text-anchor="end" fill="#454545">80</text>
<text transform="translate(88.1,346.36) scale(1,1.035)" font-size="23.47" text-anchor="end" fill="#454545">90</text>
<text transform="translate(88.1,220.93) scale(1,1.035)" font-size="23.47" text-anchor="end" fill="#454545">100</text>
<text transform="translate(88.1,95.50) scale(1,1.035)" font-size="23.47" text-anchor="end" fill="#454545">110</text>
<text transform="translate(361.3,905.7) scale(1,1.035)" font-size="23.47" text-anchor="middle" fill="#454545">Default</text>
<text transform="translate(795.1,905.7) scale(1,1.035)" font-size="23.47" text-anchor="middle" fill="#454545">Payoff</text>
<text transform="translate(101.3,40.1) scale(1,1.035)" font-size="34.63" font-weight="bold" fill="#000">Compare Original Loan to Value with Default Status</text>
<text transform="translate(35.7,468.5) rotate(-90) scale(1,1.035)" font-size="29.33" text-anchor="middle" fill="#000">Original Loan to Value</text>
<text transform="translate(1099.4,425.4) scale(1,1.035)" font-size="29.33" fill="#000">Mortgage Status</text>
<text transform="translate(1160.1,474.9) scale(1,1.035)" font-size="23.47" fill="#000">Default</text>
<text transform="translate(1160.1,521.9) scale(1,1.035)" font-size="23.47" fill="#000">Payoff</text>
<circle cx="1122.5" cy="466.7" r="2.25" fill="#2B4F79" fill-opacity=".3" stroke="#2B4F79" stroke-opacity=".3" stroke-width="1.8"/>
<circle cx="1122.5" cy="512.7" r="2.25" fill="#4C9BE8" fill-opacity=".3" stroke="#4C9BE8" stroke-opacity=".3" stroke-width="1.8"/>
</svg>
</body></html>
